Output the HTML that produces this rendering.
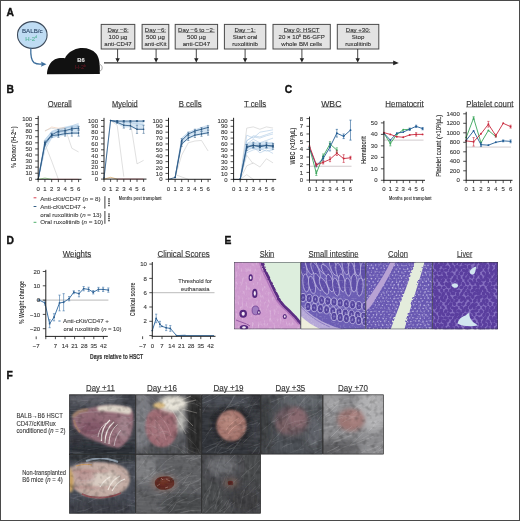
<!DOCTYPE html>
<html><head><meta charset="utf-8"><title>Figure</title>
<style>
html,body{margin:0;padding:0;background:#fff;}
body{width:520px;height:521px;overflow:hidden;}
svg{display:block;filter:blur(0.3px);font-family:"Liberation Sans",Arial,sans-serif;}
</style></head>
<body>
<svg width="520" height="521" viewBox="0 0 520 521">
<defs>
<filter id="b1" x="-20%" y="-20%" width="140%" height="140%"><feGaussianBlur stdDeviation="1"/></filter>
<filter id="b2" x="-30%" y="-30%" width="160%" height="160%"><feGaussianBlur stdDeviation="2"/></filter>
<filter id="b3" x="-30%" y="-30%" width="160%" height="160%"><feGaussianBlur stdDeviation="3"/></filter>
<filter id="b05"><feGaussianBlur stdDeviation="0.5"/></filter>
<filter id="fur" x="0" y="0" width="100%" height="100%"><feTurbulence type="fractalNoise" baseFrequency="0.06 0.5" numOctaves="2" seed="3"/><feColorMatrix type="matrix" values="0 0 0 0 1  0 0 0 0 1  0 0 0 0 1  1.2 0 0 0 -0.45"/></filter>
<filter id="fur2" x="0" y="0" width="100%" height="100%"><feTurbulence type="fractalNoise" baseFrequency="0.5 0.06" numOctaves="2" seed="7"/><feColorMatrix type="matrix" values="0 0 0 0 1  0 0 0 0 1  0 0 0 0 1  1.2 0 0 0 -0.45"/></filter>
<filter id="soft" x="-5%" y="-5%" width="110%" height="110%"><feGaussianBlur stdDeviation="0.6"/></filter>
<filter id="furb" x="0" y="0" width="100%" height="100%"><feTurbulence type="fractalNoise" baseFrequency="0.35 0.08" numOctaves="2" seed="13"/><feColorMatrix type="matrix" values="0 0 0 0 1  0 0 0 0 1  0 0 0 0 1  1.3 0 0 0 -0.5"/></filter>
<filter id="mottle" x="0" y="0" width="100%" height="100%"><feTurbulence type="fractalNoise" baseFrequency="0.18" numOctaves="2" seed="21"/><feColorMatrix type="matrix" values="0 0 0 0 0  0 0 0 0 0  0 0 0 0 0  -1.6 0 0 0 0.85"/></filter>
<filter id="dots" x="0" y="0" width="100%" height="100%"><feTurbulence type="fractalNoise" baseFrequency="0.55" numOctaves="1" seed="11"/><feColorMatrix type="matrix" values="0 0 0 0 1  0 0 0 0 1  0 0 0 0 1  3 0 0 0 -1.55"/></filter>
<filter id="skintex" x="0" y="0" width="100%" height="100%"><feTurbulence type="fractalNoise" baseFrequency="0.25 0.5" numOctaves="2" seed="9"/><feColorMatrix type="matrix" values="0 0 0 0 0.6  0 0 0 0 0.3  0 0 0 0 0.62  2.6 0 0 0 -1.25"/></filter>
<filter id="skinlite" x="0" y="0" width="100%" height="100%"><feTurbulence type="fractalNoise" baseFrequency="0.5 0.22" numOctaves="2" seed="17"/><feColorMatrix type="matrix" values="0 0 0 0 0.97  0 0 0 0 0.9  0 0 0 0 0.97  2.6 0 0 0 -1.35"/></filter>
<filter id="wavy" x="-10%" y="-10%" width="120%" height="120%"><feTurbulence type="turbulence" baseFrequency="0.3" numOctaves="1" seed="2" result="n"/><feDisplacementMap in="SourceGraphic" in2="n" scale="2.2"/></filter>
<filter id="cells" x="0" y="0" width="100%" height="100%"><feTurbulence type="turbulence" baseFrequency="0.35" numOctaves="1" seed="5"/><feColorMatrix type="matrix" values="0 0 0 0 1  0 0 0 0 1  0 0 0 0 1  -3 0 0 0 0.55"/></filter>
<clipPath id="ec0"><rect x="234.2" y="262.0" width="66.5" height="67.19999999999999"/></clipPath>
<clipPath id="ec1"><rect x="300.7" y="262.0" width="65.0" height="67.19999999999999"/></clipPath>
<clipPath id="ec2"><rect x="365.7" y="262.0" width="66.69999999999999" height="67.19999999999999"/></clipPath>
<clipPath id="ec3"><rect x="432.4" y="262.0" width="65.60000000000002" height="67.19999999999999"/></clipPath>
<clipPath id="fc00"><rect x="69.4" y="394.6" width="66.19999999999999" height="59.69999999999999"/></clipPath>
<clipPath id="fc10"><rect x="135.6" y="394.6" width="66.0" height="59.69999999999999"/></clipPath>
<clipPath id="fc20"><rect x="201.6" y="394.6" width="59.099999999999994" height="59.69999999999999"/></clipPath>
<clipPath id="fc30"><rect x="260.7" y="394.6" width="62.10000000000002" height="59.69999999999999"/></clipPath>
<clipPath id="fc40"><rect x="322.8" y="394.6" width="60.80000000000001" height="59.69999999999999"/></clipPath>
<clipPath id="fc01"><rect x="69.4" y="454.3" width="66.19999999999999" height="59.099999999999966"/></clipPath>
<clipPath id="fc11"><rect x="135.6" y="454.3" width="66.0" height="59.099999999999966"/></clipPath>
<clipPath id="fc21"><rect x="201.6" y="454.3" width="59.099999999999994" height="59.099999999999966"/></clipPath>
</defs>
<rect x="0" y="0" width="520" height="521" fill="#fff"/>
<text x="6.6" y="16.2" font-size="10.3" fill="#111" font-weight="bold" stroke="#111" stroke-width="0.35">A</text>
<ellipse cx="32.3" cy="35" rx="14.8" ry="13.4" fill="#bfdcf3" stroke="#3e4b5b" stroke-width="1.1"/>
<text x="32.3" y="33.2" font-size="6.2" fill="#2e4868" text-anchor="middle" stroke="#2e4868" stroke-width="0.12">BALB/c</text>
<text x="31.2" y="40.6" font-size="6.0" fill="#57b59a" text-anchor="middle" stroke="#57b59a" stroke-width="0.12">H-2<tspan font-size="3.6" dy="-2.2">d</tspan></text>
<path d="M30.8,48.6 C30.6,54 30.4,60 34,62.6 C36.5,64.2 40,64.2 42,64" fill="none" stroke="#3b6d9b" stroke-width="1.3"/>
<path d="M46.5,64.2 L40.8,61.4 L42,64.1 L40.8,66.8 Z" fill="#3b6d9b"/>
<path d="M47,74.3 C47,68 50,62 55,59.3 C58,57.8 62,57.6 65,58.2 C67,53.5 72,49.8 78,48.5 C85,47.2 92,49 96,53.5 C99.4,57.5 100.2,64 99.8,74 Z" fill="#111"/>
<path d="M99.4,64.5 C102.8,64.5 103.2,70.5 99.6,71.2" fill="none" stroke="#8a8a8a" stroke-width="0.8"/>
<text x="81" y="62.2" font-size="5.8" fill="#e8e8e8" text-anchor="middle" font-weight="bold" stroke="#e8e8e8" stroke-width="0.12">B6</text>
<text x="80.5" y="69.4" font-size="5.6" fill="#5e1622" text-anchor="middle" stroke="#5e1622" stroke-width="0.12">H-2<tspan font-size="3.5" dy="-2">b</tspan></text>
<line x1="104.00" y1="62.90" x2="394.00" y2="62.90" stroke="#333" stroke-width="1.2"/>
<path d="M398.8,62.9 L393.2,60.6 L393.2,65.2 Z" fill="#222"/>
<rect x="101.2" y="24.4" width="33.60000000000001" height="24.6" fill="#e3e3e3" stroke="#4a4a4a" stroke-width="1"/>
<text x="118.0" y="31.8" font-size="6.1" fill="#333" text-anchor="middle" stroke="#333" stroke-width="0.12">Day −8:</text>
<line x1="107.40" y1="32.50" x2="128.60" y2="32.50" stroke="#444" stroke-width="0.45"/>
<text x="118.0" y="39.0" font-size="6.1" fill="#333" text-anchor="middle" stroke="#333" stroke-width="0.12">100 µg</text>
<text x="118.0" y="46.1" font-size="6.1" fill="#333" text-anchor="middle" stroke="#333" stroke-width="0.12">anti-CD47</text>
<line x1="117.60" y1="49.00" x2="117.60" y2="59.00" stroke="#333" stroke-width="0.9"/>
<path d="M115.40,58.2 L119.80,58.2 L117.60,62.4 Z" fill="#222"/>
<rect x="142.1" y="24.4" width="26.700000000000017" height="24.6" fill="#e3e3e3" stroke="#4a4a4a" stroke-width="1"/>
<text x="155.45" y="31.8" font-size="6.1" fill="#333" text-anchor="middle" stroke="#333" stroke-width="0.12">Day −6:</text>
<line x1="144.85" y1="32.50" x2="166.05" y2="32.50" stroke="#444" stroke-width="0.45"/>
<text x="155.45" y="39.0" font-size="6.1" fill="#333" text-anchor="middle" stroke="#333" stroke-width="0.12">500 µg</text>
<text x="155.45" y="46.1" font-size="6.1" fill="#333" text-anchor="middle" stroke="#333" stroke-width="0.12">anti-cKit</text>
<line x1="156.10" y1="49.00" x2="156.10" y2="59.00" stroke="#333" stroke-width="0.9"/>
<path d="M153.90,58.2 L158.30,58.2 L156.10,62.4 Z" fill="#222"/>
<rect x="175.2" y="24.4" width="42.400000000000006" height="24.6" fill="#e3e3e3" stroke="#4a4a4a" stroke-width="1"/>
<text x="196.39999999999998" y="31.8" font-size="6.1" fill="#333" text-anchor="middle" stroke="#333" stroke-width="0.12">Day −6 to −2:</text>
<line x1="178.09" y1="32.50" x2="214.71" y2="32.50" stroke="#444" stroke-width="0.45"/>
<text x="196.39999999999998" y="39.0" font-size="6.1" fill="#333" text-anchor="middle" stroke="#333" stroke-width="0.12">500 µg</text>
<text x="196.39999999999998" y="46.1" font-size="6.1" fill="#333" text-anchor="middle" stroke="#333" stroke-width="0.12">anti-CD47</text>
<line x1="196.30" y1="49.00" x2="196.30" y2="59.00" stroke="#333" stroke-width="0.9"/>
<path d="M194.10,58.2 L198.50,58.2 L196.30,62.4 Z" fill="#222"/>
<rect x="224.4" y="24.4" width="41.400000000000006" height="24.6" fill="#e3e3e3" stroke="#4a4a4a" stroke-width="1"/>
<text x="245.10000000000002" y="31.8" font-size="6.1" fill="#333" text-anchor="middle" stroke="#333" stroke-width="0.12">Day −1:</text>
<line x1="234.50" y1="32.50" x2="255.70" y2="32.50" stroke="#444" stroke-width="0.45"/>
<text x="245.10000000000002" y="39.0" font-size="6.1" fill="#333" text-anchor="middle" stroke="#333" stroke-width="0.12">Start oral</text>
<text x="245.10000000000002" y="46.1" font-size="6.1" fill="#333" text-anchor="middle" stroke="#333" stroke-width="0.12">ruxolitinib</text>
<line x1="245.10" y1="49.00" x2="245.10" y2="59.00" stroke="#333" stroke-width="0.9"/>
<path d="M242.90,58.2 L247.30,58.2 L245.10,62.4 Z" fill="#222"/>
<rect x="273.0" y="24.4" width="57.30000000000001" height="24.6" fill="#e3e3e3" stroke="#4a4a4a" stroke-width="1"/>
<text x="301.65" y="31.8" font-size="6.1" fill="#333" text-anchor="middle" stroke="#333" stroke-width="0.12">Day 0: HSCT</text>
<line x1="283.69" y1="32.50" x2="319.61" y2="32.50" stroke="#444" stroke-width="0.45"/>
<text x="301.65" y="39.0" font-size="6.1" fill="#333" text-anchor="middle" stroke="#333" stroke-width="0.12">20 × 10<tspan font-size="3.6" dy="-2.2">6</tspan><tspan dy="2.2"> B6-GFP</tspan></text>
<text x="301.65" y="46.1" font-size="6.1" fill="#333" text-anchor="middle" stroke="#333" stroke-width="0.12">whole BM cells</text>
<line x1="301.90" y1="49.00" x2="301.90" y2="59.00" stroke="#333" stroke-width="0.9"/>
<path d="M299.70,58.2 L304.10,58.2 L301.90,62.4 Z" fill="#222"/>
<rect x="337.3" y="24.4" width="41.5" height="24.6" fill="#e3e3e3" stroke="#4a4a4a" stroke-width="1"/>
<text x="358.05" y="31.8" font-size="6.1" fill="#333" text-anchor="middle" stroke="#333" stroke-width="0.12">Day +30:</text>
<line x1="345.76" y1="32.50" x2="370.34" y2="32.50" stroke="#444" stroke-width="0.45"/>
<text x="358.05" y="39.0" font-size="6.1" fill="#333" text-anchor="middle" stroke="#333" stroke-width="0.12">Stop</text>
<text x="358.05" y="46.1" font-size="6.1" fill="#333" text-anchor="middle" stroke="#333" stroke-width="0.12">ruxolitinib</text>
<line x1="357.70" y1="49.00" x2="357.70" y2="59.00" stroke="#333" stroke-width="0.9"/>
<path d="M355.50,58.2 L359.90,58.2 L357.70,62.4 Z" fill="#222"/>
<text x="6.6" y="93.2" font-size="10.3" fill="#111" font-weight="bold" stroke="#111" stroke-width="0.35">B</text>
<path d="M44.93,139.17 L51.66,130.66 L58.39,128.23 L65.12,126.40 L71.85,125.19 L78.58,123.97 L78.58,134.31 L71.85,134.31 L65.12,135.52 L58.39,136.74 L51.66,137.96 L44.93,147.68 Z" fill="#c9def0" opacity="0.8"/>
<polyline points="38.20,179.30 44.93,141.60 51.66,133.70 58.39,130.66 65.12,128.23 71.85,125.80 78.58,123.36" fill="none" stroke="#a6c4e2" stroke-width="0.55" stroke-linejoin="round"/>
<polyline points="38.20,179.30 44.93,145.86 51.66,136.74 58.39,133.09 65.12,130.66 71.85,128.23 78.58,125.80" fill="none" stroke="#a6c4e2" stroke-width="0.55" stroke-linejoin="round"/>
<polyline points="38.20,179.30 44.93,150.12 51.66,137.96 58.39,135.52 65.12,131.88 71.85,129.44 78.58,127.01" fill="none" stroke="#a6c4e2" stroke-width="0.55" stroke-linejoin="round"/>
<polyline points="38.20,179.30 44.93,139.78 51.66,131.88 58.39,129.44 65.12,127.62 71.85,127.01 78.58,125.19" fill="none" stroke="#a6c4e2" stroke-width="0.55" stroke-linejoin="round"/>
<polyline points="44.93,131.27 51.66,127.01 58.39,128.23 65.12,127.62" fill="none" stroke="#f0c9b0" stroke-width="0.6" stroke-linejoin="round"/>
<polyline points="44.93,130.66 51.66,128.23 58.39,129.44 65.12,128.23 71.85,148.29 78.58,151.94" fill="none" stroke="#c6c6c6" stroke-width="0.55" stroke-linejoin="round"/>
<polyline points="44.93,144.04 51.66,161.06 58.39,179.30" fill="none" stroke="#c6c6c6" stroke-width="0.55" stroke-linejoin="round"/>
<polyline points="38.20,179.30 44.93,144.04 51.66,135.52 58.39,134.92 65.12,133.70 71.85,133.09 78.58,133.09" fill="none" stroke="#2c5a86" stroke-width="0.85" stroke-linejoin="round"/>
<circle cx="38.20" cy="179.30" r="0.8" fill="#24507a"/>
<line x1="44.93" y1="145.86" x2="44.93" y2="142.21" stroke="#2c5a86" stroke-width="0.5"/>
<line x1="43.83" y1="145.86" x2="46.03" y2="145.86" stroke="#2c5a86" stroke-width="0.5"/>
<line x1="43.83" y1="142.21" x2="46.03" y2="142.21" stroke="#2c5a86" stroke-width="0.5"/>
<circle cx="44.93" cy="144.04" r="0.8" fill="#24507a"/>
<line x1="51.66" y1="137.35" x2="51.66" y2="133.70" stroke="#2c5a86" stroke-width="0.5"/>
<line x1="50.56" y1="137.35" x2="52.76" y2="137.35" stroke="#2c5a86" stroke-width="0.5"/>
<line x1="50.56" y1="133.70" x2="52.76" y2="133.70" stroke="#2c5a86" stroke-width="0.5"/>
<circle cx="51.66" cy="135.52" r="0.8" fill="#24507a"/>
<line x1="58.39" y1="137.35" x2="58.39" y2="132.48" stroke="#2c5a86" stroke-width="0.5"/>
<line x1="57.29" y1="137.35" x2="59.49" y2="137.35" stroke="#2c5a86" stroke-width="0.5"/>
<line x1="57.29" y1="132.48" x2="59.49" y2="132.48" stroke="#2c5a86" stroke-width="0.5"/>
<circle cx="58.39" cy="134.92" r="0.8" fill="#24507a"/>
<line x1="65.12" y1="136.13" x2="65.12" y2="131.27" stroke="#2c5a86" stroke-width="0.5"/>
<line x1="64.02" y1="136.13" x2="66.22" y2="136.13" stroke="#2c5a86" stroke-width="0.5"/>
<line x1="64.02" y1="131.27" x2="66.22" y2="131.27" stroke="#2c5a86" stroke-width="0.5"/>
<circle cx="65.12" cy="133.70" r="0.8" fill="#24507a"/>
<line x1="71.85" y1="136.13" x2="71.85" y2="130.05" stroke="#2c5a86" stroke-width="0.5"/>
<line x1="70.75" y1="136.13" x2="72.95" y2="136.13" stroke="#2c5a86" stroke-width="0.5"/>
<line x1="70.75" y1="130.05" x2="72.95" y2="130.05" stroke="#2c5a86" stroke-width="0.5"/>
<circle cx="71.85" cy="133.09" r="0.8" fill="#24507a"/>
<line x1="78.58" y1="136.13" x2="78.58" y2="130.05" stroke="#2c5a86" stroke-width="0.5"/>
<line x1="77.48" y1="136.13" x2="79.68" y2="136.13" stroke="#2c5a86" stroke-width="0.5"/>
<line x1="77.48" y1="130.05" x2="79.68" y2="130.05" stroke="#2c5a86" stroke-width="0.5"/>
<circle cx="78.58" cy="133.09" r="0.8" fill="#24507a"/>
<polyline points="38.20,179.30 44.93,142.82 51.66,134.92 58.39,131.27 65.12,130.66 71.85,128.84 78.58,128.23" fill="none" stroke="#2c5a86" stroke-width="0.85" stroke-linejoin="round"/>
<circle cx="38.20" cy="179.30" r="0.8" fill="#24507a"/>
<line x1="44.93" y1="144.64" x2="44.93" y2="141.00" stroke="#2c5a86" stroke-width="0.5"/>
<line x1="43.83" y1="144.64" x2="46.03" y2="144.64" stroke="#2c5a86" stroke-width="0.5"/>
<line x1="43.83" y1="141.00" x2="46.03" y2="141.00" stroke="#2c5a86" stroke-width="0.5"/>
<circle cx="44.93" cy="142.82" r="0.8" fill="#24507a"/>
<line x1="51.66" y1="136.74" x2="51.66" y2="133.09" stroke="#2c5a86" stroke-width="0.5"/>
<line x1="50.56" y1="136.74" x2="52.76" y2="136.74" stroke="#2c5a86" stroke-width="0.5"/>
<line x1="50.56" y1="133.09" x2="52.76" y2="133.09" stroke="#2c5a86" stroke-width="0.5"/>
<circle cx="51.66" cy="134.92" r="0.8" fill="#24507a"/>
<line x1="58.39" y1="133.09" x2="58.39" y2="129.44" stroke="#2c5a86" stroke-width="0.5"/>
<line x1="57.29" y1="133.09" x2="59.49" y2="133.09" stroke="#2c5a86" stroke-width="0.5"/>
<line x1="57.29" y1="129.44" x2="59.49" y2="129.44" stroke="#2c5a86" stroke-width="0.5"/>
<circle cx="58.39" cy="131.27" r="0.8" fill="#24507a"/>
<line x1="65.12" y1="132.48" x2="65.12" y2="128.84" stroke="#2c5a86" stroke-width="0.5"/>
<line x1="64.02" y1="132.48" x2="66.22" y2="132.48" stroke="#2c5a86" stroke-width="0.5"/>
<line x1="64.02" y1="128.84" x2="66.22" y2="128.84" stroke="#2c5a86" stroke-width="0.5"/>
<circle cx="65.12" cy="130.66" r="0.8" fill="#24507a"/>
<line x1="71.85" y1="130.66" x2="71.85" y2="127.01" stroke="#2c5a86" stroke-width="0.5"/>
<line x1="70.75" y1="130.66" x2="72.95" y2="130.66" stroke="#2c5a86" stroke-width="0.5"/>
<line x1="70.75" y1="127.01" x2="72.95" y2="127.01" stroke="#2c5a86" stroke-width="0.5"/>
<circle cx="71.85" cy="128.84" r="0.8" fill="#24507a"/>
<line x1="78.58" y1="130.05" x2="78.58" y2="126.40" stroke="#2c5a86" stroke-width="0.5"/>
<line x1="77.48" y1="130.05" x2="79.68" y2="130.05" stroke="#2c5a86" stroke-width="0.5"/>
<line x1="77.48" y1="126.40" x2="79.68" y2="126.40" stroke="#2c5a86" stroke-width="0.5"/>
<circle cx="78.58" cy="128.23" r="0.8" fill="#24507a"/>
<polyline points="38.20,179.30 44.93,178.08 51.66,179.30" fill="none" stroke="#79b86a" stroke-width="0.7" stroke-linejoin="round"/>
<polyline points="51.66,179.30 78.58,179.30" fill="none" stroke="#e0707a" stroke-width="0.7" stroke-linejoin="round"/>
<line x1="38.20" y1="115.90" x2="38.20" y2="179.70" stroke="#222" stroke-width="1.0"/>
<line x1="35.20" y1="179.30" x2="38.20" y2="179.30" stroke="#222" stroke-width="0.8"/>
<line x1="35.20" y1="173.22" x2="38.20" y2="173.22" stroke="#222" stroke-width="0.8"/>
<line x1="35.20" y1="167.14" x2="38.20" y2="167.14" stroke="#222" stroke-width="0.8"/>
<line x1="35.20" y1="161.06" x2="38.20" y2="161.06" stroke="#222" stroke-width="0.8"/>
<line x1="35.20" y1="154.98" x2="38.20" y2="154.98" stroke="#222" stroke-width="0.8"/>
<line x1="35.20" y1="148.90" x2="38.20" y2="148.90" stroke="#222" stroke-width="0.8"/>
<line x1="35.20" y1="142.82" x2="38.20" y2="142.82" stroke="#222" stroke-width="0.8"/>
<line x1="35.20" y1="136.74" x2="38.20" y2="136.74" stroke="#222" stroke-width="0.8"/>
<line x1="35.20" y1="130.66" x2="38.20" y2="130.66" stroke="#222" stroke-width="0.8"/>
<line x1="35.20" y1="124.58" x2="38.20" y2="124.58" stroke="#222" stroke-width="0.8"/>
<line x1="35.20" y1="118.50" x2="38.20" y2="118.50" stroke="#222" stroke-width="0.8"/>
<text x="32.2" y="181.4" font-size="6.0" fill="#3a3a3a" text-anchor="end" stroke="#3a3a3a" stroke-width="0.12">0</text>
<text x="32.2" y="175.32" font-size="6.0" fill="#3a3a3a" text-anchor="end" stroke="#3a3a3a" stroke-width="0.12">10</text>
<text x="32.2" y="169.24" font-size="6.0" fill="#3a3a3a" text-anchor="end" stroke="#3a3a3a" stroke-width="0.12">20</text>
<text x="32.2" y="163.16" font-size="6.0" fill="#3a3a3a" text-anchor="end" stroke="#3a3a3a" stroke-width="0.12">30</text>
<text x="32.2" y="157.08" font-size="6.0" fill="#3a3a3a" text-anchor="end" stroke="#3a3a3a" stroke-width="0.12">40</text>
<text x="32.2" y="151.0" font-size="6.0" fill="#3a3a3a" text-anchor="end" stroke="#3a3a3a" stroke-width="0.12">50</text>
<text x="32.2" y="144.92" font-size="6.0" fill="#3a3a3a" text-anchor="end" stroke="#3a3a3a" stroke-width="0.12">60</text>
<text x="32.2" y="138.84" font-size="6.0" fill="#3a3a3a" text-anchor="end" stroke="#3a3a3a" stroke-width="0.12">70</text>
<text x="32.2" y="132.76" font-size="6.0" fill="#3a3a3a" text-anchor="end" stroke="#3a3a3a" stroke-width="0.12">80</text>
<text x="32.2" y="126.68" font-size="6.0" fill="#3a3a3a" text-anchor="end" stroke="#3a3a3a" stroke-width="0.12">90</text>
<text x="32.2" y="120.6" font-size="6.0" fill="#3a3a3a" text-anchor="end" stroke="#3a3a3a" stroke-width="0.12">100</text>
<line x1="37.70" y1="179.30" x2="81.50" y2="179.30" stroke="#222" stroke-width="1.0"/>
<line x1="38.20" y1="179.30" x2="38.20" y2="182.10" stroke="#222" stroke-width="0.8"/>
<line x1="44.93" y1="179.30" x2="44.93" y2="182.10" stroke="#222" stroke-width="0.8"/>
<line x1="51.66" y1="179.30" x2="51.66" y2="182.10" stroke="#222" stroke-width="0.8"/>
<line x1="58.39" y1="179.30" x2="58.39" y2="182.10" stroke="#222" stroke-width="0.8"/>
<line x1="65.12" y1="179.30" x2="65.12" y2="182.10" stroke="#222" stroke-width="0.8"/>
<line x1="71.85" y1="179.30" x2="71.85" y2="182.10" stroke="#222" stroke-width="0.8"/>
<line x1="78.58" y1="179.30" x2="78.58" y2="182.10" stroke="#222" stroke-width="0.8"/>
<text x="38.2" y="191.0" font-size="6.0" fill="#3a3a3a" text-anchor="middle" stroke="#3a3a3a" stroke-width="0.12">0</text>
<text x="44.93000000000001" y="191.0" font-size="6.0" fill="#3a3a3a" text-anchor="middle" stroke="#3a3a3a" stroke-width="0.12">1</text>
<text x="51.660000000000004" y="191.0" font-size="6.0" fill="#3a3a3a" text-anchor="middle" stroke="#3a3a3a" stroke-width="0.12">2</text>
<text x="58.39" y="191.0" font-size="6.0" fill="#3a3a3a" text-anchor="middle" stroke="#3a3a3a" stroke-width="0.12">3</text>
<text x="65.12" y="191.0" font-size="6.0" fill="#3a3a3a" text-anchor="middle" stroke="#3a3a3a" stroke-width="0.12">4</text>
<text x="71.85000000000001" y="191.0" font-size="6.0" fill="#3a3a3a" text-anchor="middle" stroke="#3a3a3a" stroke-width="0.12">5</text>
<text x="78.58000000000001" y="191.0" font-size="6.0" fill="#3a3a3a" text-anchor="middle" stroke="#3a3a3a" stroke-width="0.12">6</text>
<text x="59.75" y="106.6" font-size="8.4" fill="#333" text-anchor="middle" textLength="23.9" lengthAdjust="spacingAndGlyphs" stroke="#333" stroke-width="0.12">Overall</text>
<line x1="47.80" y1="107.00" x2="71.70" y2="107.00" stroke="#333" stroke-width="0.6"/>
<path d="M110.60,120.50 L117.20,120.50 L123.80,120.50 L130.40,120.50 L137.00,120.50 L143.60,120.50 L143.60,129.88 L137.00,129.88 L130.40,127.53 L123.80,127.53 L117.20,124.02 L110.60,121.09 Z" fill="#c9def0" opacity="0.8"/>
<polyline points="104.00,179.10 110.60,120.50 117.20,121.09 123.80,122.26 130.40,122.84 137.00,123.43 143.60,125.19" fill="none" stroke="#a6c4e2" stroke-width="0.55" stroke-linejoin="round"/>
<polyline points="110.60,120.50 117.20,125.19 123.80,176.76" fill="none" stroke="#c6c6c6" stroke-width="0.55" stroke-linejoin="round"/>
<polyline points="130.40,121.67 137.00,163.86 143.60,160.35" fill="none" stroke="#c6c6c6" stroke-width="0.55" stroke-linejoin="round"/>
<polyline points="104.00,177.93 110.60,120.50 117.20,121.09 123.80,121.09 130.40,121.09 137.00,121.09 143.60,121.09" fill="none" stroke="#2c5a86" stroke-width="0.85" stroke-linejoin="round"/>
<circle cx="104.00" cy="177.93" r="0.8" fill="#24507a"/>
<circle cx="110.60" cy="120.50" r="0.8" fill="#24507a"/>
<line x1="117.20" y1="121.67" x2="117.20" y2="120.50" stroke="#2c5a86" stroke-width="0.5"/>
<line x1="116.10" y1="121.67" x2="118.30" y2="121.67" stroke="#2c5a86" stroke-width="0.5"/>
<line x1="116.10" y1="120.50" x2="118.30" y2="120.50" stroke="#2c5a86" stroke-width="0.5"/>
<circle cx="117.20" cy="121.09" r="0.8" fill="#24507a"/>
<line x1="123.80" y1="121.67" x2="123.80" y2="120.50" stroke="#2c5a86" stroke-width="0.5"/>
<line x1="122.70" y1="121.67" x2="124.90" y2="121.67" stroke="#2c5a86" stroke-width="0.5"/>
<line x1="122.70" y1="120.50" x2="124.90" y2="120.50" stroke="#2c5a86" stroke-width="0.5"/>
<circle cx="123.80" cy="121.09" r="0.8" fill="#24507a"/>
<line x1="130.40" y1="121.67" x2="130.40" y2="120.50" stroke="#2c5a86" stroke-width="0.5"/>
<line x1="129.30" y1="121.67" x2="131.50" y2="121.67" stroke="#2c5a86" stroke-width="0.5"/>
<line x1="129.30" y1="120.50" x2="131.50" y2="120.50" stroke="#2c5a86" stroke-width="0.5"/>
<circle cx="130.40" cy="121.09" r="0.8" fill="#24507a"/>
<line x1="137.00" y1="121.67" x2="137.00" y2="120.50" stroke="#2c5a86" stroke-width="0.5"/>
<line x1="135.90" y1="121.67" x2="138.10" y2="121.67" stroke="#2c5a86" stroke-width="0.5"/>
<line x1="135.90" y1="120.50" x2="138.10" y2="120.50" stroke="#2c5a86" stroke-width="0.5"/>
<circle cx="137.00" cy="121.09" r="0.8" fill="#24507a"/>
<line x1="143.60" y1="121.67" x2="143.60" y2="120.50" stroke="#2c5a86" stroke-width="0.5"/>
<line x1="142.50" y1="121.67" x2="144.70" y2="121.67" stroke="#2c5a86" stroke-width="0.5"/>
<line x1="142.50" y1="120.50" x2="144.70" y2="120.50" stroke="#2c5a86" stroke-width="0.5"/>
<circle cx="143.60" cy="121.09" r="0.8" fill="#24507a"/>
<polyline points="110.60,120.50 117.20,122.26 123.80,125.19 130.40,125.77 137.00,129.29 143.60,129.29" fill="none" stroke="#2c5a86" stroke-width="0.85" stroke-linejoin="round"/>
<circle cx="110.60" cy="120.50" r="0.8" fill="#24507a"/>
<line x1="117.20" y1="123.43" x2="117.20" y2="121.09" stroke="#2c5a86" stroke-width="0.5"/>
<line x1="116.10" y1="123.43" x2="118.30" y2="123.43" stroke="#2c5a86" stroke-width="0.5"/>
<line x1="116.10" y1="121.09" x2="118.30" y2="121.09" stroke="#2c5a86" stroke-width="0.5"/>
<circle cx="117.20" cy="122.26" r="0.8" fill="#24507a"/>
<line x1="123.80" y1="128.12" x2="123.80" y2="122.26" stroke="#2c5a86" stroke-width="0.5"/>
<line x1="122.70" y1="128.12" x2="124.90" y2="128.12" stroke="#2c5a86" stroke-width="0.5"/>
<line x1="122.70" y1="122.26" x2="124.90" y2="122.26" stroke="#2c5a86" stroke-width="0.5"/>
<circle cx="123.80" cy="125.19" r="0.8" fill="#24507a"/>
<line x1="130.40" y1="129.29" x2="130.40" y2="122.26" stroke="#2c5a86" stroke-width="0.5"/>
<line x1="129.30" y1="129.29" x2="131.50" y2="129.29" stroke="#2c5a86" stroke-width="0.5"/>
<line x1="129.30" y1="122.26" x2="131.50" y2="122.26" stroke="#2c5a86" stroke-width="0.5"/>
<circle cx="130.40" cy="125.77" r="0.8" fill="#24507a"/>
<line x1="137.00" y1="133.39" x2="137.00" y2="125.19" stroke="#2c5a86" stroke-width="0.5"/>
<line x1="135.90" y1="133.39" x2="138.10" y2="133.39" stroke="#2c5a86" stroke-width="0.5"/>
<line x1="135.90" y1="125.19" x2="138.10" y2="125.19" stroke="#2c5a86" stroke-width="0.5"/>
<circle cx="137.00" cy="129.29" r="0.8" fill="#24507a"/>
<line x1="143.60" y1="133.39" x2="143.60" y2="125.19" stroke="#2c5a86" stroke-width="0.5"/>
<line x1="142.50" y1="133.39" x2="144.70" y2="133.39" stroke="#2c5a86" stroke-width="0.5"/>
<line x1="142.50" y1="125.19" x2="144.70" y2="125.19" stroke="#2c5a86" stroke-width="0.5"/>
<circle cx="143.60" cy="129.29" r="0.8" fill="#24507a"/>
<polyline points="104.00,179.10 110.60,177.34 117.20,179.10" fill="none" stroke="#d9a45a" stroke-width="0.7" stroke-linejoin="round"/>
<polyline points="117.20,179.10 143.60,179.10" fill="none" stroke="#e0707a" stroke-width="0.7" stroke-linejoin="round"/>
<line x1="104.00" y1="117.90" x2="104.00" y2="179.50" stroke="#222" stroke-width="1.0"/>
<line x1="101.00" y1="179.10" x2="104.00" y2="179.10" stroke="#222" stroke-width="0.8"/>
<line x1="101.00" y1="173.24" x2="104.00" y2="173.24" stroke="#222" stroke-width="0.8"/>
<line x1="101.00" y1="167.38" x2="104.00" y2="167.38" stroke="#222" stroke-width="0.8"/>
<line x1="101.00" y1="161.52" x2="104.00" y2="161.52" stroke="#222" stroke-width="0.8"/>
<line x1="101.00" y1="155.66" x2="104.00" y2="155.66" stroke="#222" stroke-width="0.8"/>
<line x1="101.00" y1="149.80" x2="104.00" y2="149.80" stroke="#222" stroke-width="0.8"/>
<line x1="101.00" y1="143.94" x2="104.00" y2="143.94" stroke="#222" stroke-width="0.8"/>
<line x1="101.00" y1="138.08" x2="104.00" y2="138.08" stroke="#222" stroke-width="0.8"/>
<line x1="101.00" y1="132.22" x2="104.00" y2="132.22" stroke="#222" stroke-width="0.8"/>
<line x1="101.00" y1="126.36" x2="104.00" y2="126.36" stroke="#222" stroke-width="0.8"/>
<line x1="101.00" y1="120.50" x2="104.00" y2="120.50" stroke="#222" stroke-width="0.8"/>
<text x="98.0" y="181.2" font-size="6.0" fill="#3a3a3a" text-anchor="end" stroke="#3a3a3a" stroke-width="0.12">0</text>
<text x="98.0" y="175.33999999999997" font-size="6.0" fill="#3a3a3a" text-anchor="end" stroke="#3a3a3a" stroke-width="0.12">10</text>
<text x="98.0" y="169.48" font-size="6.0" fill="#3a3a3a" text-anchor="end" stroke="#3a3a3a" stroke-width="0.12">20</text>
<text x="98.0" y="163.61999999999998" font-size="6.0" fill="#3a3a3a" text-anchor="end" stroke="#3a3a3a" stroke-width="0.12">30</text>
<text x="98.0" y="157.76" font-size="6.0" fill="#3a3a3a" text-anchor="end" stroke="#3a3a3a" stroke-width="0.12">40</text>
<text x="98.0" y="151.9" font-size="6.0" fill="#3a3a3a" text-anchor="end" stroke="#3a3a3a" stroke-width="0.12">50</text>
<text x="98.0" y="146.04" font-size="6.0" fill="#3a3a3a" text-anchor="end" stroke="#3a3a3a" stroke-width="0.12">60</text>
<text x="98.0" y="140.17999999999998" font-size="6.0" fill="#3a3a3a" text-anchor="end" stroke="#3a3a3a" stroke-width="0.12">70</text>
<text x="98.0" y="134.32" font-size="6.0" fill="#3a3a3a" text-anchor="end" stroke="#3a3a3a" stroke-width="0.12">80</text>
<text x="98.0" y="128.46" font-size="6.0" fill="#3a3a3a" text-anchor="end" stroke="#3a3a3a" stroke-width="0.12">90</text>
<text x="98.0" y="122.6" font-size="6.0" fill="#3a3a3a" text-anchor="end" stroke="#3a3a3a" stroke-width="0.12">100</text>
<line x1="103.50" y1="179.10" x2="146.50" y2="179.10" stroke="#222" stroke-width="1.0"/>
<line x1="104.00" y1="179.10" x2="104.00" y2="181.90" stroke="#222" stroke-width="0.8"/>
<line x1="110.60" y1="179.10" x2="110.60" y2="181.90" stroke="#222" stroke-width="0.8"/>
<line x1="117.20" y1="179.10" x2="117.20" y2="181.90" stroke="#222" stroke-width="0.8"/>
<line x1="123.80" y1="179.10" x2="123.80" y2="181.90" stroke="#222" stroke-width="0.8"/>
<line x1="130.40" y1="179.10" x2="130.40" y2="181.90" stroke="#222" stroke-width="0.8"/>
<line x1="137.00" y1="179.10" x2="137.00" y2="181.90" stroke="#222" stroke-width="0.8"/>
<line x1="143.60" y1="179.10" x2="143.60" y2="181.90" stroke="#222" stroke-width="0.8"/>
<text x="104.0" y="191.0" font-size="6.0" fill="#3a3a3a" text-anchor="middle" stroke="#3a3a3a" stroke-width="0.12">0</text>
<text x="110.6" y="191.0" font-size="6.0" fill="#3a3a3a" text-anchor="middle" stroke="#3a3a3a" stroke-width="0.12">1</text>
<text x="117.2" y="191.0" font-size="6.0" fill="#3a3a3a" text-anchor="middle" stroke="#3a3a3a" stroke-width="0.12">2</text>
<text x="123.8" y="191.0" font-size="6.0" fill="#3a3a3a" text-anchor="middle" stroke="#3a3a3a" stroke-width="0.12">3</text>
<text x="130.4" y="191.0" font-size="6.0" fill="#3a3a3a" text-anchor="middle" stroke="#3a3a3a" stroke-width="0.12">4</text>
<text x="137.0" y="191.0" font-size="6.0" fill="#3a3a3a" text-anchor="middle" stroke="#3a3a3a" stroke-width="0.12">5</text>
<text x="143.6" y="191.0" font-size="6.0" fill="#3a3a3a" text-anchor="middle" stroke="#3a3a3a" stroke-width="0.12">6</text>
<text x="124.9" y="106.6" font-size="8.4" fill="#333" text-anchor="middle" textLength="25.7" lengthAdjust="spacingAndGlyphs" stroke="#333" stroke-width="0.12">Myeloid</text>
<line x1="112.05" y1="107.00" x2="137.75" y2="107.00" stroke="#333" stroke-width="0.6"/>
<path d="M181.70,138.07 L188.30,132.18 L194.90,129.82 L201.50,128.06 L208.10,126.29 L208.10,133.95 L201.50,135.12 L194.90,136.30 L188.30,139.25 L181.70,145.14 Z" fill="#c9def0" opacity="0.8"/>
<polyline points="175.10,177.53 181.70,138.07 188.30,132.18 194.90,129.82 201.50,127.47 208.10,125.11" fill="none" stroke="#a6c4e2" stroke-width="0.55" stroke-linejoin="round"/>
<polyline points="175.10,177.53 181.70,141.60 188.30,135.12 194.90,131.00 201.50,128.65 208.10,126.29" fill="none" stroke="#a6c4e2" stroke-width="0.55" stroke-linejoin="round"/>
<polyline points="175.10,177.53 181.70,155.15 188.30,142.78 194.90,141.02 201.50,140.43 208.10,151.03" fill="none" stroke="#c6c6c6" stroke-width="0.55" stroke-linejoin="round"/>
<polyline points="175.10,174.59 188.30,179.30" fill="none" stroke="#c6c6c6" stroke-width="0.55" stroke-linejoin="round"/>
<polyline points="168.50,179.30 175.10,177.53 181.70,143.96 188.30,138.07 194.90,135.12 201.50,133.95 208.10,132.77" fill="none" stroke="#2c5a86" stroke-width="0.85" stroke-linejoin="round"/>
<circle cx="168.50" cy="179.30" r="0.8" fill="#24507a"/>
<circle cx="175.10" cy="177.53" r="0.8" fill="#24507a"/>
<line x1="181.70" y1="146.32" x2="181.70" y2="141.60" stroke="#2c5a86" stroke-width="0.5"/>
<line x1="180.60" y1="146.32" x2="182.80" y2="146.32" stroke="#2c5a86" stroke-width="0.5"/>
<line x1="180.60" y1="141.60" x2="182.80" y2="141.60" stroke="#2c5a86" stroke-width="0.5"/>
<circle cx="181.70" cy="143.96" r="0.8" fill="#24507a"/>
<line x1="188.30" y1="140.43" x2="188.30" y2="135.71" stroke="#2c5a86" stroke-width="0.5"/>
<line x1="187.20" y1="140.43" x2="189.40" y2="140.43" stroke="#2c5a86" stroke-width="0.5"/>
<line x1="187.20" y1="135.71" x2="189.40" y2="135.71" stroke="#2c5a86" stroke-width="0.5"/>
<circle cx="188.30" cy="138.07" r="0.8" fill="#24507a"/>
<line x1="194.90" y1="137.48" x2="194.90" y2="132.77" stroke="#2c5a86" stroke-width="0.5"/>
<line x1="193.80" y1="137.48" x2="196.00" y2="137.48" stroke="#2c5a86" stroke-width="0.5"/>
<line x1="193.80" y1="132.77" x2="196.00" y2="132.77" stroke="#2c5a86" stroke-width="0.5"/>
<circle cx="194.90" cy="135.12" r="0.8" fill="#24507a"/>
<line x1="201.50" y1="136.30" x2="201.50" y2="131.59" stroke="#2c5a86" stroke-width="0.5"/>
<line x1="200.40" y1="136.30" x2="202.60" y2="136.30" stroke="#2c5a86" stroke-width="0.5"/>
<line x1="200.40" y1="131.59" x2="202.60" y2="131.59" stroke="#2c5a86" stroke-width="0.5"/>
<circle cx="201.50" cy="133.95" r="0.8" fill="#24507a"/>
<line x1="208.10" y1="135.12" x2="208.10" y2="130.41" stroke="#2c5a86" stroke-width="0.5"/>
<line x1="207.00" y1="135.12" x2="209.20" y2="135.12" stroke="#2c5a86" stroke-width="0.5"/>
<line x1="207.00" y1="130.41" x2="209.20" y2="130.41" stroke="#2c5a86" stroke-width="0.5"/>
<circle cx="208.10" cy="132.77" r="0.8" fill="#24507a"/>
<polyline points="175.10,177.53 181.70,140.43 188.30,133.95 194.90,131.00 201.50,129.24 208.10,127.47" fill="none" stroke="#2c5a86" stroke-width="0.85" stroke-linejoin="round"/>
<circle cx="175.10" cy="177.53" r="0.8" fill="#24507a"/>
<line x1="181.70" y1="142.19" x2="181.70" y2="138.66" stroke="#2c5a86" stroke-width="0.5"/>
<line x1="180.60" y1="142.19" x2="182.80" y2="142.19" stroke="#2c5a86" stroke-width="0.5"/>
<line x1="180.60" y1="138.66" x2="182.80" y2="138.66" stroke="#2c5a86" stroke-width="0.5"/>
<circle cx="181.70" cy="140.43" r="0.8" fill="#24507a"/>
<line x1="188.30" y1="135.71" x2="188.30" y2="132.18" stroke="#2c5a86" stroke-width="0.5"/>
<line x1="187.20" y1="135.71" x2="189.40" y2="135.71" stroke="#2c5a86" stroke-width="0.5"/>
<line x1="187.20" y1="132.18" x2="189.40" y2="132.18" stroke="#2c5a86" stroke-width="0.5"/>
<circle cx="188.30" cy="133.95" r="0.8" fill="#24507a"/>
<line x1="194.90" y1="132.77" x2="194.90" y2="129.24" stroke="#2c5a86" stroke-width="0.5"/>
<line x1="193.80" y1="132.77" x2="196.00" y2="132.77" stroke="#2c5a86" stroke-width="0.5"/>
<line x1="193.80" y1="129.24" x2="196.00" y2="129.24" stroke="#2c5a86" stroke-width="0.5"/>
<circle cx="194.90" cy="131.00" r="0.8" fill="#24507a"/>
<line x1="201.50" y1="131.00" x2="201.50" y2="127.47" stroke="#2c5a86" stroke-width="0.5"/>
<line x1="200.40" y1="131.00" x2="202.60" y2="131.00" stroke="#2c5a86" stroke-width="0.5"/>
<line x1="200.40" y1="127.47" x2="202.60" y2="127.47" stroke="#2c5a86" stroke-width="0.5"/>
<circle cx="201.50" cy="129.24" r="0.8" fill="#24507a"/>
<line x1="208.10" y1="129.24" x2="208.10" y2="125.70" stroke="#2c5a86" stroke-width="0.5"/>
<line x1="207.00" y1="129.24" x2="209.20" y2="129.24" stroke="#2c5a86" stroke-width="0.5"/>
<line x1="207.00" y1="125.70" x2="209.20" y2="125.70" stroke="#2c5a86" stroke-width="0.5"/>
<circle cx="208.10" cy="127.47" r="0.8" fill="#24507a"/>
<line x1="168.50" y1="117.80" x2="168.50" y2="179.70" stroke="#222" stroke-width="1.0"/>
<line x1="165.50" y1="179.30" x2="168.50" y2="179.30" stroke="#222" stroke-width="0.8"/>
<line x1="165.50" y1="173.41" x2="168.50" y2="173.41" stroke="#222" stroke-width="0.8"/>
<line x1="165.50" y1="167.52" x2="168.50" y2="167.52" stroke="#222" stroke-width="0.8"/>
<line x1="165.50" y1="161.63" x2="168.50" y2="161.63" stroke="#222" stroke-width="0.8"/>
<line x1="165.50" y1="155.74" x2="168.50" y2="155.74" stroke="#222" stroke-width="0.8"/>
<line x1="165.50" y1="149.85" x2="168.50" y2="149.85" stroke="#222" stroke-width="0.8"/>
<line x1="165.50" y1="143.96" x2="168.50" y2="143.96" stroke="#222" stroke-width="0.8"/>
<line x1="165.50" y1="138.07" x2="168.50" y2="138.07" stroke="#222" stroke-width="0.8"/>
<line x1="165.50" y1="132.18" x2="168.50" y2="132.18" stroke="#222" stroke-width="0.8"/>
<line x1="165.50" y1="126.29" x2="168.50" y2="126.29" stroke="#222" stroke-width="0.8"/>
<line x1="165.50" y1="120.40" x2="168.50" y2="120.40" stroke="#222" stroke-width="0.8"/>
<text x="162.5" y="181.4" font-size="6.0" fill="#3a3a3a" text-anchor="end" stroke="#3a3a3a" stroke-width="0.12">0</text>
<text x="162.5" y="175.51000000000002" font-size="6.0" fill="#3a3a3a" text-anchor="end" stroke="#3a3a3a" stroke-width="0.12">10</text>
<text x="162.5" y="169.62" font-size="6.0" fill="#3a3a3a" text-anchor="end" stroke="#3a3a3a" stroke-width="0.12">20</text>
<text x="162.5" y="163.73" font-size="6.0" fill="#3a3a3a" text-anchor="end" stroke="#3a3a3a" stroke-width="0.12">30</text>
<text x="162.5" y="157.84" font-size="6.0" fill="#3a3a3a" text-anchor="end" stroke="#3a3a3a" stroke-width="0.12">40</text>
<text x="162.5" y="151.95000000000002" font-size="6.0" fill="#3a3a3a" text-anchor="end" stroke="#3a3a3a" stroke-width="0.12">50</text>
<text x="162.5" y="146.06" font-size="6.0" fill="#3a3a3a" text-anchor="end" stroke="#3a3a3a" stroke-width="0.12">60</text>
<text x="162.5" y="140.17000000000002" font-size="6.0" fill="#3a3a3a" text-anchor="end" stroke="#3a3a3a" stroke-width="0.12">70</text>
<text x="162.5" y="134.28" font-size="6.0" fill="#3a3a3a" text-anchor="end" stroke="#3a3a3a" stroke-width="0.12">80</text>
<text x="162.5" y="128.39" font-size="6.0" fill="#3a3a3a" text-anchor="end" stroke="#3a3a3a" stroke-width="0.12">90</text>
<text x="162.5" y="122.5" font-size="6.0" fill="#3a3a3a" text-anchor="end" stroke="#3a3a3a" stroke-width="0.12">100</text>
<line x1="168.00" y1="179.30" x2="211.00" y2="179.30" stroke="#222" stroke-width="1.0"/>
<line x1="168.50" y1="179.30" x2="168.50" y2="182.10" stroke="#222" stroke-width="0.8"/>
<line x1="175.10" y1="179.30" x2="175.10" y2="182.10" stroke="#222" stroke-width="0.8"/>
<line x1="181.70" y1="179.30" x2="181.70" y2="182.10" stroke="#222" stroke-width="0.8"/>
<line x1="188.30" y1="179.30" x2="188.30" y2="182.10" stroke="#222" stroke-width="0.8"/>
<line x1="194.90" y1="179.30" x2="194.90" y2="182.10" stroke="#222" stroke-width="0.8"/>
<line x1="201.50" y1="179.30" x2="201.50" y2="182.10" stroke="#222" stroke-width="0.8"/>
<line x1="208.10" y1="179.30" x2="208.10" y2="182.10" stroke="#222" stroke-width="0.8"/>
<text x="168.5" y="191.0" font-size="6.0" fill="#3a3a3a" text-anchor="middle" stroke="#3a3a3a" stroke-width="0.12">0</text>
<text x="175.1" y="191.0" font-size="6.0" fill="#3a3a3a" text-anchor="middle" stroke="#3a3a3a" stroke-width="0.12">1</text>
<text x="181.7" y="191.0" font-size="6.0" fill="#3a3a3a" text-anchor="middle" stroke="#3a3a3a" stroke-width="0.12">2</text>
<text x="188.3" y="191.0" font-size="6.0" fill="#3a3a3a" text-anchor="middle" stroke="#3a3a3a" stroke-width="0.12">3</text>
<text x="194.9" y="191.0" font-size="6.0" fill="#3a3a3a" text-anchor="middle" stroke="#3a3a3a" stroke-width="0.12">4</text>
<text x="201.5" y="191.0" font-size="6.0" fill="#3a3a3a" text-anchor="middle" stroke="#3a3a3a" stroke-width="0.12">5</text>
<text x="208.1" y="191.0" font-size="6.0" fill="#3a3a3a" text-anchor="middle" stroke="#3a3a3a" stroke-width="0.12">6</text>
<text x="190.2" y="106.6" font-size="8.4" fill="#333" text-anchor="middle" textLength="23.0" lengthAdjust="spacingAndGlyphs" stroke="#333" stroke-width="0.12">B cells</text>
<line x1="178.70" y1="107.00" x2="201.70" y2="107.00" stroke="#333" stroke-width="0.6"/>
<path d="M246.74,142.82 L253.31,141.64 L259.88,142.23 L266.45,141.64 L273.02,142.23 L273.02,149.90 L266.45,148.72 L259.88,149.90 L253.31,148.72 L246.74,149.90 Z" fill="#c9def0" opacity="0.8"/>
<polyline points="240.17,179.40 246.74,128.07 253.31,126.89 259.88,129.25 266.45,126.89 273.02,128.07" fill="none" stroke="#c6c6c6" stroke-width="0.55" stroke-linejoin="round"/>
<polyline points="240.17,179.40 246.74,135.15 253.31,138.10 259.88,132.20 266.45,131.02 273.02,129.84" fill="none" stroke="#a6c4e2" stroke-width="0.55" stroke-linejoin="round"/>
<polyline points="240.17,179.40 246.74,141.05 253.31,135.74 259.88,136.92 266.45,134.56 273.02,132.20" fill="none" stroke="#a6c4e2" stroke-width="0.55" stroke-linejoin="round"/>
<polyline points="240.17,179.40 246.74,165.83 253.31,162.88 259.88,167.01 266.45,158.75 273.02,162.88" fill="none" stroke="#c6c6c6" stroke-width="0.55" stroke-linejoin="round"/>
<polyline points="240.17,179.40 246.74,155.21 253.31,164.06" fill="none" stroke="#c6c6c6" stroke-width="0.55" stroke-linejoin="round"/>
<polyline points="240.17,179.40 246.74,174.68 253.31,179.40" fill="none" stroke="#c6c6c6" stroke-width="0.55" stroke-linejoin="round"/>
<polyline points="240.17,179.40 246.74,144.00 253.31,139.28 259.88,142.82 266.45,140.46 273.02,138.10" fill="none" stroke="#a6c4e2" stroke-width="0.55" stroke-linejoin="round"/>
<polyline points="240.17,179.40 246.74,151.08 253.31,146.95 259.88,152.85 266.45,149.90 273.02,153.44" fill="none" stroke="#a6c4e2" stroke-width="0.55" stroke-linejoin="round"/>
<polyline points="240.17,179.40 246.74,140.46 253.31,136.92 259.88,138.10 266.45,135.74 273.02,133.97" fill="none" stroke="#a6c4e2" stroke-width="0.55" stroke-linejoin="round"/>
<polyline points="240.17,179.40 246.74,148.72 253.31,142.82 259.88,145.18 266.45,144.00 273.02,142.82" fill="none" stroke="#a6c4e2" stroke-width="0.55" stroke-linejoin="round"/>
<polyline points="240.17,179.40 246.74,152.85 253.31,149.90 259.88,148.72 266.45,151.08 273.02,149.90" fill="none" stroke="#a6c4e2" stroke-width="0.55" stroke-linejoin="round"/>
<polyline points="233.60,179.40 240.17,179.40 246.74,147.54 253.31,145.18 259.88,146.95 266.45,145.18 273.02,146.36" fill="none" stroke="#2c5a86" stroke-width="0.85" stroke-linejoin="round"/>
<circle cx="233.60" cy="179.40" r="0.8" fill="#24507a"/>
<circle cx="240.17" cy="179.40" r="0.8" fill="#24507a"/>
<line x1="246.74" y1="150.49" x2="246.74" y2="144.59" stroke="#2c5a86" stroke-width="0.5"/>
<line x1="245.64" y1="150.49" x2="247.84" y2="150.49" stroke="#2c5a86" stroke-width="0.5"/>
<line x1="245.64" y1="144.59" x2="247.84" y2="144.59" stroke="#2c5a86" stroke-width="0.5"/>
<circle cx="246.74" cy="147.54" r="0.8" fill="#24507a"/>
<line x1="253.31" y1="148.13" x2="253.31" y2="142.23" stroke="#2c5a86" stroke-width="0.5"/>
<line x1="252.21" y1="148.13" x2="254.41" y2="148.13" stroke="#2c5a86" stroke-width="0.5"/>
<line x1="252.21" y1="142.23" x2="254.41" y2="142.23" stroke="#2c5a86" stroke-width="0.5"/>
<circle cx="253.31" cy="145.18" r="0.8" fill="#24507a"/>
<line x1="259.88" y1="150.49" x2="259.88" y2="143.41" stroke="#2c5a86" stroke-width="0.5"/>
<line x1="258.78" y1="150.49" x2="260.98" y2="150.49" stroke="#2c5a86" stroke-width="0.5"/>
<line x1="258.78" y1="143.41" x2="260.98" y2="143.41" stroke="#2c5a86" stroke-width="0.5"/>
<circle cx="259.88" cy="146.95" r="0.8" fill="#24507a"/>
<line x1="266.45" y1="148.13" x2="266.45" y2="142.23" stroke="#2c5a86" stroke-width="0.5"/>
<line x1="265.35" y1="148.13" x2="267.55" y2="148.13" stroke="#2c5a86" stroke-width="0.5"/>
<line x1="265.35" y1="142.23" x2="267.55" y2="142.23" stroke="#2c5a86" stroke-width="0.5"/>
<circle cx="266.45" cy="145.18" r="0.8" fill="#24507a"/>
<line x1="273.02" y1="149.31" x2="273.02" y2="143.41" stroke="#2c5a86" stroke-width="0.5"/>
<line x1="271.92" y1="149.31" x2="274.12" y2="149.31" stroke="#2c5a86" stroke-width="0.5"/>
<line x1="271.92" y1="143.41" x2="274.12" y2="143.41" stroke="#2c5a86" stroke-width="0.5"/>
<circle cx="273.02" cy="146.36" r="0.8" fill="#24507a"/>
<polyline points="240.17,179.40 246.74,146.36 253.31,145.77 259.88,145.77 266.45,145.77 273.02,145.77" fill="none" stroke="#2c5a86" stroke-width="0.85" stroke-linejoin="round"/>
<circle cx="240.17" cy="179.40" r="0.8" fill="#24507a"/>
<line x1="246.74" y1="148.13" x2="246.74" y2="144.59" stroke="#2c5a86" stroke-width="0.5"/>
<line x1="245.64" y1="148.13" x2="247.84" y2="148.13" stroke="#2c5a86" stroke-width="0.5"/>
<line x1="245.64" y1="144.59" x2="247.84" y2="144.59" stroke="#2c5a86" stroke-width="0.5"/>
<circle cx="246.74" cy="146.36" r="0.8" fill="#24507a"/>
<line x1="253.31" y1="147.54" x2="253.31" y2="144.00" stroke="#2c5a86" stroke-width="0.5"/>
<line x1="252.21" y1="147.54" x2="254.41" y2="147.54" stroke="#2c5a86" stroke-width="0.5"/>
<line x1="252.21" y1="144.00" x2="254.41" y2="144.00" stroke="#2c5a86" stroke-width="0.5"/>
<circle cx="253.31" cy="145.77" r="0.8" fill="#24507a"/>
<line x1="259.88" y1="147.54" x2="259.88" y2="144.00" stroke="#2c5a86" stroke-width="0.5"/>
<line x1="258.78" y1="147.54" x2="260.98" y2="147.54" stroke="#2c5a86" stroke-width="0.5"/>
<line x1="258.78" y1="144.00" x2="260.98" y2="144.00" stroke="#2c5a86" stroke-width="0.5"/>
<circle cx="259.88" cy="145.77" r="0.8" fill="#24507a"/>
<line x1="266.45" y1="147.54" x2="266.45" y2="144.00" stroke="#2c5a86" stroke-width="0.5"/>
<line x1="265.35" y1="147.54" x2="267.55" y2="147.54" stroke="#2c5a86" stroke-width="0.5"/>
<line x1="265.35" y1="144.00" x2="267.55" y2="144.00" stroke="#2c5a86" stroke-width="0.5"/>
<circle cx="266.45" cy="145.77" r="0.8" fill="#24507a"/>
<line x1="273.02" y1="147.54" x2="273.02" y2="144.00" stroke="#2c5a86" stroke-width="0.5"/>
<line x1="271.92" y1="147.54" x2="274.12" y2="147.54" stroke="#2c5a86" stroke-width="0.5"/>
<line x1="271.92" y1="144.00" x2="274.12" y2="144.00" stroke="#2c5a86" stroke-width="0.5"/>
<circle cx="273.02" cy="145.77" r="0.8" fill="#24507a"/>
<line x1="233.60" y1="117.80" x2="233.60" y2="179.80" stroke="#222" stroke-width="1.0"/>
<line x1="230.60" y1="179.40" x2="233.60" y2="179.40" stroke="#222" stroke-width="0.8"/>
<line x1="230.60" y1="173.50" x2="233.60" y2="173.50" stroke="#222" stroke-width="0.8"/>
<line x1="230.60" y1="167.60" x2="233.60" y2="167.60" stroke="#222" stroke-width="0.8"/>
<line x1="230.60" y1="161.70" x2="233.60" y2="161.70" stroke="#222" stroke-width="0.8"/>
<line x1="230.60" y1="155.80" x2="233.60" y2="155.80" stroke="#222" stroke-width="0.8"/>
<line x1="230.60" y1="149.90" x2="233.60" y2="149.90" stroke="#222" stroke-width="0.8"/>
<line x1="230.60" y1="144.00" x2="233.60" y2="144.00" stroke="#222" stroke-width="0.8"/>
<line x1="230.60" y1="138.10" x2="233.60" y2="138.10" stroke="#222" stroke-width="0.8"/>
<line x1="230.60" y1="132.20" x2="233.60" y2="132.20" stroke="#222" stroke-width="0.8"/>
<line x1="230.60" y1="126.30" x2="233.60" y2="126.30" stroke="#222" stroke-width="0.8"/>
<line x1="230.60" y1="120.40" x2="233.60" y2="120.40" stroke="#222" stroke-width="0.8"/>
<text x="227.6" y="181.5" font-size="6.0" fill="#3a3a3a" text-anchor="end" stroke="#3a3a3a" stroke-width="0.12">0</text>
<text x="227.6" y="175.6" font-size="6.0" fill="#3a3a3a" text-anchor="end" stroke="#3a3a3a" stroke-width="0.12">10</text>
<text x="227.6" y="169.7" font-size="6.0" fill="#3a3a3a" text-anchor="end" stroke="#3a3a3a" stroke-width="0.12">20</text>
<text x="227.6" y="163.8" font-size="6.0" fill="#3a3a3a" text-anchor="end" stroke="#3a3a3a" stroke-width="0.12">30</text>
<text x="227.6" y="157.9" font-size="6.0" fill="#3a3a3a" text-anchor="end" stroke="#3a3a3a" stroke-width="0.12">40</text>
<text x="227.6" y="152.0" font-size="6.0" fill="#3a3a3a" text-anchor="end" stroke="#3a3a3a" stroke-width="0.12">50</text>
<text x="227.6" y="146.1" font-size="6.0" fill="#3a3a3a" text-anchor="end" stroke="#3a3a3a" stroke-width="0.12">60</text>
<text x="227.6" y="140.20000000000002" font-size="6.0" fill="#3a3a3a" text-anchor="end" stroke="#3a3a3a" stroke-width="0.12">70</text>
<text x="227.6" y="134.29999999999998" font-size="6.0" fill="#3a3a3a" text-anchor="end" stroke="#3a3a3a" stroke-width="0.12">80</text>
<text x="227.6" y="128.4" font-size="6.0" fill="#3a3a3a" text-anchor="end" stroke="#3a3a3a" stroke-width="0.12">90</text>
<text x="227.6" y="122.5" font-size="6.0" fill="#3a3a3a" text-anchor="end" stroke="#3a3a3a" stroke-width="0.12">100</text>
<line x1="233.10" y1="179.40" x2="276.20" y2="179.40" stroke="#222" stroke-width="1.0"/>
<line x1="233.60" y1="179.40" x2="233.60" y2="182.20" stroke="#222" stroke-width="0.8"/>
<line x1="240.17" y1="179.40" x2="240.17" y2="182.20" stroke="#222" stroke-width="0.8"/>
<line x1="246.74" y1="179.40" x2="246.74" y2="182.20" stroke="#222" stroke-width="0.8"/>
<line x1="253.31" y1="179.40" x2="253.31" y2="182.20" stroke="#222" stroke-width="0.8"/>
<line x1="259.88" y1="179.40" x2="259.88" y2="182.20" stroke="#222" stroke-width="0.8"/>
<line x1="266.45" y1="179.40" x2="266.45" y2="182.20" stroke="#222" stroke-width="0.8"/>
<line x1="273.02" y1="179.40" x2="273.02" y2="182.20" stroke="#222" stroke-width="0.8"/>
<text x="233.6" y="191.0" font-size="6.0" fill="#3a3a3a" text-anchor="middle" stroke="#3a3a3a" stroke-width="0.12">0</text>
<text x="240.17" y="191.0" font-size="6.0" fill="#3a3a3a" text-anchor="middle" stroke="#3a3a3a" stroke-width="0.12">1</text>
<text x="246.74" y="191.0" font-size="6.0" fill="#3a3a3a" text-anchor="middle" stroke="#3a3a3a" stroke-width="0.12">2</text>
<text x="253.31" y="191.0" font-size="6.0" fill="#3a3a3a" text-anchor="middle" stroke="#3a3a3a" stroke-width="0.12">3</text>
<text x="259.88" y="191.0" font-size="6.0" fill="#3a3a3a" text-anchor="middle" stroke="#3a3a3a" stroke-width="0.12">4</text>
<text x="266.45" y="191.0" font-size="6.0" fill="#3a3a3a" text-anchor="middle" stroke="#3a3a3a" stroke-width="0.12">5</text>
<text x="273.02" y="191.0" font-size="6.0" fill="#3a3a3a" text-anchor="middle" stroke="#3a3a3a" stroke-width="0.12">6</text>
<text x="255.1" y="106.6" font-size="8.4" fill="#333" text-anchor="middle" textLength="22.2" lengthAdjust="spacingAndGlyphs" stroke="#333" stroke-width="0.12">T cells</text>
<line x1="244.00" y1="107.00" x2="266.20" y2="107.00" stroke="#333" stroke-width="0.6"/>
<text transform="translate(15.5,147.2) rotate(-90)" font-size="7.0" font-weight="bold" text-anchor="middle" fill="#3a3a3a" textLength="41.6" lengthAdjust="spacingAndGlyphs">% Donor (H-2<tspan font-size="3.6" dy="-2">d+</tspan><tspan dy="2">)</tspan></text>
<text x="40.2" y="200.5" font-size="6.2" fill="#444" stroke="#444" stroke-width="0.12">Anti-cKit/CD47 (<tspan font-style="italic">n</tspan> = 8)</text>
<text x="40.2" y="208.9" font-size="6.2" fill="#444" stroke="#444" stroke-width="0.12">Anti-cKit/CD47 +</text>
<text x="40.2" y="216.7" font-size="6.2" fill="#444" stroke="#444" stroke-width="0.12">oral ruxolitinib (<tspan font-style="italic">n</tspan> = 13)</text>
<text x="40.2" y="224.3" font-size="6.2" fill="#444" stroke="#444" stroke-width="0.12">Oral ruxolitinib (<tspan font-style="italic">n</tspan> = 10)</text>
<line x1="33.60" y1="197.80" x2="36.40" y2="197.80" stroke="#d2283a" stroke-width="0.9"/>
<line x1="33.60" y1="206.50" x2="36.40" y2="206.50" stroke="#1f4e79" stroke-width="0.9"/>
<line x1="33.60" y1="222.30" x2="36.40" y2="222.30" stroke="#3aa55a" stroke-width="0.9"/>
<line x1="104.90" y1="196.20" x2="104.90" y2="208.60" stroke="#2a2a2a" stroke-width="0.9"/>
<line x1="104.90" y1="211.00" x2="104.90" y2="223.80" stroke="#2a2a2a" stroke-width="0.9"/>
<circle cx="109.0" cy="198.9" r="0.85" fill="#3a3a3a"/>
<circle cx="109.0" cy="201.1" r="0.85" fill="#3a3a3a"/>
<circle cx="109.0" cy="203.3" r="0.85" fill="#3a3a3a"/>
<circle cx="109.0" cy="205.5" r="0.85" fill="#3a3a3a"/>
<circle cx="109.0" cy="214.0" r="0.85" fill="#3a3a3a"/>
<circle cx="109.0" cy="216.2" r="0.85" fill="#3a3a3a"/>
<circle cx="109.0" cy="218.4" r="0.85" fill="#3a3a3a"/>
<circle cx="109.0" cy="220.6" r="0.85" fill="#3a3a3a"/>
<text x="118.7" y="200.2" font-size="6.0" fill="#333" font-weight="bold" textLength="42.9" lengthAdjust="spacingAndGlyphs">Months post transplant</text>
<text x="284.8" y="93.2" font-size="10.3" fill="#111" font-weight="bold" stroke="#111" stroke-width="0.35">C</text>
<line x1="309.50" y1="166.26" x2="351.50" y2="166.26" stroke="#b4a8ac" stroke-width="0.6"/>
<polyline points="309.50,147.81 316.33,173.18 323.16,156.27 329.99,143.97 336.82,150.12" fill="none" stroke="#3aa55a" stroke-width="0.9" stroke-linejoin="round"/>
<circle cx="309.50" cy="147.81" r="0.95" fill="#3aa55a"/>
<line x1="316.33" y1="175.49" x2="316.33" y2="170.88" stroke="#3aa55a" stroke-width="0.6"/>
<line x1="315.23" y1="175.49" x2="317.43" y2="175.49" stroke="#3aa55a" stroke-width="0.6"/>
<line x1="315.23" y1="170.88" x2="317.43" y2="170.88" stroke="#3aa55a" stroke-width="0.6"/>
<circle cx="316.33" cy="173.18" r="0.95" fill="#3aa55a"/>
<line x1="323.16" y1="158.57" x2="323.16" y2="153.96" stroke="#3aa55a" stroke-width="0.6"/>
<line x1="322.06" y1="158.57" x2="324.26" y2="158.57" stroke="#3aa55a" stroke-width="0.6"/>
<line x1="322.06" y1="153.96" x2="324.26" y2="153.96" stroke="#3aa55a" stroke-width="0.6"/>
<circle cx="323.16" cy="156.27" r="0.95" fill="#3aa55a"/>
<line x1="329.99" y1="146.27" x2="329.99" y2="141.66" stroke="#3aa55a" stroke-width="0.6"/>
<line x1="328.89" y1="146.27" x2="331.09" y2="146.27" stroke="#3aa55a" stroke-width="0.6"/>
<line x1="328.89" y1="141.66" x2="331.09" y2="141.66" stroke="#3aa55a" stroke-width="0.6"/>
<circle cx="329.99" cy="143.97" r="0.95" fill="#3aa55a"/>
<line x1="336.82" y1="152.42" x2="336.82" y2="147.81" stroke="#3aa55a" stroke-width="0.6"/>
<line x1="335.72" y1="152.42" x2="337.92" y2="152.42" stroke="#3aa55a" stroke-width="0.6"/>
<line x1="335.72" y1="147.81" x2="337.92" y2="147.81" stroke="#3aa55a" stroke-width="0.6"/>
<circle cx="336.82" cy="150.12" r="0.95" fill="#3aa55a"/>
<polyline points="309.50,147.81 316.33,165.49 323.16,158.57 329.99,147.04 336.82,133.21 343.65,136.28 350.48,130.13" fill="none" stroke="#1f5a93" stroke-width="0.9" stroke-linejoin="round"/>
<circle cx="309.50" cy="147.81" r="0.95" fill="#1f5a93"/>
<line x1="316.33" y1="167.03" x2="316.33" y2="163.96" stroke="#1f5a93" stroke-width="0.6"/>
<line x1="315.23" y1="167.03" x2="317.43" y2="167.03" stroke="#1f5a93" stroke-width="0.6"/>
<line x1="315.23" y1="163.96" x2="317.43" y2="163.96" stroke="#1f5a93" stroke-width="0.6"/>
<circle cx="316.33" cy="165.49" r="0.95" fill="#1f5a93"/>
<line x1="323.16" y1="160.88" x2="323.16" y2="156.27" stroke="#1f5a93" stroke-width="0.6"/>
<line x1="322.06" y1="160.88" x2="324.26" y2="160.88" stroke="#1f5a93" stroke-width="0.6"/>
<line x1="322.06" y1="156.27" x2="324.26" y2="156.27" stroke="#1f5a93" stroke-width="0.6"/>
<circle cx="323.16" cy="158.57" r="0.95" fill="#1f5a93"/>
<line x1="329.99" y1="150.89" x2="329.99" y2="143.20" stroke="#1f5a93" stroke-width="0.6"/>
<line x1="328.89" y1="150.89" x2="331.09" y2="150.89" stroke="#1f5a93" stroke-width="0.6"/>
<line x1="328.89" y1="143.20" x2="331.09" y2="143.20" stroke="#1f5a93" stroke-width="0.6"/>
<circle cx="329.99" cy="147.04" r="0.95" fill="#1f5a93"/>
<line x1="336.82" y1="137.05" x2="336.82" y2="129.36" stroke="#1f5a93" stroke-width="0.6"/>
<line x1="335.72" y1="137.05" x2="337.92" y2="137.05" stroke="#1f5a93" stroke-width="0.6"/>
<line x1="335.72" y1="129.36" x2="337.92" y2="129.36" stroke="#1f5a93" stroke-width="0.6"/>
<circle cx="336.82" cy="133.21" r="0.95" fill="#1f5a93"/>
<line x1="343.65" y1="138.59" x2="343.65" y2="133.97" stroke="#1f5a93" stroke-width="0.6"/>
<line x1="342.55" y1="138.59" x2="344.75" y2="138.59" stroke="#1f5a93" stroke-width="0.6"/>
<line x1="342.55" y1="133.97" x2="344.75" y2="133.97" stroke="#1f5a93" stroke-width="0.6"/>
<circle cx="343.65" cy="136.28" r="0.95" fill="#1f5a93"/>
<line x1="350.48" y1="140.12" x2="350.48" y2="120.14" stroke="#1f5a93" stroke-width="0.6"/>
<line x1="349.38" y1="140.12" x2="351.58" y2="140.12" stroke="#1f5a93" stroke-width="0.6"/>
<line x1="349.38" y1="120.14" x2="351.58" y2="120.14" stroke="#1f5a93" stroke-width="0.6"/>
<circle cx="350.48" cy="130.13" r="0.95" fill="#1f5a93"/>
<polyline points="309.50,146.27 316.33,164.72 323.16,162.42 329.99,159.34 336.82,153.19 343.65,158.57 350.48,157.81" fill="none" stroke="#c8283c" stroke-width="0.9" stroke-linejoin="round"/>
<circle cx="309.50" cy="146.27" r="0.95" fill="#c8283c"/>
<line x1="316.33" y1="166.26" x2="316.33" y2="163.19" stroke="#c8283c" stroke-width="0.6"/>
<line x1="315.23" y1="166.26" x2="317.43" y2="166.26" stroke="#c8283c" stroke-width="0.6"/>
<line x1="315.23" y1="163.19" x2="317.43" y2="163.19" stroke="#c8283c" stroke-width="0.6"/>
<circle cx="316.33" cy="164.72" r="0.95" fill="#c8283c"/>
<line x1="323.16" y1="163.96" x2="323.16" y2="160.88" stroke="#c8283c" stroke-width="0.6"/>
<line x1="322.06" y1="163.96" x2="324.26" y2="163.96" stroke="#c8283c" stroke-width="0.6"/>
<line x1="322.06" y1="160.88" x2="324.26" y2="160.88" stroke="#c8283c" stroke-width="0.6"/>
<circle cx="323.16" cy="162.42" r="0.95" fill="#c8283c"/>
<line x1="329.99" y1="161.65" x2="329.99" y2="157.04" stroke="#c8283c" stroke-width="0.6"/>
<line x1="328.89" y1="161.65" x2="331.09" y2="161.65" stroke="#c8283c" stroke-width="0.6"/>
<line x1="328.89" y1="157.04" x2="331.09" y2="157.04" stroke="#c8283c" stroke-width="0.6"/>
<circle cx="329.99" cy="159.34" r="0.95" fill="#c8283c"/>
<line x1="336.82" y1="155.50" x2="336.82" y2="150.89" stroke="#c8283c" stroke-width="0.6"/>
<line x1="335.72" y1="155.50" x2="337.92" y2="155.50" stroke="#c8283c" stroke-width="0.6"/>
<line x1="335.72" y1="150.89" x2="337.92" y2="150.89" stroke="#c8283c" stroke-width="0.6"/>
<circle cx="336.82" cy="153.19" r="0.95" fill="#c8283c"/>
<line x1="343.65" y1="162.42" x2="343.65" y2="154.73" stroke="#c8283c" stroke-width="0.6"/>
<line x1="342.55" y1="162.42" x2="344.75" y2="162.42" stroke="#c8283c" stroke-width="0.6"/>
<line x1="342.55" y1="154.73" x2="344.75" y2="154.73" stroke="#c8283c" stroke-width="0.6"/>
<circle cx="343.65" cy="158.57" r="0.95" fill="#c8283c"/>
<line x1="350.48" y1="159.34" x2="350.48" y2="156.27" stroke="#c8283c" stroke-width="0.6"/>
<line x1="349.38" y1="159.34" x2="351.58" y2="159.34" stroke="#c8283c" stroke-width="0.6"/>
<line x1="349.38" y1="156.27" x2="351.58" y2="156.27" stroke="#c8283c" stroke-width="0.6"/>
<circle cx="350.48" cy="157.81" r="0.95" fill="#c8283c"/>
<line x1="309.50" y1="116.60" x2="309.50" y2="180.50" stroke="#222" stroke-width="1.0"/>
<line x1="306.50" y1="180.10" x2="309.50" y2="180.10" stroke="#222" stroke-width="0.8"/>
<line x1="306.50" y1="172.41" x2="309.50" y2="172.41" stroke="#222" stroke-width="0.8"/>
<line x1="306.50" y1="164.72" x2="309.50" y2="164.72" stroke="#222" stroke-width="0.8"/>
<line x1="306.50" y1="157.04" x2="309.50" y2="157.04" stroke="#222" stroke-width="0.8"/>
<line x1="306.50" y1="149.35" x2="309.50" y2="149.35" stroke="#222" stroke-width="0.8"/>
<line x1="306.50" y1="141.66" x2="309.50" y2="141.66" stroke="#222" stroke-width="0.8"/>
<line x1="306.50" y1="133.97" x2="309.50" y2="133.97" stroke="#222" stroke-width="0.8"/>
<line x1="306.50" y1="126.29" x2="309.50" y2="126.29" stroke="#222" stroke-width="0.8"/>
<line x1="306.50" y1="118.60" x2="309.50" y2="118.60" stroke="#222" stroke-width="0.8"/>
<text x="303.1" y="182.2" font-size="6.0" fill="#3a3a3a" text-anchor="end" stroke="#3a3a3a" stroke-width="0.12">0</text>
<text x="303.1" y="174.5125" font-size="6.0" fill="#3a3a3a" text-anchor="end" stroke="#3a3a3a" stroke-width="0.12">1</text>
<text x="303.1" y="166.825" font-size="6.0" fill="#3a3a3a" text-anchor="end" stroke="#3a3a3a" stroke-width="0.12">2</text>
<text x="303.1" y="159.1375" font-size="6.0" fill="#3a3a3a" text-anchor="end" stroke="#3a3a3a" stroke-width="0.12">3</text>
<text x="303.1" y="151.45" font-size="6.0" fill="#3a3a3a" text-anchor="end" stroke="#3a3a3a" stroke-width="0.12">4</text>
<text x="303.1" y="143.7625" font-size="6.0" fill="#3a3a3a" text-anchor="end" stroke="#3a3a3a" stroke-width="0.12">5</text>
<text x="303.1" y="136.075" font-size="6.0" fill="#3a3a3a" text-anchor="end" stroke="#3a3a3a" stroke-width="0.12">6</text>
<text x="303.1" y="128.3875" font-size="6.0" fill="#3a3a3a" text-anchor="end" stroke="#3a3a3a" stroke-width="0.12">7</text>
<text x="303.1" y="120.69999999999999" font-size="6.0" fill="#3a3a3a" text-anchor="end" stroke="#3a3a3a" stroke-width="0.12">8</text>
<line x1="309.00" y1="180.10" x2="353.00" y2="180.10" stroke="#222" stroke-width="1.0"/>
<line x1="309.50" y1="180.10" x2="309.50" y2="182.90" stroke="#222" stroke-width="0.8"/>
<line x1="316.33" y1="180.10" x2="316.33" y2="182.90" stroke="#222" stroke-width="0.8"/>
<line x1="323.16" y1="180.10" x2="323.16" y2="182.90" stroke="#222" stroke-width="0.8"/>
<line x1="329.99" y1="180.10" x2="329.99" y2="182.90" stroke="#222" stroke-width="0.8"/>
<line x1="336.82" y1="180.10" x2="336.82" y2="182.90" stroke="#222" stroke-width="0.8"/>
<line x1="343.65" y1="180.10" x2="343.65" y2="182.90" stroke="#222" stroke-width="0.8"/>
<line x1="350.48" y1="180.10" x2="350.48" y2="182.90" stroke="#222" stroke-width="0.8"/>
<text x="309.5" y="191.2" font-size="6.0" fill="#3a3a3a" text-anchor="middle" stroke="#3a3a3a" stroke-width="0.12">0</text>
<text x="316.33" y="191.2" font-size="6.0" fill="#3a3a3a" text-anchor="middle" stroke="#3a3a3a" stroke-width="0.12">1</text>
<text x="323.16" y="191.2" font-size="6.0" fill="#3a3a3a" text-anchor="middle" stroke="#3a3a3a" stroke-width="0.12">2</text>
<text x="329.99" y="191.2" font-size="6.0" fill="#3a3a3a" text-anchor="middle" stroke="#3a3a3a" stroke-width="0.12">3</text>
<text x="336.82" y="191.2" font-size="6.0" fill="#3a3a3a" text-anchor="middle" stroke="#3a3a3a" stroke-width="0.12">4</text>
<text x="343.65" y="191.2" font-size="6.0" fill="#3a3a3a" text-anchor="middle" stroke="#3a3a3a" stroke-width="0.12">5</text>
<text x="350.48" y="191.2" font-size="6.0" fill="#3a3a3a" text-anchor="middle" stroke="#3a3a3a" stroke-width="0.12">6</text>
<text x="331.3" y="106.6" font-size="8.4" fill="#333" text-anchor="middle" textLength="20.2" lengthAdjust="spacingAndGlyphs" stroke="#333" stroke-width="0.12">WBC</text>
<line x1="321.20" y1="107.00" x2="341.40" y2="107.00" stroke="#333" stroke-width="0.6"/>
<line x1="383.90" y1="140.12" x2="423.50" y2="140.12" stroke="#b4a8ac" stroke-width="0.6"/>
<polyline points="383.90,133.23 390.35,143.56 396.80,134.38 403.25,129.79 409.70,129.21" fill="none" stroke="#3aa55a" stroke-width="0.9" stroke-linejoin="round"/>
<circle cx="383.90" cy="133.23" r="0.95" fill="#3aa55a"/>
<line x1="390.35" y1="145.86" x2="390.35" y2="141.27" stroke="#3aa55a" stroke-width="0.6"/>
<line x1="389.25" y1="145.86" x2="391.45" y2="145.86" stroke="#3aa55a" stroke-width="0.6"/>
<line x1="389.25" y1="141.27" x2="391.45" y2="141.27" stroke="#3aa55a" stroke-width="0.6"/>
<circle cx="390.35" cy="143.56" r="0.95" fill="#3aa55a"/>
<circle cx="396.80" cy="134.38" r="0.95" fill="#3aa55a"/>
<circle cx="403.25" cy="129.79" r="0.95" fill="#3aa55a"/>
<circle cx="409.70" cy="129.21" r="0.95" fill="#3aa55a"/>
<polyline points="383.90,133.23 390.35,140.12 396.80,133.23 403.25,132.08 409.70,129.21 416.15,126.34 422.60,128.64" fill="none" stroke="#1f5a93" stroke-width="0.9" stroke-linejoin="round"/>
<circle cx="383.90" cy="133.23" r="0.95" fill="#1f5a93"/>
<circle cx="390.35" cy="140.12" r="0.95" fill="#1f5a93"/>
<circle cx="396.80" cy="133.23" r="0.95" fill="#1f5a93"/>
<circle cx="403.25" cy="132.08" r="0.95" fill="#1f5a93"/>
<line x1="409.70" y1="130.36" x2="409.70" y2="128.07" stroke="#1f5a93" stroke-width="0.6"/>
<line x1="408.60" y1="130.36" x2="410.80" y2="130.36" stroke="#1f5a93" stroke-width="0.6"/>
<line x1="408.60" y1="128.07" x2="410.80" y2="128.07" stroke="#1f5a93" stroke-width="0.6"/>
<circle cx="409.70" cy="129.21" r="0.95" fill="#1f5a93"/>
<line x1="416.15" y1="127.49" x2="416.15" y2="125.20" stroke="#1f5a93" stroke-width="0.6"/>
<line x1="415.05" y1="127.49" x2="417.25" y2="127.49" stroke="#1f5a93" stroke-width="0.6"/>
<line x1="415.05" y1="125.20" x2="417.25" y2="125.20" stroke="#1f5a93" stroke-width="0.6"/>
<circle cx="416.15" cy="126.34" r="0.95" fill="#1f5a93"/>
<line x1="422.60" y1="129.79" x2="422.60" y2="127.49" stroke="#1f5a93" stroke-width="0.6"/>
<line x1="421.50" y1="129.79" x2="423.70" y2="129.79" stroke="#1f5a93" stroke-width="0.6"/>
<line x1="421.50" y1="127.49" x2="423.70" y2="127.49" stroke="#1f5a93" stroke-width="0.6"/>
<circle cx="422.60" cy="128.64" r="0.95" fill="#1f5a93"/>
<polyline points="383.90,132.66 390.35,134.38 396.80,136.68 403.25,137.25 409.70,134.95 416.15,134.38 422.60,134.38" fill="none" stroke="#c8283c" stroke-width="0.9" stroke-linejoin="round"/>
<circle cx="383.90" cy="132.66" r="0.95" fill="#c8283c"/>
<circle cx="390.35" cy="134.38" r="0.95" fill="#c8283c"/>
<circle cx="396.80" cy="136.68" r="0.95" fill="#c8283c"/>
<circle cx="403.25" cy="137.25" r="0.95" fill="#c8283c"/>
<circle cx="409.70" cy="134.95" r="0.95" fill="#c8283c"/>
<line x1="416.15" y1="136.10" x2="416.15" y2="132.66" stroke="#c8283c" stroke-width="0.6"/>
<line x1="415.05" y1="136.10" x2="417.25" y2="136.10" stroke="#c8283c" stroke-width="0.6"/>
<line x1="415.05" y1="132.66" x2="417.25" y2="132.66" stroke="#c8283c" stroke-width="0.6"/>
<circle cx="416.15" cy="134.38" r="0.95" fill="#c8283c"/>
<circle cx="422.60" cy="134.38" r="0.95" fill="#c8283c"/>
<line x1="383.90" y1="120.90" x2="383.90" y2="180.70" stroke="#222" stroke-width="1.0"/>
<line x1="380.90" y1="180.30" x2="383.90" y2="180.30" stroke="#222" stroke-width="0.8"/>
<line x1="380.90" y1="168.82" x2="383.90" y2="168.82" stroke="#222" stroke-width="0.8"/>
<line x1="380.90" y1="157.34" x2="383.90" y2="157.34" stroke="#222" stroke-width="0.8"/>
<line x1="380.90" y1="145.86" x2="383.90" y2="145.86" stroke="#222" stroke-width="0.8"/>
<line x1="380.90" y1="134.38" x2="383.90" y2="134.38" stroke="#222" stroke-width="0.8"/>
<line x1="380.90" y1="122.90" x2="383.90" y2="122.90" stroke="#222" stroke-width="0.8"/>
<text x="377.5" y="182.4" font-size="6.0" fill="#3a3a3a" text-anchor="end" stroke="#3a3a3a" stroke-width="0.12">0</text>
<text x="377.5" y="170.92000000000002" font-size="6.0" fill="#3a3a3a" text-anchor="end" stroke="#3a3a3a" stroke-width="0.12">10</text>
<text x="377.5" y="159.44" font-size="6.0" fill="#3a3a3a" text-anchor="end" stroke="#3a3a3a" stroke-width="0.12">20</text>
<text x="377.5" y="147.96" font-size="6.0" fill="#3a3a3a" text-anchor="end" stroke="#3a3a3a" stroke-width="0.12">30</text>
<text x="377.5" y="136.48" font-size="6.0" fill="#3a3a3a" text-anchor="end" stroke="#3a3a3a" stroke-width="0.12">40</text>
<text x="377.5" y="125.0" font-size="6.0" fill="#3a3a3a" text-anchor="end" stroke="#3a3a3a" stroke-width="0.12">50</text>
<line x1="383.40" y1="180.30" x2="425.00" y2="180.30" stroke="#222" stroke-width="1.0"/>
<line x1="383.90" y1="180.30" x2="383.90" y2="183.10" stroke="#222" stroke-width="0.8"/>
<line x1="390.35" y1="180.30" x2="390.35" y2="183.10" stroke="#222" stroke-width="0.8"/>
<line x1="396.80" y1="180.30" x2="396.80" y2="183.10" stroke="#222" stroke-width="0.8"/>
<line x1="403.25" y1="180.30" x2="403.25" y2="183.10" stroke="#222" stroke-width="0.8"/>
<line x1="409.70" y1="180.30" x2="409.70" y2="183.10" stroke="#222" stroke-width="0.8"/>
<line x1="416.15" y1="180.30" x2="416.15" y2="183.10" stroke="#222" stroke-width="0.8"/>
<line x1="422.60" y1="180.30" x2="422.60" y2="183.10" stroke="#222" stroke-width="0.8"/>
<text x="383.9" y="191.2" font-size="6.0" fill="#3a3a3a" text-anchor="middle" stroke="#3a3a3a" stroke-width="0.12">0</text>
<text x="390.34999999999997" y="191.2" font-size="6.0" fill="#3a3a3a" text-anchor="middle" stroke="#3a3a3a" stroke-width="0.12">1</text>
<text x="396.79999999999995" y="191.2" font-size="6.0" fill="#3a3a3a" text-anchor="middle" stroke="#3a3a3a" stroke-width="0.12">2</text>
<text x="403.25" y="191.2" font-size="6.0" fill="#3a3a3a" text-anchor="middle" stroke="#3a3a3a" stroke-width="0.12">3</text>
<text x="409.7" y="191.2" font-size="6.0" fill="#3a3a3a" text-anchor="middle" stroke="#3a3a3a" stroke-width="0.12">4</text>
<text x="416.15" y="191.2" font-size="6.0" fill="#3a3a3a" text-anchor="middle" stroke="#3a3a3a" stroke-width="0.12">5</text>
<text x="422.59999999999997" y="191.2" font-size="6.0" fill="#3a3a3a" text-anchor="middle" stroke="#3a3a3a" stroke-width="0.12">6</text>
<text x="404.5" y="106.6" font-size="8.4" fill="#333" text-anchor="middle" textLength="38.3" lengthAdjust="spacingAndGlyphs" stroke="#333" stroke-width="0.12">Hematocrit</text>
<line x1="385.35" y1="107.00" x2="423.65" y2="107.00" stroke="#333" stroke-width="0.6"/>
<line x1="466.20" y1="147.05" x2="511.00" y2="147.05" stroke="#b4a8ac" stroke-width="0.6"/>
<polyline points="466.20,137.55 473.60,118.08 481.00,142.78 488.40,130.43 495.80,136.60" fill="none" stroke="#3aa55a" stroke-width="0.9" stroke-linejoin="round"/>
<circle cx="466.20" cy="137.55" r="0.95" fill="#3aa55a"/>
<line x1="473.60" y1="119.50" x2="473.60" y2="116.65" stroke="#3aa55a" stroke-width="0.6"/>
<line x1="472.50" y1="119.50" x2="474.70" y2="119.50" stroke="#3aa55a" stroke-width="0.6"/>
<line x1="472.50" y1="116.65" x2="474.70" y2="116.65" stroke="#3aa55a" stroke-width="0.6"/>
<circle cx="473.60" cy="118.08" r="0.95" fill="#3aa55a"/>
<circle cx="481.00" cy="142.78" r="0.95" fill="#3aa55a"/>
<circle cx="488.40" cy="130.43" r="0.95" fill="#3aa55a"/>
<circle cx="495.80" cy="136.60" r="0.95" fill="#3aa55a"/>
<polyline points="466.20,140.40 473.60,130.90 481.00,144.68 488.40,145.15 495.80,142.30 503.20,140.88 510.60,141.35" fill="none" stroke="#1f5a93" stroke-width="0.9" stroke-linejoin="round"/>
<circle cx="466.20" cy="140.40" r="0.95" fill="#1f5a93"/>
<circle cx="473.60" cy="130.90" r="0.95" fill="#1f5a93"/>
<line x1="481.00" y1="146.57" x2="481.00" y2="142.78" stroke="#1f5a93" stroke-width="0.6"/>
<line x1="479.90" y1="146.57" x2="482.10" y2="146.57" stroke="#1f5a93" stroke-width="0.6"/>
<line x1="479.90" y1="142.78" x2="482.10" y2="142.78" stroke="#1f5a93" stroke-width="0.6"/>
<circle cx="481.00" cy="144.68" r="0.95" fill="#1f5a93"/>
<circle cx="488.40" cy="145.15" r="0.95" fill="#1f5a93"/>
<circle cx="495.80" cy="142.30" r="0.95" fill="#1f5a93"/>
<line x1="503.20" y1="141.82" x2="503.20" y2="139.93" stroke="#1f5a93" stroke-width="0.6"/>
<line x1="502.10" y1="141.82" x2="504.30" y2="141.82" stroke="#1f5a93" stroke-width="0.6"/>
<line x1="502.10" y1="139.93" x2="504.30" y2="139.93" stroke="#1f5a93" stroke-width="0.6"/>
<circle cx="503.20" cy="140.88" r="0.95" fill="#1f5a93"/>
<line x1="510.60" y1="142.78" x2="510.60" y2="139.93" stroke="#1f5a93" stroke-width="0.6"/>
<line x1="509.50" y1="142.78" x2="511.70" y2="142.78" stroke="#1f5a93" stroke-width="0.6"/>
<line x1="509.50" y1="139.93" x2="511.70" y2="139.93" stroke="#1f5a93" stroke-width="0.6"/>
<circle cx="510.60" cy="141.35" r="0.95" fill="#1f5a93"/>
<polyline points="466.20,140.88 473.60,141.82 481.00,133.75 488.40,124.25 495.80,135.65 503.20,123.30 510.60,126.62" fill="none" stroke="#c8283c" stroke-width="0.9" stroke-linejoin="round"/>
<circle cx="466.20" cy="140.88" r="0.95" fill="#c8283c"/>
<line x1="473.60" y1="146.10" x2="473.60" y2="137.55" stroke="#c8283c" stroke-width="0.6"/>
<line x1="472.50" y1="146.10" x2="474.70" y2="146.10" stroke="#c8283c" stroke-width="0.6"/>
<line x1="472.50" y1="137.55" x2="474.70" y2="137.55" stroke="#c8283c" stroke-width="0.6"/>
<circle cx="473.60" cy="141.82" r="0.95" fill="#c8283c"/>
<circle cx="481.00" cy="133.75" r="0.95" fill="#c8283c"/>
<line x1="488.40" y1="127.10" x2="488.40" y2="121.40" stroke="#c8283c" stroke-width="0.6"/>
<line x1="487.30" y1="127.10" x2="489.50" y2="127.10" stroke="#c8283c" stroke-width="0.6"/>
<line x1="487.30" y1="121.40" x2="489.50" y2="121.40" stroke="#c8283c" stroke-width="0.6"/>
<circle cx="488.40" cy="124.25" r="0.95" fill="#c8283c"/>
<line x1="495.80" y1="137.07" x2="495.80" y2="134.22" stroke="#c8283c" stroke-width="0.6"/>
<line x1="494.70" y1="137.07" x2="496.90" y2="137.07" stroke="#c8283c" stroke-width="0.6"/>
<line x1="494.70" y1="134.22" x2="496.90" y2="134.22" stroke="#c8283c" stroke-width="0.6"/>
<circle cx="495.80" cy="135.65" r="0.95" fill="#c8283c"/>
<circle cx="503.20" cy="123.30" r="0.95" fill="#c8283c"/>
<line x1="510.60" y1="128.05" x2="510.60" y2="125.20" stroke="#c8283c" stroke-width="0.6"/>
<line x1="509.50" y1="128.05" x2="511.70" y2="128.05" stroke="#c8283c" stroke-width="0.6"/>
<line x1="509.50" y1="125.20" x2="511.70" y2="125.20" stroke="#c8283c" stroke-width="0.6"/>
<circle cx="510.60" cy="126.62" r="0.95" fill="#c8283c"/>
<line x1="466.20" y1="111.80" x2="466.20" y2="180.70" stroke="#222" stroke-width="1.0"/>
<line x1="463.20" y1="180.30" x2="466.20" y2="180.30" stroke="#222" stroke-width="0.8"/>
<line x1="463.20" y1="170.80" x2="466.20" y2="170.80" stroke="#222" stroke-width="0.8"/>
<line x1="463.20" y1="161.30" x2="466.20" y2="161.30" stroke="#222" stroke-width="0.8"/>
<line x1="463.20" y1="151.80" x2="466.20" y2="151.80" stroke="#222" stroke-width="0.8"/>
<line x1="463.20" y1="142.30" x2="466.20" y2="142.30" stroke="#222" stroke-width="0.8"/>
<line x1="463.20" y1="132.80" x2="466.20" y2="132.80" stroke="#222" stroke-width="0.8"/>
<line x1="463.20" y1="123.30" x2="466.20" y2="123.30" stroke="#222" stroke-width="0.8"/>
<line x1="463.20" y1="113.80" x2="466.20" y2="113.80" stroke="#222" stroke-width="0.8"/>
<text x="459.8" y="182.4" font-size="6.0" fill="#3a3a3a" text-anchor="end" stroke="#3a3a3a" stroke-width="0.12">0</text>
<text x="459.8" y="172.9" font-size="6.0" fill="#3a3a3a" text-anchor="end" stroke="#3a3a3a" stroke-width="0.12">200</text>
<text x="459.8" y="163.4" font-size="6.0" fill="#3a3a3a" text-anchor="end" stroke="#3a3a3a" stroke-width="0.12">400</text>
<text x="459.8" y="153.9" font-size="6.0" fill="#3a3a3a" text-anchor="end" stroke="#3a3a3a" stroke-width="0.12">600</text>
<text x="459.8" y="144.4" font-size="6.0" fill="#3a3a3a" text-anchor="end" stroke="#3a3a3a" stroke-width="0.12">800</text>
<text x="459.8" y="134.9" font-size="6.0" fill="#3a3a3a" text-anchor="end" stroke="#3a3a3a" stroke-width="0.12">1000</text>
<text x="459.8" y="125.4" font-size="6.0" fill="#3a3a3a" text-anchor="end" stroke="#3a3a3a" stroke-width="0.12">1200</text>
<text x="459.8" y="115.89999999999999" font-size="6.0" fill="#3a3a3a" text-anchor="end" stroke="#3a3a3a" stroke-width="0.12">1400</text>
<line x1="465.70" y1="180.30" x2="512.50" y2="180.30" stroke="#222" stroke-width="1.0"/>
<line x1="466.20" y1="180.30" x2="466.20" y2="183.10" stroke="#222" stroke-width="0.8"/>
<line x1="473.60" y1="180.30" x2="473.60" y2="183.10" stroke="#222" stroke-width="0.8"/>
<line x1="481.00" y1="180.30" x2="481.00" y2="183.10" stroke="#222" stroke-width="0.8"/>
<line x1="488.40" y1="180.30" x2="488.40" y2="183.10" stroke="#222" stroke-width="0.8"/>
<line x1="495.80" y1="180.30" x2="495.80" y2="183.10" stroke="#222" stroke-width="0.8"/>
<line x1="503.20" y1="180.30" x2="503.20" y2="183.10" stroke="#222" stroke-width="0.8"/>
<line x1="510.60" y1="180.30" x2="510.60" y2="183.10" stroke="#222" stroke-width="0.8"/>
<text x="466.2" y="191.2" font-size="6.0" fill="#3a3a3a" text-anchor="middle" stroke="#3a3a3a" stroke-width="0.12">0</text>
<text x="473.59999999999997" y="191.2" font-size="6.0" fill="#3a3a3a" text-anchor="middle" stroke="#3a3a3a" stroke-width="0.12">1</text>
<text x="481.0" y="191.2" font-size="6.0" fill="#3a3a3a" text-anchor="middle" stroke="#3a3a3a" stroke-width="0.12">2</text>
<text x="488.4" y="191.2" font-size="6.0" fill="#3a3a3a" text-anchor="middle" stroke="#3a3a3a" stroke-width="0.12">3</text>
<text x="495.8" y="191.2" font-size="6.0" fill="#3a3a3a" text-anchor="middle" stroke="#3a3a3a" stroke-width="0.12">4</text>
<text x="503.2" y="191.2" font-size="6.0" fill="#3a3a3a" text-anchor="middle" stroke="#3a3a3a" stroke-width="0.12">5</text>
<text x="510.6" y="191.2" font-size="6.0" fill="#3a3a3a" text-anchor="middle" stroke="#3a3a3a" stroke-width="0.12">6</text>
<text x="489.8" y="106.6" font-size="8.4" fill="#333" text-anchor="middle" textLength="47.2" lengthAdjust="spacingAndGlyphs" stroke="#333" stroke-width="0.12">Platelet count</text>
<line x1="466.20" y1="107.00" x2="513.40" y2="107.00" stroke="#333" stroke-width="0.6"/>
<text transform="translate(295.2,146.1) rotate(-90)" font-size="7.6" font-weight="bold" text-anchor="middle" fill="#3a3a3a" textLength="36.8" lengthAdjust="spacingAndGlyphs">WBC (×10<tspan font-size="3.8" dy="-2.2">3</tspan><tspan dy="2.2">/µL)</tspan></text>
<text transform="translate(365.7,150) rotate(-90)" font-size="6.3" font-weight="bold" text-anchor="middle" fill="#3a3a3a" textLength="27.6" lengthAdjust="spacingAndGlyphs">Hematocrit</text>
<text transform="translate(441.0,145.8) rotate(-90)" font-size="7.6" text-anchor="middle" fill="#333" stroke="#333" stroke-width="0.15" textLength="62" lengthAdjust="spacingAndGlyphs">Platelet count (×10<tspan font-size="4" dy="-2.4">3</tspan><tspan dy="2.4">/µL)</tspan></text>
<text x="389.0" y="200.4" font-size="6.0" fill="#333" font-weight="bold" textLength="42.5" lengthAdjust="spacingAndGlyphs">Months post transplant</text>
<text x="6.6" y="244.0" font-size="10.3" fill="#111" font-weight="bold" stroke="#111" stroke-width="0.35">D</text>
<line x1="36.00" y1="300.10" x2="108.40" y2="300.10" stroke="#aaa" stroke-width="0.8"/>
<polyline points="39.22,300.10 44.98,302.96 49.64,323.70 54.03,317.26 59.51,302.96 63.63,302.25 69.11,298.67 73.78,292.24 78.99,293.67 83.65,288.66 88.59,289.38 93.25,292.24 98.46,289.38 103.13,289.38 108.34,290.09" fill="none" stroke="#3e74a8" stroke-width="1.0" stroke-linejoin="round"/>
<line x1="39.22" y1="300.81" x2="39.22" y2="299.39" stroke="#3e74a8" stroke-width="0.6"/>
<line x1="38.12" y1="300.81" x2="40.32" y2="300.81" stroke="#3e74a8" stroke-width="0.6"/>
<line x1="38.12" y1="299.39" x2="40.32" y2="299.39" stroke="#3e74a8" stroke-width="0.6"/>
<circle cx="39.22" cy="300.10" r="0.9" fill="#2f5f8f"/>
<line x1="44.98" y1="305.11" x2="44.98" y2="300.81" stroke="#3e74a8" stroke-width="0.6"/>
<line x1="43.88" y1="305.11" x2="46.08" y2="305.11" stroke="#3e74a8" stroke-width="0.6"/>
<line x1="43.88" y1="300.81" x2="46.08" y2="300.81" stroke="#3e74a8" stroke-width="0.6"/>
<circle cx="44.98" cy="302.96" r="0.9" fill="#2f5f8f"/>
<line x1="49.64" y1="327.70" x2="49.64" y2="319.69" stroke="#3e74a8" stroke-width="0.6"/>
<line x1="48.54" y1="327.70" x2="50.74" y2="327.70" stroke="#3e74a8" stroke-width="0.6"/>
<line x1="48.54" y1="319.69" x2="50.74" y2="319.69" stroke="#3e74a8" stroke-width="0.6"/>
<circle cx="49.64" cy="323.70" r="0.9" fill="#2f5f8f"/>
<line x1="54.03" y1="320.84" x2="54.03" y2="313.69" stroke="#3e74a8" stroke-width="0.6"/>
<line x1="52.93" y1="320.84" x2="55.13" y2="320.84" stroke="#3e74a8" stroke-width="0.6"/>
<line x1="52.93" y1="313.69" x2="55.13" y2="313.69" stroke="#3e74a8" stroke-width="0.6"/>
<circle cx="54.03" cy="317.26" r="0.9" fill="#2f5f8f"/>
<line x1="59.51" y1="310.83" x2="59.51" y2="295.10" stroke="#3e74a8" stroke-width="0.6"/>
<line x1="58.41" y1="310.83" x2="60.61" y2="310.83" stroke="#3e74a8" stroke-width="0.6"/>
<line x1="58.41" y1="295.10" x2="60.61" y2="295.10" stroke="#3e74a8" stroke-width="0.6"/>
<circle cx="59.51" cy="302.96" r="0.9" fill="#2f5f8f"/>
<line x1="63.63" y1="310.83" x2="63.63" y2="293.67" stroke="#3e74a8" stroke-width="0.6"/>
<line x1="62.53" y1="310.83" x2="64.73" y2="310.83" stroke="#3e74a8" stroke-width="0.6"/>
<line x1="62.53" y1="293.67" x2="64.73" y2="293.67" stroke="#3e74a8" stroke-width="0.6"/>
<circle cx="63.63" cy="302.25" r="0.9" fill="#2f5f8f"/>
<line x1="69.11" y1="300.81" x2="69.11" y2="296.53" stroke="#3e74a8" stroke-width="0.6"/>
<line x1="68.01" y1="300.81" x2="70.21" y2="300.81" stroke="#3e74a8" stroke-width="0.6"/>
<line x1="68.01" y1="296.53" x2="70.21" y2="296.53" stroke="#3e74a8" stroke-width="0.6"/>
<circle cx="69.11" cy="298.67" r="0.9" fill="#2f5f8f"/>
<line x1="73.78" y1="293.67" x2="73.78" y2="290.81" stroke="#3e74a8" stroke-width="0.6"/>
<line x1="72.68" y1="293.67" x2="74.88" y2="293.67" stroke="#3e74a8" stroke-width="0.6"/>
<line x1="72.68" y1="290.81" x2="74.88" y2="290.81" stroke="#3e74a8" stroke-width="0.6"/>
<circle cx="73.78" cy="292.24" r="0.9" fill="#2f5f8f"/>
<line x1="78.99" y1="296.81" x2="78.99" y2="290.52" stroke="#3e74a8" stroke-width="0.6"/>
<line x1="77.89" y1="296.81" x2="80.09" y2="296.81" stroke="#3e74a8" stroke-width="0.6"/>
<line x1="77.89" y1="290.52" x2="80.09" y2="290.52" stroke="#3e74a8" stroke-width="0.6"/>
<circle cx="78.99" cy="293.67" r="0.9" fill="#2f5f8f"/>
<line x1="83.65" y1="290.81" x2="83.65" y2="286.52" stroke="#3e74a8" stroke-width="0.6"/>
<line x1="82.55" y1="290.81" x2="84.75" y2="290.81" stroke="#3e74a8" stroke-width="0.6"/>
<line x1="82.55" y1="286.52" x2="84.75" y2="286.52" stroke="#3e74a8" stroke-width="0.6"/>
<circle cx="83.65" cy="288.66" r="0.9" fill="#2f5f8f"/>
<line x1="88.59" y1="291.52" x2="88.59" y2="287.23" stroke="#3e74a8" stroke-width="0.6"/>
<line x1="87.49" y1="291.52" x2="89.69" y2="291.52" stroke="#3e74a8" stroke-width="0.6"/>
<line x1="87.49" y1="287.23" x2="89.69" y2="287.23" stroke="#3e74a8" stroke-width="0.6"/>
<circle cx="88.59" cy="289.38" r="0.9" fill="#2f5f8f"/>
<line x1="93.25" y1="293.95" x2="93.25" y2="290.52" stroke="#3e74a8" stroke-width="0.6"/>
<line x1="92.15" y1="293.95" x2="94.35" y2="293.95" stroke="#3e74a8" stroke-width="0.6"/>
<line x1="92.15" y1="290.52" x2="94.35" y2="290.52" stroke="#3e74a8" stroke-width="0.6"/>
<circle cx="93.25" cy="292.24" r="0.9" fill="#2f5f8f"/>
<line x1="98.46" y1="291.38" x2="98.46" y2="287.37" stroke="#3e74a8" stroke-width="0.6"/>
<line x1="97.36" y1="291.38" x2="99.56" y2="291.38" stroke="#3e74a8" stroke-width="0.6"/>
<line x1="97.36" y1="287.37" x2="99.56" y2="287.37" stroke="#3e74a8" stroke-width="0.6"/>
<circle cx="98.46" cy="289.38" r="0.9" fill="#2f5f8f"/>
<line x1="103.13" y1="291.52" x2="103.13" y2="287.23" stroke="#3e74a8" stroke-width="0.6"/>
<line x1="102.03" y1="291.52" x2="104.23" y2="291.52" stroke="#3e74a8" stroke-width="0.6"/>
<line x1="102.03" y1="287.23" x2="104.23" y2="287.23" stroke="#3e74a8" stroke-width="0.6"/>
<circle cx="103.13" cy="289.38" r="0.9" fill="#2f5f8f"/>
<line x1="108.34" y1="292.24" x2="108.34" y2="287.95" stroke="#3e74a8" stroke-width="0.6"/>
<line x1="107.24" y1="292.24" x2="109.44" y2="292.24" stroke="#3e74a8" stroke-width="0.6"/>
<line x1="107.24" y1="287.95" x2="109.44" y2="287.95" stroke="#3e74a8" stroke-width="0.6"/>
<circle cx="108.34" cy="290.09" r="0.9" fill="#2f5f8f"/>
<line x1="45.80" y1="269.80" x2="45.80" y2="336.80" stroke="#222" stroke-width="1.0"/>
<line x1="42.80" y1="328.70" x2="45.80" y2="328.70" stroke="#222" stroke-width="0.8"/>
<line x1="42.80" y1="314.40" x2="45.80" y2="314.40" stroke="#222" stroke-width="0.8"/>
<line x1="42.80" y1="300.10" x2="45.80" y2="300.10" stroke="#222" stroke-width="0.8"/>
<line x1="42.80" y1="285.80" x2="45.80" y2="285.80" stroke="#222" stroke-width="0.8"/>
<line x1="42.80" y1="271.50" x2="45.80" y2="271.50" stroke="#222" stroke-width="0.8"/>
<text x="40.199999999999996" y="330.80000000000007" font-size="6.0" fill="#3a3a3a" text-anchor="end" stroke="#3a3a3a" stroke-width="0.12">−20</text>
<text x="40.199999999999996" y="316.50000000000006" font-size="6.0" fill="#3a3a3a" text-anchor="end" stroke="#3a3a3a" stroke-width="0.12">−10</text>
<text x="40.199999999999996" y="302.20000000000005" font-size="6.0" fill="#3a3a3a" text-anchor="end" stroke="#3a3a3a" stroke-width="0.12">0</text>
<text x="40.199999999999996" y="287.90000000000003" font-size="6.0" fill="#3a3a3a" text-anchor="end" stroke="#3a3a3a" stroke-width="0.12">10</text>
<text x="40.199999999999996" y="273.6" font-size="6.0" fill="#3a3a3a" text-anchor="end" stroke="#3a3a3a" stroke-width="0.12">20</text>
<line x1="45.30" y1="336.40" x2="107.80" y2="336.40" stroke="#222" stroke-width="1.0"/>
<line x1="36.20" y1="336.40" x2="36.20" y2="339.20" stroke="#222" stroke-width="0.8"/>
<line x1="45.80" y1="336.40" x2="45.80" y2="339.20" stroke="#222" stroke-width="0.8"/>
<line x1="55.40" y1="336.40" x2="55.40" y2="339.20" stroke="#222" stroke-width="0.8"/>
<line x1="65.00" y1="336.40" x2="65.00" y2="339.20" stroke="#222" stroke-width="0.8"/>
<line x1="74.60" y1="336.40" x2="74.60" y2="339.20" stroke="#222" stroke-width="0.8"/>
<line x1="84.20" y1="336.40" x2="84.20" y2="339.20" stroke="#222" stroke-width="0.8"/>
<line x1="93.80" y1="336.40" x2="93.80" y2="339.20" stroke="#222" stroke-width="0.8"/>
<line x1="103.40" y1="336.40" x2="103.40" y2="339.20" stroke="#222" stroke-width="0.8"/>
<text x="36.199999999999996" y="347.8" font-size="6.0" fill="#3a3a3a" text-anchor="middle" stroke="#3a3a3a" stroke-width="0.12">−7</text>
<text x="55.4" y="347.8" font-size="6.0" fill="#3a3a3a" text-anchor="middle" stroke="#3a3a3a" stroke-width="0.12">7</text>
<text x="65.0" y="347.8" font-size="6.0" fill="#3a3a3a" text-anchor="middle" stroke="#3a3a3a" stroke-width="0.12">14</text>
<text x="74.6" y="347.8" font-size="6.0" fill="#3a3a3a" text-anchor="middle" stroke="#3a3a3a" stroke-width="0.12">21</text>
<text x="84.19999999999999" y="347.8" font-size="6.0" fill="#3a3a3a" text-anchor="middle" stroke="#3a3a3a" stroke-width="0.12">28</text>
<text x="93.8" y="347.8" font-size="6.0" fill="#3a3a3a" text-anchor="middle" stroke="#3a3a3a" stroke-width="0.12">35</text>
<text x="103.4" y="347.8" font-size="6.0" fill="#3a3a3a" text-anchor="middle" stroke="#3a3a3a" stroke-width="0.12">42</text>
<text x="76.95" y="256.8" font-size="8.3" fill="#333" text-anchor="middle" textLength="28.5" lengthAdjust="spacingAndGlyphs" stroke="#333" stroke-width="0.12">Weights</text>
<line x1="62.70" y1="257.30" x2="91.20" y2="257.30" stroke="#333" stroke-width="0.6"/>
<text transform="translate(24.2,302.5) rotate(-90)" font-size="7.6" font-weight="bold" text-anchor="middle" fill="#3a3a3a" textLength="43" lengthAdjust="spacingAndGlyphs">% Weight change</text>
<line x1="58.40" y1="321.00" x2="60.60" y2="321.00" stroke="#3e74a8" stroke-width="0.9"/>
<text x="63.0" y="323.2" font-size="6.2" fill="#444" textLength="46.0" lengthAdjust="spacingAndGlyphs" stroke="#444" stroke-width="0.12">Anti-cKit/CD47 +</text>
<text x="63.5" y="330.9" font-size="6.2" fill="#444" textLength="58.0" lengthAdjust="spacingAndGlyphs" stroke="#444" stroke-width="0.12">oral ruxolitinib (<tspan font-style="italic">n</tspan> = 10)</text>
<text x="90.0" y="359.1" font-size="7.8" fill="#333" font-weight="bold" textLength="53.1" lengthAdjust="spacingAndGlyphs" stroke="#333" stroke-width="0.15">Days relative to HSCT</text>
<line x1="152.30" y1="292.70" x2="214.50" y2="292.70" stroke="#aaa" stroke-width="0.8"/>
<polyline points="152.30,330.60 156.18,318.44 159.92,324.16 162.00,326.31 166.16,327.74 170.31,328.45 176.55,335.60 185.56,335.24" fill="none" stroke="#3e74a8" stroke-width="1.0" stroke-linejoin="round"/>
<circle cx="152.30" cy="330.60" r="0.9" fill="#2f5f8f"/>
<line x1="156.18" y1="322.73" x2="156.18" y2="314.15" stroke="#3e74a8" stroke-width="0.6"/>
<line x1="155.08" y1="322.73" x2="157.28" y2="322.73" stroke="#3e74a8" stroke-width="0.6"/>
<line x1="155.08" y1="314.15" x2="157.28" y2="314.15" stroke="#3e74a8" stroke-width="0.6"/>
<circle cx="156.18" cy="318.44" r="0.9" fill="#2f5f8f"/>
<line x1="159.92" y1="327.02" x2="159.92" y2="321.30" stroke="#3e74a8" stroke-width="0.6"/>
<line x1="158.82" y1="327.02" x2="161.02" y2="327.02" stroke="#3e74a8" stroke-width="0.6"/>
<line x1="158.82" y1="321.30" x2="161.02" y2="321.30" stroke="#3e74a8" stroke-width="0.6"/>
<circle cx="159.92" cy="324.16" r="0.9" fill="#2f5f8f"/>
<circle cx="162.00" cy="326.31" r="0.9" fill="#2f5f8f"/>
<line x1="166.16" y1="330.60" x2="166.16" y2="324.88" stroke="#3e74a8" stroke-width="0.6"/>
<line x1="165.06" y1="330.60" x2="167.26" y2="330.60" stroke="#3e74a8" stroke-width="0.6"/>
<line x1="165.06" y1="324.88" x2="167.26" y2="324.88" stroke="#3e74a8" stroke-width="0.6"/>
<circle cx="166.16" cy="327.74" r="0.9" fill="#2f5f8f"/>
<line x1="170.31" y1="331.31" x2="170.31" y2="325.59" stroke="#3e74a8" stroke-width="0.6"/>
<line x1="169.21" y1="331.31" x2="171.41" y2="331.31" stroke="#3e74a8" stroke-width="0.6"/>
<line x1="169.21" y1="325.59" x2="171.41" y2="325.59" stroke="#3e74a8" stroke-width="0.6"/>
<circle cx="170.31" cy="328.45" r="0.9" fill="#2f5f8f"/>
<circle cx="176.55" cy="335.60" r="0.9" fill="#2f5f8f"/>
<line x1="176.55" y1="335.60" x2="214.00" y2="335.60" stroke="#3e74a8" stroke-width="1.0"/>
<line x1="152.30" y1="262.00" x2="152.30" y2="336.70" stroke="#222" stroke-width="1.0"/>
<line x1="149.30" y1="335.60" x2="152.30" y2="335.60" stroke="#222" stroke-width="0.8"/>
<line x1="149.30" y1="321.30" x2="152.30" y2="321.30" stroke="#222" stroke-width="0.8"/>
<line x1="149.30" y1="307.00" x2="152.30" y2="307.00" stroke="#222" stroke-width="0.8"/>
<line x1="149.30" y1="292.70" x2="152.30" y2="292.70" stroke="#222" stroke-width="0.8"/>
<line x1="149.30" y1="278.40" x2="152.30" y2="278.40" stroke="#222" stroke-width="0.8"/>
<line x1="149.30" y1="264.10" x2="152.30" y2="264.10" stroke="#222" stroke-width="0.8"/>
<text x="146.9" y="323.40000000000003" font-size="6.0" fill="#3a3a3a" text-anchor="end" stroke="#3a3a3a" stroke-width="0.12">2</text>
<text x="146.9" y="309.1" font-size="6.0" fill="#3a3a3a" text-anchor="end" stroke="#3a3a3a" stroke-width="0.12">4</text>
<text x="146.9" y="294.80000000000007" font-size="6.0" fill="#3a3a3a" text-anchor="end" stroke="#3a3a3a" stroke-width="0.12">6</text>
<text x="146.9" y="280.50000000000006" font-size="6.0" fill="#3a3a3a" text-anchor="end" stroke="#3a3a3a" stroke-width="0.12">8</text>
<text x="146.9" y="266.20000000000005" font-size="6.0" fill="#3a3a3a" text-anchor="end" stroke="#3a3a3a" stroke-width="0.12">10</text>
<line x1="151.80" y1="336.30" x2="215.50" y2="336.30" stroke="#222" stroke-width="1.0"/>
<line x1="142.60" y1="336.30" x2="142.60" y2="339.10" stroke="#222" stroke-width="0.8"/>
<line x1="152.30" y1="336.30" x2="152.30" y2="339.10" stroke="#222" stroke-width="0.8"/>
<line x1="162.00" y1="336.30" x2="162.00" y2="339.10" stroke="#222" stroke-width="0.8"/>
<line x1="171.70" y1="336.30" x2="171.70" y2="339.10" stroke="#222" stroke-width="0.8"/>
<line x1="181.40" y1="336.30" x2="181.40" y2="339.10" stroke="#222" stroke-width="0.8"/>
<line x1="191.10" y1="336.30" x2="191.10" y2="339.10" stroke="#222" stroke-width="0.8"/>
<line x1="200.80" y1="336.30" x2="200.80" y2="339.10" stroke="#222" stroke-width="0.8"/>
<line x1="210.50" y1="336.30" x2="210.50" y2="339.10" stroke="#222" stroke-width="0.8"/>
<text x="142.60000000000002" y="347.8" font-size="6.0" fill="#3a3a3a" text-anchor="middle" stroke="#3a3a3a" stroke-width="0.12">−7</text>
<text x="152.3" y="347.8" font-size="6.0" fill="#3a3a3a" text-anchor="middle" stroke="#3a3a3a" stroke-width="0.12">0</text>
<text x="162.0" y="347.8" font-size="6.0" fill="#3a3a3a" text-anchor="middle" stroke="#3a3a3a" stroke-width="0.12">7</text>
<text x="171.70000000000002" y="347.8" font-size="6.0" fill="#3a3a3a" text-anchor="middle" stroke="#3a3a3a" stroke-width="0.12">14</text>
<text x="181.4" y="347.8" font-size="6.0" fill="#3a3a3a" text-anchor="middle" stroke="#3a3a3a" stroke-width="0.12">21</text>
<text x="191.10000000000002" y="347.8" font-size="6.0" fill="#3a3a3a" text-anchor="middle" stroke="#3a3a3a" stroke-width="0.12">28</text>
<text x="200.8" y="347.8" font-size="6.0" fill="#3a3a3a" text-anchor="middle" stroke="#3a3a3a" stroke-width="0.12">35</text>
<text x="210.5" y="347.8" font-size="6.0" fill="#3a3a3a" text-anchor="middle" stroke="#3a3a3a" stroke-width="0.12">42</text>
<text x="183.6" y="256.8" font-size="8.3" fill="#333" text-anchor="middle" textLength="52.3" lengthAdjust="spacingAndGlyphs" stroke="#333" stroke-width="0.12">Clinical Scores</text>
<line x1="157.45" y1="257.30" x2="209.75" y2="257.30" stroke="#333" stroke-width="0.6"/>
<text transform="translate(135.3,299.5) rotate(-90)" font-size="8.0" font-weight="bold" text-anchor="middle" fill="#3a3a3a" textLength="33.5" lengthAdjust="spacingAndGlyphs">Clinical score</text>
<text x="195.1" y="283.2" font-size="6.0" fill="#444" text-anchor="middle" textLength="33.6" lengthAdjust="spacingAndGlyphs" stroke="#444" stroke-width="0.12">Threshold for</text>
<text x="195.2" y="290.8" font-size="6.0" fill="#444" text-anchor="middle" textLength="28.4" lengthAdjust="spacingAndGlyphs" stroke="#444" stroke-width="0.12">euthanasia</text>
<text x="224.4" y="244.1" font-size="10.3" fill="#111" font-weight="bold" stroke="#111" stroke-width="0.35">E</text>
<text x="267.0" y="256.5" font-size="8.6" fill="#333" text-anchor="middle" textLength="14.5" lengthAdjust="spacingAndGlyphs" stroke="#333" stroke-width="0.12">Skin</text>
<line x1="259.75" y1="257.50" x2="274.25" y2="257.50" stroke="#333" stroke-width="0.6"/>
<text x="333.5" y="256.5" font-size="8.6" fill="#333" text-anchor="middle" textLength="50.1" lengthAdjust="spacingAndGlyphs" stroke="#333" stroke-width="0.12">Small intestine</text>
<line x1="308.45" y1="257.50" x2="358.55" y2="257.50" stroke="#333" stroke-width="0.6"/>
<text x="398.0" y="256.5" font-size="8.6" fill="#333" text-anchor="middle" textLength="19.8" lengthAdjust="spacingAndGlyphs" stroke="#333" stroke-width="0.12">Colon</text>
<line x1="388.10" y1="257.50" x2="407.90" y2="257.50" stroke="#333" stroke-width="0.6"/>
<text x="464.6" y="256.5" font-size="8.6" fill="#333" text-anchor="middle" textLength="15.4" lengthAdjust="spacingAndGlyphs" stroke="#333" stroke-width="0.12">Liver</text>
<line x1="456.90" y1="257.50" x2="472.30" y2="257.50" stroke="#333" stroke-width="0.6"/>
<g clip-path="url(#ec0)">
<rect x="234.2" y="262.0" width="66.5" height="67.19999999999999" fill="#cf9ccf"/>
<rect x="234.2" y="262.0" width="66.5" height="67.19999999999999" filter="url(#skintex)" opacity="0.9"/>
<rect x="234.2" y="262.0" width="66.5" height="67.19999999999999" filter="url(#skinlite)" opacity="0.35"/>
<path d="M261.8,262 C262.6,266 264.3,270.9 266.5,274.5 C268.4,277.7 270.5,283 272.5,287.2 C274.5,291.5 276.6,295.4 279,300 C281,303 284,306.5 288.9,310.4 C291,312.5 293,314.5 294.3,315.9 C296.5,318.5 298.5,321 300.8,323.5 L300.8,262 Z" fill="#ddeedd"/>
<g filter="url(#wavy)"><path d="M261.8,262 C262.6,266 264.3,270.9 266.5,274.5 C268.4,277.7 270.5,283 272.5,287.2 C274.5,291.5 276.6,295.4 279,300 C281,303 284,306.5 288.9,310.4 C291,312.5 293,314.5 294.3,315.9 C296.5,318.5 298.5,321 300.8,323.5" fill="none" stroke="#5a2d82" stroke-width="2.8"/></g>
<path d="M261.8,262 C262.6,266 264.3,270.9 266.5,274.5 C268.4,277.7 270.5,283 272.5,287.2 C274.5,291.5 276.6,295.4 279,300 C281,303 284,306.5 288.9,310.4 C291,312.5 293,314.5 294.3,315.9 C296.5,318.5 298.5,321 300.8,323.5" fill="none" stroke="#9450a8" stroke-width="1.4" transform="translate(-2,0.8)" opacity="0.55"/>
<ellipse cx="250.7" cy="277.7" rx="2.1" ry="3.4" fill="#55287e"/>
<ellipse cx="250.7" cy="277.7" rx="0.88" ry="1.70" fill="#f2e6f2"/>
<ellipse cx="254.8" cy="293.4" rx="2.6" ry="4.6" fill="#55287e"/>
<ellipse cx="254.8" cy="293.4" rx="1.09" ry="2.30" fill="#f2e6f2"/>
<ellipse cx="243.2" cy="313.8" rx="3.8" ry="4.0" fill="#55287e"/>
<ellipse cx="243.2" cy="313.8" rx="1.60" ry="2.00" fill="#f2e6f2"/>
<ellipse cx="255.5" cy="310.4" rx="3.4" ry="4.4" fill="#a07cc0" stroke="#6a3a90" stroke-width="0.7"/>
<ellipse cx="258.9" cy="312.4" rx="1.7" ry="2.4" fill="#55287e"/>
<ellipse cx="258.9" cy="312.4" rx="0.71" ry="1.20" fill="#f2e6f2"/>
<ellipse cx="284.8" cy="316.5" rx="2.0" ry="2.6" fill="#55287e"/>
<ellipse cx="284.8" cy="316.5" rx="0.84" ry="1.30" fill="#f2e6f2"/>
<ellipse cx="244" cy="327.5" rx="4.2" ry="2.6" fill="#55287e"/>
<ellipse cx="244" cy="327.5" rx="1.76" ry="1.30" fill="#f2e6f2"/>
<path d="M236,320 C240,322 246,323 250,326" fill="none" stroke="#7a3a90" stroke-width="1" opacity="0.7"/>
</g>
<g clip-path="url(#ec1)">
<rect x="300.7" y="262.0" width="65.0" height="67.19999999999999" fill="#6c5eb4"/>
<ellipse cx="303.5" cy="268" rx="3.1" ry="9.0" transform="rotate(-10 303.5 268)" fill="#5e4ea8" stroke="#dcd6f2" stroke-width="0.55"/>
<ellipse cx="309.5" cy="266" rx="3.1" ry="9.0" transform="rotate(-18 309.5 266)" fill="#5e4ea8" stroke="#dcd6f2" stroke-width="0.55"/>
<ellipse cx="315.5" cy="270" rx="3.1" ry="9.0" transform="rotate(-25 315.5 270)" fill="#5e4ea8" stroke="#dcd6f2" stroke-width="0.55"/>
<ellipse cx="321" cy="266" rx="3.1" ry="9.0" transform="rotate(-30 321 266)" fill="#5e4ea8" stroke="#dcd6f2" stroke-width="0.55"/>
<ellipse cx="327" cy="272" rx="3.1" ry="9.0" transform="rotate(-35 327 272)" fill="#5e4ea8" stroke="#dcd6f2" stroke-width="0.55"/>
<ellipse cx="333.5" cy="267" rx="3.1" ry="9.0" transform="rotate(-20 333.5 267)" fill="#5e4ea8" stroke="#dcd6f2" stroke-width="0.55"/>
<ellipse cx="339.5" cy="272" rx="3.1" ry="9.0" transform="rotate(-15 339.5 272)" fill="#5e4ea8" stroke="#dcd6f2" stroke-width="0.55"/>
<ellipse cx="345.5" cy="266" rx="3.1" ry="9.0" transform="rotate(-10 345.5 266)" fill="#5e4ea8" stroke="#dcd6f2" stroke-width="0.55"/>
<ellipse cx="351.5" cy="271" rx="3.1" ry="9.0" transform="rotate(-8 351.5 271)" fill="#5e4ea8" stroke="#dcd6f2" stroke-width="0.55"/>
<ellipse cx="357.5" cy="267" rx="3.1" ry="9.0" transform="rotate(-5 357.5 267)" fill="#5e4ea8" stroke="#dcd6f2" stroke-width="0.55"/>
<ellipse cx="363.5" cy="271" rx="3.1" ry="9.0" transform="rotate(0 363.5 271)" fill="#5e4ea8" stroke="#dcd6f2" stroke-width="0.55"/>
<ellipse cx="306" cy="283" rx="3.1" ry="9.0" transform="rotate(-5 306 283)" fill="#5e4ea8" stroke="#dcd6f2" stroke-width="0.55"/>
<ellipse cx="312" cy="285" rx="3.1" ry="9.0" transform="rotate(-12 312 285)" fill="#5e4ea8" stroke="#dcd6f2" stroke-width="0.55"/>
<ellipse cx="318" cy="282" rx="3.1" ry="9.0" transform="rotate(-20 318 282)" fill="#5e4ea8" stroke="#dcd6f2" stroke-width="0.55"/>
<ellipse cx="324" cy="286" rx="3.1" ry="9.0" transform="rotate(-25 324 286)" fill="#5e4ea8" stroke="#dcd6f2" stroke-width="0.55"/>
<ellipse cx="330" cy="283" rx="3.1" ry="9.0" transform="rotate(-15 330 283)" fill="#5e4ea8" stroke="#dcd6f2" stroke-width="0.55"/>
<ellipse cx="336" cy="287" rx="3.1" ry="9.0" transform="rotate(-10 336 287)" fill="#5e4ea8" stroke="#dcd6f2" stroke-width="0.55"/>
<ellipse cx="342" cy="283" rx="3.1" ry="9.0" transform="rotate(-8 342 283)" fill="#5e4ea8" stroke="#dcd6f2" stroke-width="0.55"/>
<ellipse cx="348" cy="287" rx="3.1" ry="9.0" transform="rotate(-5 348 287)" fill="#5e4ea8" stroke="#dcd6f2" stroke-width="0.55"/>
<ellipse cx="354" cy="283" rx="3.1" ry="9.0" transform="rotate(0 354 283)" fill="#5e4ea8" stroke="#dcd6f2" stroke-width="0.55"/>
<ellipse cx="360" cy="287" rx="3.1" ry="9.0" transform="rotate(5 360 287)" fill="#5e4ea8" stroke="#dcd6f2" stroke-width="0.55"/>
<ellipse cx="303.0" cy="297.5" rx="2.9" ry="4.1" fill="#54449e" stroke="#c4bce6" stroke-width="0.8"/>
<ellipse cx="303.0" cy="297.5" rx="0.7" ry="1.2" fill="#8a7cc6"/>
<ellipse cx="309.2" cy="298.4" rx="2.9" ry="4.1" fill="#54449e" stroke="#c4bce6" stroke-width="0.8"/>
<ellipse cx="309.2" cy="298.4" rx="0.7" ry="1.2" fill="#8a7cc6"/>
<ellipse cx="315.4" cy="299.3" rx="2.9" ry="4.1" fill="#54449e" stroke="#c4bce6" stroke-width="0.8"/>
<ellipse cx="315.4" cy="299.3" rx="0.7" ry="1.2" fill="#8a7cc6"/>
<ellipse cx="321.6" cy="300.2" rx="2.9" ry="4.1" fill="#54449e" stroke="#c4bce6" stroke-width="0.8"/>
<ellipse cx="321.6" cy="300.2" rx="0.7" ry="1.2" fill="#8a7cc6"/>
<ellipse cx="327.8" cy="301.1" rx="2.9" ry="4.1" fill="#54449e" stroke="#c4bce6" stroke-width="0.8"/>
<ellipse cx="327.8" cy="301.1" rx="0.7" ry="1.2" fill="#8a7cc6"/>
<ellipse cx="334.0" cy="302.0" rx="2.9" ry="4.1" fill="#54449e" stroke="#c4bce6" stroke-width="0.8"/>
<ellipse cx="334.0" cy="302.0" rx="0.7" ry="1.2" fill="#8a7cc6"/>
<ellipse cx="340.2" cy="302.9" rx="2.9" ry="4.1" fill="#54449e" stroke="#c4bce6" stroke-width="0.8"/>
<ellipse cx="340.2" cy="302.9" rx="0.7" ry="1.2" fill="#8a7cc6"/>
<ellipse cx="346.4" cy="303.8" rx="2.9" ry="4.1" fill="#54449e" stroke="#c4bce6" stroke-width="0.8"/>
<ellipse cx="346.4" cy="303.8" rx="0.7" ry="1.2" fill="#8a7cc6"/>
<ellipse cx="352.6" cy="304.7" rx="2.9" ry="4.1" fill="#54449e" stroke="#c4bce6" stroke-width="0.8"/>
<ellipse cx="352.6" cy="304.7" rx="0.7" ry="1.2" fill="#8a7cc6"/>
<ellipse cx="358.8" cy="305.6" rx="2.9" ry="4.1" fill="#54449e" stroke="#c4bce6" stroke-width="0.8"/>
<ellipse cx="358.8" cy="305.6" rx="0.7" ry="1.2" fill="#8a7cc6"/>
<ellipse cx="365.0" cy="306.5" rx="2.9" ry="4.1" fill="#54449e" stroke="#c4bce6" stroke-width="0.8"/>
<ellipse cx="365.0" cy="306.5" rx="0.7" ry="1.2" fill="#8a7cc6"/>
<ellipse cx="308.0" cy="306.5" rx="2.9" ry="4.1" fill="#54449e" stroke="#c4bce6" stroke-width="0.8"/>
<ellipse cx="308.0" cy="306.5" rx="0.7" ry="1.2" fill="#8a7cc6"/>
<ellipse cx="314.2" cy="307.6" rx="2.9" ry="4.1" fill="#54449e" stroke="#c4bce6" stroke-width="0.8"/>
<ellipse cx="314.2" cy="307.6" rx="0.7" ry="1.2" fill="#8a7cc6"/>
<ellipse cx="320.4" cy="308.7" rx="2.9" ry="4.1" fill="#54449e" stroke="#c4bce6" stroke-width="0.8"/>
<ellipse cx="320.4" cy="308.7" rx="0.7" ry="1.2" fill="#8a7cc6"/>
<ellipse cx="326.6" cy="309.8" rx="2.9" ry="4.1" fill="#54449e" stroke="#c4bce6" stroke-width="0.8"/>
<ellipse cx="326.6" cy="309.8" rx="0.7" ry="1.2" fill="#8a7cc6"/>
<ellipse cx="332.8" cy="310.9" rx="2.9" ry="4.1" fill="#54449e" stroke="#c4bce6" stroke-width="0.8"/>
<ellipse cx="332.8" cy="310.9" rx="0.7" ry="1.2" fill="#8a7cc6"/>
<ellipse cx="339.0" cy="312.0" rx="2.9" ry="4.1" fill="#54449e" stroke="#c4bce6" stroke-width="0.8"/>
<ellipse cx="339.0" cy="312.0" rx="0.7" ry="1.2" fill="#8a7cc6"/>
<ellipse cx="345.2" cy="313.1" rx="2.9" ry="4.1" fill="#54449e" stroke="#c4bce6" stroke-width="0.8"/>
<ellipse cx="345.2" cy="313.1" rx="0.7" ry="1.2" fill="#8a7cc6"/>
<ellipse cx="351.4" cy="314.2" rx="2.9" ry="4.1" fill="#54449e" stroke="#c4bce6" stroke-width="0.8"/>
<ellipse cx="351.4" cy="314.2" rx="0.7" ry="1.2" fill="#8a7cc6"/>
<ellipse cx="357.6" cy="315.3" rx="2.9" ry="4.1" fill="#54449e" stroke="#c4bce6" stroke-width="0.8"/>
<ellipse cx="357.6" cy="315.3" rx="0.7" ry="1.2" fill="#8a7cc6"/>
<ellipse cx="363.8" cy="316.4" rx="2.9" ry="4.1" fill="#54449e" stroke="#c4bce6" stroke-width="0.8"/>
<ellipse cx="363.8" cy="316.4" rx="0.7" ry="1.2" fill="#8a7cc6"/>
<ellipse cx="334.0" cy="316.5" rx="2.9" ry="4.1" fill="#54449e" stroke="#c4bce6" stroke-width="0.8"/>
<ellipse cx="334.0" cy="316.5" rx="0.7" ry="1.2" fill="#8a7cc6"/>
<ellipse cx="340.2" cy="317.5" rx="2.9" ry="4.1" fill="#54449e" stroke="#c4bce6" stroke-width="0.8"/>
<ellipse cx="340.2" cy="317.5" rx="0.7" ry="1.2" fill="#8a7cc6"/>
<ellipse cx="346.4" cy="318.5" rx="2.9" ry="4.1" fill="#54449e" stroke="#c4bce6" stroke-width="0.8"/>
<ellipse cx="346.4" cy="318.5" rx="0.7" ry="1.2" fill="#8a7cc6"/>
<ellipse cx="352.6" cy="319.5" rx="2.9" ry="4.1" fill="#54449e" stroke="#c4bce6" stroke-width="0.8"/>
<ellipse cx="352.6" cy="319.5" rx="0.7" ry="1.2" fill="#8a7cc6"/>
<ellipse cx="358.8" cy="320.5" rx="2.9" ry="4.1" fill="#54449e" stroke="#c4bce6" stroke-width="0.8"/>
<ellipse cx="358.8" cy="320.5" rx="0.7" ry="1.2" fill="#8a7cc6"/>
<ellipse cx="365.0" cy="321.5" rx="2.9" ry="4.1" fill="#54449e" stroke="#c4bce6" stroke-width="0.8"/>
<ellipse cx="365.0" cy="321.5" rx="0.7" ry="1.2" fill="#8a7cc6"/>
<path d="M300.7,305 C308,313 318,320 330,325 C336,327.5 342,329 346,330 L300.7,330 Z" fill="#b6a8d8"/>
<path d="M300.7,307 C308,315 318,322 330,327" fill="none" stroke="#8f7fc4" stroke-width="1"/>
<path d="M300.7,316 C306,321 313,326 322,330 L300.7,330 Z" fill="#eeeedc"/>
<rect x="300.7" y="262.0" width="65.0" height="67.19999999999999" filter="url(#dots)" opacity="0.2"/>
</g>
<g clip-path="url(#ec2)">
<rect x="365.7" y="262.0" width="66.69999999999999" height="67.19999999999999" fill="#6858b2"/>
<g fill="#d6d0f0" opacity="0.7"><circle cx="365.7" cy="261.9" r="0.59"/><circle cx="369.9" cy="261.5" r="0.70"/><circle cx="373.7" cy="261.6" r="0.72"/><circle cx="377.2" cy="261.5" r="0.66"/><circle cx="381.1" cy="262.0" r="0.77"/><circle cx="384.4" cy="261.7" r="0.58"/><circle cx="388.5" cy="262.4" r="0.73"/><circle cx="392.6" cy="261.9" r="0.77"/><circle cx="395.7" cy="261.8" r="0.75"/><circle cx="400.1" cy="261.9" r="0.58"/><circle cx="403.5" cy="261.7" r="0.63"/><circle cx="407.8" cy="261.7" r="0.82"/><circle cx="411.7" cy="261.6" r="0.66"/><circle cx="415.1" cy="261.5" r="0.68"/><circle cx="419.3" cy="261.6" r="0.73"/><circle cx="422.3" cy="262.1" r="0.82"/><circle cx="426.2" cy="261.5" r="0.58"/><circle cx="430.3" cy="261.5" r="0.58"/><circle cx="434.1" cy="262.4" r="0.68"/><circle cx="367.5" cy="265.4" r="0.58"/><circle cx="371.5" cy="265.0" r="0.73"/><circle cx="375.7" cy="264.9" r="0.72"/><circle cx="379.1" cy="264.9" r="0.63"/><circle cx="383.3" cy="265.8" r="0.59"/><circle cx="386.8" cy="265.8" r="0.62"/><circle cx="390.5" cy="264.8" r="0.66"/><circle cx="394.4" cy="265.4" r="0.78"/><circle cx="397.6" cy="265.1" r="0.81"/><circle cx="401.9" cy="265.3" r="0.67"/><circle cx="406.1" cy="265.4" r="0.56"/><circle cx="409.7" cy="265.1" r="0.68"/><circle cx="412.9" cy="265.2" r="0.65"/><circle cx="416.6" cy="265.4" r="0.58"/><circle cx="421.1" cy="264.8" r="0.78"/><circle cx="424.9" cy="265.3" r="0.76"/><circle cx="428.1" cy="265.5" r="0.68"/><circle cx="431.9" cy="265.8" r="0.67"/><circle cx="365.6" cy="269.0" r="0.66"/><circle cx="369.7" cy="268.3" r="0.80"/><circle cx="373.1" cy="268.2" r="0.84"/><circle cx="376.8" cy="269.0" r="0.85"/><circle cx="381.0" cy="268.1" r="0.57"/><circle cx="384.4" cy="268.5" r="0.73"/><circle cx="389.0" cy="268.5" r="0.59"/><circle cx="392.4" cy="268.2" r="0.58"/><circle cx="396.2" cy="268.8" r="0.57"/><circle cx="399.9" cy="268.8" r="0.78"/><circle cx="403.6" cy="269.0" r="0.60"/><circle cx="407.7" cy="268.9" r="0.81"/><circle cx="411.3" cy="268.2" r="0.56"/><circle cx="415.1" cy="268.3" r="0.74"/><circle cx="418.5" cy="268.9" r="0.62"/><circle cx="422.2" cy="268.3" r="0.69"/><circle cx="426.6" cy="268.5" r="0.60"/><circle cx="430.3" cy="269.0" r="0.71"/><circle cx="434.5" cy="268.1" r="0.85"/><circle cx="368.0" cy="271.9" r="0.71"/><circle cx="371.4" cy="272.3" r="0.57"/><circle cx="375.3" cy="271.9" r="0.64"/><circle cx="379.2" cy="272.1" r="0.58"/><circle cx="383.0" cy="271.9" r="0.70"/><circle cx="386.7" cy="271.5" r="0.73"/><circle cx="390.3" cy="272.3" r="0.62"/><circle cx="394.5" cy="272.1" r="0.74"/><circle cx="398.4" cy="271.4" r="0.73"/><circle cx="401.9" cy="272.1" r="0.67"/><circle cx="405.2" cy="271.6" r="0.73"/><circle cx="409.1" cy="271.5" r="0.66"/><circle cx="413.2" cy="271.9" r="0.56"/><circle cx="417.3" cy="271.7" r="0.78"/><circle cx="420.3" cy="272.4" r="0.73"/><circle cx="425.1" cy="272.4" r="0.80"/><circle cx="428.0" cy="271.7" r="0.62"/><circle cx="432.5" cy="271.6" r="0.62"/><circle cx="365.3" cy="274.8" r="0.83"/><circle cx="370.0" cy="275.1" r="0.77"/><circle cx="373.3" cy="275.2" r="0.66"/><circle cx="377.2" cy="274.9" r="0.63"/><circle cx="380.9" cy="274.9" r="0.68"/><circle cx="385.1" cy="274.7" r="0.58"/><circle cx="388.8" cy="274.8" r="0.63"/><circle cx="392.7" cy="275.3" r="0.62"/><circle cx="395.7" cy="275.0" r="0.64"/><circle cx="400.2" cy="275.7" r="0.79"/><circle cx="404.1" cy="275.6" r="0.81"/><circle cx="407.9" cy="275.7" r="0.58"/><circle cx="411.1" cy="274.9" r="0.73"/><circle cx="415.1" cy="275.0" r="0.80"/><circle cx="418.8" cy="274.9" r="0.63"/><circle cx="422.7" cy="275.3" r="0.72"/><circle cx="426.4" cy="274.9" r="0.67"/><circle cx="430.1" cy="274.9" r="0.71"/><circle cx="433.8" cy="275.4" r="0.75"/><circle cx="367.2" cy="278.6" r="0.65"/><circle cx="371.3" cy="278.6" r="0.78"/><circle cx="375.6" cy="278.7" r="0.61"/><circle cx="379.0" cy="278.3" r="0.56"/><circle cx="382.9" cy="278.5" r="0.81"/><circle cx="386.4" cy="278.8" r="0.70"/><circle cx="390.0" cy="278.7" r="0.64"/><circle cx="394.2" cy="278.1" r="0.55"/><circle cx="398.4" cy="278.0" r="0.59"/><circle cx="401.5" cy="278.1" r="0.80"/><circle cx="406.1" cy="278.6" r="0.67"/><circle cx="409.8" cy="278.5" r="0.59"/><circle cx="413.4" cy="278.4" r="0.63"/><circle cx="416.8" cy="278.4" r="0.60"/><circle cx="420.9" cy="278.9" r="0.72"/><circle cx="424.1" cy="278.7" r="0.56"/><circle cx="428.4" cy="278.9" r="0.75"/><circle cx="432.6" cy="278.8" r="0.63"/><circle cx="365.3" cy="281.8" r="0.75"/><circle cx="369.2" cy="281.6" r="0.77"/><circle cx="373.1" cy="281.9" r="0.71"/><circle cx="377.5" cy="281.3" r="0.61"/><circle cx="381.2" cy="282.0" r="0.58"/><circle cx="384.3" cy="281.5" r="0.71"/><circle cx="388.9" cy="281.5" r="0.61"/><circle cx="392.5" cy="281.7" r="0.80"/><circle cx="396.6" cy="282.2" r="0.76"/><circle cx="399.9" cy="281.4" r="0.79"/><circle cx="403.6" cy="281.8" r="0.74"/><circle cx="408.0" cy="281.9" r="0.83"/><circle cx="411.8" cy="281.4" r="0.66"/><circle cx="415.5" cy="282.1" r="0.84"/><circle cx="418.6" cy="281.8" r="0.83"/><circle cx="422.7" cy="282.0" r="0.84"/><circle cx="426.2" cy="281.4" r="0.81"/><circle cx="430.4" cy="281.5" r="0.80"/><circle cx="433.9" cy="281.4" r="0.64"/><circle cx="367.1" cy="285.0" r="0.78"/><circle cx="371.4" cy="285.6" r="0.56"/><circle cx="374.9" cy="284.7" r="0.72"/><circle cx="378.7" cy="285.3" r="0.71"/><circle cx="382.9" cy="285.4" r="0.79"/><circle cx="387.0" cy="284.8" r="0.66"/><circle cx="390.9" cy="285.0" r="0.64"/><circle cx="394.2" cy="284.8" r="0.80"/><circle cx="398.1" cy="284.7" r="0.84"/><circle cx="401.8" cy="284.9" r="0.73"/><circle cx="406.0" cy="284.9" r="0.55"/><circle cx="409.1" cy="284.7" r="0.71"/><circle cx="413.0" cy="285.5" r="0.61"/><circle cx="416.5" cy="285.1" r="0.59"/><circle cx="420.6" cy="284.8" r="0.60"/><circle cx="424.7" cy="285.5" r="0.66"/><circle cx="428.5" cy="284.9" r="0.82"/><circle cx="432.3" cy="284.6" r="0.77"/><circle cx="365.4" cy="287.9" r="0.56"/><circle cx="369.8" cy="288.6" r="0.66"/><circle cx="373.4" cy="288.6" r="0.57"/><circle cx="377.3" cy="288.6" r="0.83"/><circle cx="380.5" cy="288.5" r="0.70"/><circle cx="385.0" cy="288.3" r="0.75"/><circle cx="388.9" cy="288.2" r="0.70"/><circle cx="392.7" cy="287.9" r="0.84"/><circle cx="395.9" cy="288.4" r="0.64"/><circle cx="400.2" cy="288.4" r="0.77"/><circle cx="403.3" cy="288.8" r="0.80"/><circle cx="407.7" cy="288.1" r="0.63"/><circle cx="411.3" cy="288.0" r="0.84"/><circle cx="415.0" cy="288.9" r="0.60"/><circle cx="419.0" cy="288.7" r="0.74"/><circle cx="422.6" cy="287.9" r="0.68"/><circle cx="426.4" cy="288.8" r="0.84"/><circle cx="430.8" cy="288.9" r="0.60"/><circle cx="433.6" cy="288.2" r="0.55"/><circle cx="367.2" cy="291.8" r="0.61"/><circle cx="371.5" cy="291.6" r="0.63"/><circle cx="375.7" cy="291.4" r="0.81"/><circle cx="379.0" cy="291.9" r="0.59"/><circle cx="383.0" cy="292.1" r="0.61"/><circle cx="386.6" cy="291.9" r="0.69"/><circle cx="390.7" cy="291.8" r="0.64"/><circle cx="394.4" cy="292.0" r="0.69"/><circle cx="398.1" cy="291.8" r="0.69"/><circle cx="401.4" cy="291.6" r="0.78"/><circle cx="405.8" cy="291.3" r="0.69"/><circle cx="409.5" cy="291.7" r="0.59"/><circle cx="413.3" cy="291.9" r="0.71"/><circle cx="417.4" cy="291.8" r="0.55"/><circle cx="420.6" cy="291.9" r="0.57"/><circle cx="425.1" cy="291.9" r="0.78"/><circle cx="428.1" cy="291.2" r="0.81"/><circle cx="432.2" cy="291.6" r="0.71"/><circle cx="366.0" cy="294.9" r="0.78"/><circle cx="369.2" cy="295.5" r="0.76"/><circle cx="373.1" cy="295.0" r="0.81"/><circle cx="376.9" cy="295.2" r="0.82"/><circle cx="381.4" cy="294.8" r="0.79"/><circle cx="384.8" cy="295.3" r="0.57"/><circle cx="388.4" cy="295.0" r="0.79"/><circle cx="392.3" cy="294.5" r="0.61"/><circle cx="396.4" cy="295.4" r="0.72"/><circle cx="399.5" cy="295.3" r="0.81"/><circle cx="403.5" cy="295.0" r="0.64"/><circle cx="407.1" cy="295.2" r="0.60"/><circle cx="410.9" cy="295.4" r="0.58"/><circle cx="415.4" cy="295.3" r="0.63"/><circle cx="418.8" cy="294.7" r="0.76"/><circle cx="423.2" cy="295.2" r="0.70"/><circle cx="426.5" cy="294.9" r="0.76"/><circle cx="430.1" cy="294.7" r="0.76"/><circle cx="433.9" cy="295.5" r="0.77"/><circle cx="367.3" cy="297.8" r="0.73"/><circle cx="371.0" cy="298.3" r="0.73"/><circle cx="375.5" cy="298.2" r="0.71"/><circle cx="379.3" cy="297.9" r="0.65"/><circle cx="383.1" cy="298.2" r="0.83"/><circle cx="386.2" cy="297.9" r="0.66"/><circle cx="390.4" cy="298.2" r="0.62"/><circle cx="394.1" cy="298.7" r="0.83"/><circle cx="398.1" cy="298.1" r="0.72"/><circle cx="401.5" cy="297.9" r="0.79"/><circle cx="405.4" cy="298.0" r="0.80"/><circle cx="409.0" cy="298.0" r="0.60"/><circle cx="413.6" cy="298.5" r="0.60"/><circle cx="416.6" cy="298.7" r="0.59"/><circle cx="421.0" cy="298.5" r="0.73"/><circle cx="424.6" cy="298.2" r="0.63"/><circle cx="428.5" cy="298.0" r="0.69"/><circle cx="432.0" cy="298.2" r="0.82"/><circle cx="365.8" cy="301.7" r="0.74"/><circle cx="369.0" cy="301.9" r="0.81"/><circle cx="373.5" cy="301.6" r="0.80"/><circle cx="377.5" cy="301.4" r="0.60"/><circle cx="380.7" cy="301.1" r="0.62"/><circle cx="384.3" cy="301.1" r="0.67"/><circle cx="388.0" cy="301.6" r="0.81"/><circle cx="392.5" cy="301.2" r="0.77"/><circle cx="395.8" cy="301.9" r="0.74"/><circle cx="399.9" cy="301.5" r="0.84"/><circle cx="403.4" cy="302.0" r="0.61"/><circle cx="407.1" cy="301.3" r="0.56"/><circle cx="411.6" cy="301.3" r="0.72"/><circle cx="414.9" cy="301.5" r="0.79"/><circle cx="418.9" cy="301.4" r="0.77"/><circle cx="422.3" cy="301.1" r="0.76"/><circle cx="426.9" cy="301.9" r="0.76"/><circle cx="430.7" cy="302.0" r="0.72"/><circle cx="433.8" cy="301.7" r="0.68"/><circle cx="367.8" cy="304.7" r="0.57"/><circle cx="371.1" cy="304.5" r="0.77"/><circle cx="375.4" cy="304.9" r="0.65"/><circle cx="379.2" cy="304.8" r="0.70"/><circle cx="382.5" cy="305.4" r="0.68"/><circle cx="386.6" cy="304.6" r="0.68"/><circle cx="390.4" cy="304.8" r="0.77"/><circle cx="394.0" cy="305.0" r="0.75"/><circle cx="397.6" cy="305.2" r="0.57"/><circle cx="401.6" cy="305.2" r="0.59"/><circle cx="405.4" cy="304.8" r="0.83"/><circle cx="409.9" cy="304.6" r="0.74"/><circle cx="413.5" cy="304.9" r="0.64"/><circle cx="416.7" cy="304.5" r="0.56"/><circle cx="420.3" cy="305.1" r="0.73"/><circle cx="424.2" cy="305.3" r="0.85"/><circle cx="428.3" cy="304.8" r="0.81"/><circle cx="432.4" cy="305.1" r="0.60"/><circle cx="365.9" cy="308.1" r="0.57"/><circle cx="369.0" cy="308.0" r="0.62"/><circle cx="373.1" cy="308.6" r="0.67"/><circle cx="376.8" cy="307.8" r="0.57"/><circle cx="380.8" cy="308.1" r="0.57"/><circle cx="384.7" cy="308.0" r="0.56"/><circle cx="388.5" cy="307.9" r="0.60"/><circle cx="392.6" cy="308.1" r="0.66"/><circle cx="396.2" cy="308.4" r="0.74"/><circle cx="400.3" cy="308.4" r="0.65"/><circle cx="404.2" cy="307.7" r="0.61"/><circle cx="407.1" cy="308.1" r="0.66"/><circle cx="411.2" cy="308.3" r="0.65"/><circle cx="415.1" cy="308.4" r="0.83"/><circle cx="419.4" cy="308.1" r="0.67"/><circle cx="423.2" cy="308.5" r="0.81"/><circle cx="426.1" cy="308.0" r="0.68"/><circle cx="430.1" cy="308.2" r="0.83"/><circle cx="434.0" cy="308.2" r="0.65"/><circle cx="367.7" cy="311.5" r="0.60"/><circle cx="371.0" cy="311.8" r="0.80"/><circle cx="375.0" cy="311.2" r="0.58"/><circle cx="379.1" cy="311.6" r="0.83"/><circle cx="383.0" cy="311.6" r="0.73"/><circle cx="387.0" cy="311.9" r="0.60"/><circle cx="390.0" cy="311.1" r="0.55"/><circle cx="394.6" cy="312.0" r="0.70"/><circle cx="398.3" cy="311.7" r="0.75"/><circle cx="401.7" cy="312.0" r="0.64"/><circle cx="405.2" cy="311.1" r="0.79"/><circle cx="409.7" cy="311.9" r="0.79"/><circle cx="412.9" cy="311.4" r="0.63"/><circle cx="417.4" cy="311.0" r="0.64"/><circle cx="421.0" cy="311.6" r="0.55"/><circle cx="424.2" cy="311.2" r="0.62"/><circle cx="428.4" cy="311.0" r="0.80"/><circle cx="432.2" cy="311.7" r="0.66"/><circle cx="366.0" cy="314.4" r="0.81"/><circle cx="369.2" cy="314.8" r="0.72"/><circle cx="373.5" cy="314.8" r="0.77"/><circle cx="376.7" cy="314.8" r="0.70"/><circle cx="381.0" cy="314.4" r="0.76"/><circle cx="384.3" cy="314.3" r="0.57"/><circle cx="389.0" cy="314.5" r="0.76"/><circle cx="391.9" cy="314.9" r="0.62"/><circle cx="396.2" cy="315.0" r="0.75"/><circle cx="399.9" cy="315.0" r="0.55"/><circle cx="403.3" cy="314.5" r="0.69"/><circle cx="407.8" cy="314.3" r="0.61"/><circle cx="411.3" cy="314.6" r="0.57"/><circle cx="414.9" cy="314.3" r="0.55"/><circle cx="419.2" cy="314.6" r="0.76"/><circle cx="422.4" cy="315.0" r="0.81"/><circle cx="426.0" cy="314.9" r="0.82"/><circle cx="430.6" cy="314.4" r="0.77"/><circle cx="434.4" cy="314.5" r="0.75"/><circle cx="367.7" cy="317.8" r="0.80"/><circle cx="371.8" cy="317.7" r="0.69"/><circle cx="375.3" cy="317.6" r="0.71"/><circle cx="379.4" cy="317.9" r="0.70"/><circle cx="383.2" cy="318.5" r="0.84"/><circle cx="386.2" cy="318.6" r="0.65"/><circle cx="390.3" cy="317.8" r="0.79"/><circle cx="394.3" cy="318.1" r="0.70"/><circle cx="398.0" cy="318.2" r="0.60"/><circle cx="402.0" cy="317.9" r="0.56"/><circle cx="406.1" cy="317.7" r="0.79"/><circle cx="409.7" cy="318.0" r="0.73"/><circle cx="412.9" cy="317.8" r="0.82"/><circle cx="417.2" cy="318.4" r="0.69"/><circle cx="420.3" cy="318.4" r="0.84"/><circle cx="424.4" cy="318.2" r="0.59"/><circle cx="428.9" cy="318.3" r="0.57"/><circle cx="432.4" cy="318.3" r="0.68"/><circle cx="365.8" cy="321.8" r="0.75"/><circle cx="369.5" cy="321.9" r="0.74"/><circle cx="373.6" cy="321.5" r="0.78"/><circle cx="377.4" cy="321.4" r="0.69"/><circle cx="380.6" cy="321.6" r="0.77"/><circle cx="384.6" cy="321.0" r="0.76"/><circle cx="388.6" cy="321.5" r="0.60"/><circle cx="392.7" cy="321.6" r="0.79"/><circle cx="395.7" cy="321.2" r="0.71"/><circle cx="399.4" cy="321.9" r="0.60"/><circle cx="403.4" cy="321.7" r="0.62"/><circle cx="407.6" cy="321.6" r="0.61"/><circle cx="410.8" cy="321.6" r="0.81"/><circle cx="415.4" cy="321.0" r="0.65"/><circle cx="418.9" cy="320.9" r="0.82"/><circle cx="423.0" cy="321.9" r="0.82"/><circle cx="426.8" cy="321.2" r="0.75"/><circle cx="430.7" cy="320.9" r="0.57"/><circle cx="434.6" cy="321.0" r="0.82"/><circle cx="367.5" cy="324.4" r="0.66"/><circle cx="371.8" cy="324.8" r="0.59"/><circle cx="375.5" cy="324.5" r="0.80"/><circle cx="379.0" cy="325.1" r="0.71"/><circle cx="382.7" cy="325.2" r="0.84"/><circle cx="386.6" cy="324.7" r="0.73"/><circle cx="390.6" cy="324.5" r="0.83"/><circle cx="394.1" cy="325.2" r="0.72"/><circle cx="398.4" cy="325.1" r="0.63"/><circle cx="401.3" cy="324.8" r="0.72"/><circle cx="405.4" cy="324.6" r="0.63"/><circle cx="409.0" cy="324.7" r="0.71"/><circle cx="413.1" cy="325.0" r="0.68"/><circle cx="417.3" cy="325.0" r="0.70"/><circle cx="420.8" cy="324.4" r="0.76"/><circle cx="425.0" cy="325.2" r="0.79"/><circle cx="428.9" cy="324.8" r="0.69"/><circle cx="432.7" cy="324.9" r="0.57"/><circle cx="366.1" cy="328.1" r="0.81"/><circle cx="369.4" cy="328.1" r="0.73"/><circle cx="373.4" cy="328.4" r="0.67"/><circle cx="377.3" cy="328.4" r="0.58"/><circle cx="381.3" cy="328.2" r="0.68"/><circle cx="384.2" cy="328.0" r="0.60"/><circle cx="388.2" cy="328.0" r="0.74"/><circle cx="392.7" cy="328.1" r="0.78"/><circle cx="396.1" cy="327.5" r="0.65"/><circle cx="399.5" cy="328.1" r="0.64"/><circle cx="403.8" cy="327.8" r="0.56"/><circle cx="407.2" cy="328.4" r="0.68"/><circle cx="411.5" cy="328.0" r="0.69"/><circle cx="415.3" cy="328.4" r="0.74"/><circle cx="419.2" cy="327.8" r="0.63"/><circle cx="422.2" cy="328.0" r="0.57"/><circle cx="426.3" cy="328.0" r="0.66"/><circle cx="430.0" cy="327.9" r="0.83"/><circle cx="434.2" cy="328.2" r="0.85"/></g>
<rect x="365.7" y="262.0" width="66.69999999999999" height="67.19999999999999" filter="url(#dots)" opacity="0.3"/>
<path d="M390.5,262 L395.5,262 C390,275 380,292 371,306 L366,311 L365.7,302 C374,290 384,276 390.5,262 Z" fill="#b8a2d4"/>
<g filter="url(#wavy)"><path d="M414.5,261 L423.5,261 C419,278 412,298 403,330 L389,330 C398,306 407,282 414.5,261 Z" fill="#e4ecdc"/></g>
<path d="M414.5,262 C407,282 396,306 386,329.5" fill="none" stroke="#8a7ac0" stroke-width="0.8" stroke-dasharray="1.5 1.2"/>
</g>
<g clip-path="url(#ec3)">
<rect x="432.4" y="262.0" width="65.60000000000002" height="67.19999999999999" fill="#8670c0"/>
<g fill="#5a3e9e"><ellipse cx="430.6" cy="259.4" rx="2.13" ry="1.79" transform="rotate(50 430.6 259.4)"/><ellipse cx="435.1" cy="260.5" rx="2.25" ry="1.51" transform="rotate(16 435.1 260.5)"/><ellipse cx="438.7" cy="260.0" rx="2.12" ry="1.76" transform="rotate(5 438.7 260.0)"/><ellipse cx="443.7" cy="259.7" rx="2.49" ry="1.50" transform="rotate(106 443.7 259.7)"/><ellipse cx="448.5" cy="260.2" rx="2.09" ry="1.88" transform="rotate(61 448.5 260.2)"/><ellipse cx="452.1" cy="259.5" rx="2.51" ry="1.74" transform="rotate(17 452.1 259.5)"/><ellipse cx="457.3" cy="260.3" rx="2.58" ry="1.65" transform="rotate(97 457.3 260.3)"/><ellipse cx="461.3" cy="260.4" rx="2.52" ry="1.73" transform="rotate(111 461.3 260.4)"/><ellipse cx="465.9" cy="259.5" rx="2.17" ry="1.53" transform="rotate(41 465.9 259.5)"/><ellipse cx="469.6" cy="259.5" rx="2.38" ry="1.65" transform="rotate(50 469.6 259.5)"/><ellipse cx="474.2" cy="259.7" rx="2.56" ry="1.76" transform="rotate(48 474.2 259.7)"/><ellipse cx="479.0" cy="259.6" rx="2.10" ry="1.65" transform="rotate(131 479.0 259.6)"/><ellipse cx="484.0" cy="260.2" rx="2.41" ry="1.84" transform="rotate(100 484.0 260.2)"/><ellipse cx="488.0" cy="259.7" rx="2.19" ry="1.61" transform="rotate(6 488.0 259.7)"/><ellipse cx="491.5" cy="260.5" rx="2.19" ry="1.76" transform="rotate(158 491.5 260.5)"/><ellipse cx="496.2" cy="260.5" rx="2.16" ry="1.60" transform="rotate(83 496.2 260.5)"/><ellipse cx="500.9" cy="259.7" rx="2.54" ry="1.66" transform="rotate(105 500.9 259.7)"/><ellipse cx="432.2" cy="264.0" rx="2.05" ry="1.52" transform="rotate(92 432.2 264.0)"/><ellipse cx="436.4" cy="263.6" rx="2.25" ry="1.53" transform="rotate(143 436.4 263.6)"/><ellipse cx="441.2" cy="264.0" rx="2.58" ry="1.84" transform="rotate(95 441.2 264.0)"/><ellipse cx="445.0" cy="263.7" rx="2.32" ry="1.61" transform="rotate(123 445.0 263.7)"/><ellipse cx="450.4" cy="262.9" rx="2.27" ry="1.88" transform="rotate(78 450.4 262.9)"/><ellipse cx="455.2" cy="263.1" rx="2.11" ry="1.87" transform="rotate(90 455.2 263.1)"/><ellipse cx="459.6" cy="263.2" rx="2.37" ry="1.56" transform="rotate(115 459.6 263.2)"/><ellipse cx="463.8" cy="263.4" rx="2.32" ry="1.50" transform="rotate(140 463.8 263.4)"/><ellipse cx="467.5" cy="262.8" rx="2.53" ry="1.83" transform="rotate(167 467.5 262.8)"/><ellipse cx="471.9" cy="262.9" rx="2.57" ry="1.53" transform="rotate(158 471.9 262.9)"/><ellipse cx="476.6" cy="262.9" rx="2.46" ry="1.55" transform="rotate(137 476.6 262.9)"/><ellipse cx="481.0" cy="263.5" rx="2.52" ry="1.67" transform="rotate(48 481.0 263.5)"/><ellipse cx="484.9" cy="263.4" rx="2.12" ry="1.62" transform="rotate(131 484.9 263.4)"/><ellipse cx="490.6" cy="263.6" rx="2.31" ry="1.55" transform="rotate(79 490.6 263.6)"/><ellipse cx="493.8" cy="263.2" rx="2.14" ry="1.59" transform="rotate(106 493.8 263.2)"/><ellipse cx="497.9" cy="263.6" rx="2.54" ry="1.84" transform="rotate(41 497.9 263.6)"/><ellipse cx="429.7" cy="266.5" rx="2.13" ry="1.55" transform="rotate(120 429.7 266.5)"/><ellipse cx="435.5" cy="266.9" rx="2.47" ry="1.82" transform="rotate(85 435.5 266.9)"/><ellipse cx="438.7" cy="266.3" rx="2.25" ry="1.69" transform="rotate(78 438.7 266.3)"/><ellipse cx="444.0" cy="267.0" rx="2.06" ry="1.66" transform="rotate(177 444.0 267.0)"/><ellipse cx="447.7" cy="267.2" rx="2.11" ry="1.68" transform="rotate(45 447.7 267.2)"/><ellipse cx="452.3" cy="266.5" rx="2.55" ry="1.68" transform="rotate(45 452.3 266.5)"/><ellipse cx="457.4" cy="266.9" rx="2.60" ry="1.83" transform="rotate(9 457.4 266.9)"/><ellipse cx="462.0" cy="267.3" rx="2.10" ry="1.69" transform="rotate(153 462.0 267.3)"/><ellipse cx="465.1" cy="266.7" rx="2.23" ry="1.89" transform="rotate(11 465.1 266.7)"/><ellipse cx="469.6" cy="267.1" rx="2.25" ry="1.88" transform="rotate(82 469.6 267.1)"/><ellipse cx="475.2" cy="266.9" rx="2.09" ry="1.62" transform="rotate(129 475.2 266.9)"/><ellipse cx="479.5" cy="266.9" rx="2.45" ry="1.52" transform="rotate(98 479.5 266.9)"/><ellipse cx="483.3" cy="266.8" rx="2.09" ry="1.88" transform="rotate(153 483.3 266.8)"/><ellipse cx="486.9" cy="266.4" rx="2.41" ry="1.59" transform="rotate(107 486.9 266.4)"/><ellipse cx="491.4" cy="267.3" rx="2.36" ry="1.75" transform="rotate(44 491.4 267.3)"/><ellipse cx="496.3" cy="266.9" rx="2.56" ry="1.58" transform="rotate(94 496.3 266.9)"/><ellipse cx="501.1" cy="266.5" rx="2.40" ry="1.62" transform="rotate(71 501.1 266.5)"/><ellipse cx="432.3" cy="270.5" rx="2.27" ry="1.90" transform="rotate(13 432.3 270.5)"/><ellipse cx="437.8" cy="269.7" rx="2.16" ry="1.87" transform="rotate(38 437.8 269.7)"/><ellipse cx="442.0" cy="270.7" rx="2.09" ry="1.83" transform="rotate(67 442.0 270.7)"/><ellipse cx="446.1" cy="270.3" rx="2.39" ry="1.50" transform="rotate(178 446.1 270.3)"/><ellipse cx="450.7" cy="270.0" rx="2.56" ry="1.55" transform="rotate(119 450.7 270.0)"/><ellipse cx="454.0" cy="269.7" rx="2.16" ry="1.74" transform="rotate(100 454.0 269.7)"/><ellipse cx="459.3" cy="269.8" rx="2.16" ry="1.70" transform="rotate(114 459.3 269.8)"/><ellipse cx="464.0" cy="270.6" rx="2.25" ry="1.61" transform="rotate(17 464.0 270.6)"/><ellipse cx="467.0" cy="270.5" rx="2.16" ry="1.80" transform="rotate(115 467.0 270.5)"/><ellipse cx="472.3" cy="270.1" rx="2.05" ry="1.85" transform="rotate(2 472.3 270.1)"/><ellipse cx="477.2" cy="270.3" rx="2.35" ry="1.56" transform="rotate(150 477.2 270.3)"/><ellipse cx="480.4" cy="270.0" rx="2.48" ry="1.84" transform="rotate(162 480.4 270.0)"/><ellipse cx="486.0" cy="269.9" rx="2.06" ry="1.81" transform="rotate(45 486.0 269.9)"/><ellipse cx="490.4" cy="270.1" rx="2.09" ry="1.87" transform="rotate(112 490.4 270.1)"/><ellipse cx="494.8" cy="270.8" rx="2.53" ry="1.51" transform="rotate(146 494.8 270.8)"/><ellipse cx="499.0" cy="270.0" rx="2.48" ry="1.85" transform="rotate(168 499.0 270.0)"/><ellipse cx="430.9" cy="273.3" rx="2.06" ry="1.85" transform="rotate(142 430.9 273.3)"/><ellipse cx="435.4" cy="273.3" rx="2.28" ry="1.62" transform="rotate(147 435.4 273.3)"/><ellipse cx="439.7" cy="273.3" rx="2.12" ry="1.63" transform="rotate(4 439.7 273.3)"/><ellipse cx="444.2" cy="274.2" rx="2.38" ry="1.66" transform="rotate(50 444.2 274.2)"/><ellipse cx="448.8" cy="273.6" rx="2.07" ry="1.89" transform="rotate(169 448.8 273.6)"/><ellipse cx="451.9" cy="274.2" rx="2.07" ry="1.67" transform="rotate(48 451.9 274.2)"/><ellipse cx="457.2" cy="273.4" rx="2.31" ry="1.65" transform="rotate(109 457.2 273.4)"/><ellipse cx="461.3" cy="273.3" rx="2.00" ry="1.87" transform="rotate(128 461.3 273.3)"/><ellipse cx="465.7" cy="273.9" rx="2.40" ry="1.65" transform="rotate(134 465.7 273.9)"/><ellipse cx="469.3" cy="273.8" rx="2.19" ry="1.84" transform="rotate(59 469.3 273.8)"/><ellipse cx="474.8" cy="273.4" rx="2.25" ry="1.66" transform="rotate(56 474.8 273.4)"/><ellipse cx="478.5" cy="273.2" rx="2.56" ry="1.77" transform="rotate(76 478.5 273.2)"/><ellipse cx="483.8" cy="273.7" rx="2.33" ry="1.50" transform="rotate(54 483.8 273.7)"/><ellipse cx="487.3" cy="273.5" rx="2.39" ry="1.69" transform="rotate(104 487.3 273.5)"/><ellipse cx="491.9" cy="273.3" rx="2.54" ry="1.82" transform="rotate(85 491.9 273.3)"/><ellipse cx="495.9" cy="273.1" rx="2.38" ry="1.63" transform="rotate(93 495.9 273.1)"/><ellipse cx="501.3" cy="273.9" rx="2.13" ry="1.58" transform="rotate(121 501.3 273.9)"/><ellipse cx="431.8" cy="276.7" rx="2.51" ry="1.53" transform="rotate(86 431.8 276.7)"/><ellipse cx="436.9" cy="277.2" rx="2.42" ry="1.70" transform="rotate(35 436.9 277.2)"/><ellipse cx="441.0" cy="277.2" rx="2.45" ry="1.81" transform="rotate(1 441.0 277.2)"/><ellipse cx="445.2" cy="276.9" rx="2.57" ry="1.71" transform="rotate(32 445.2 276.9)"/><ellipse cx="449.5" cy="276.7" rx="2.27" ry="1.82" transform="rotate(153 449.5 276.7)"/><ellipse cx="454.9" cy="277.6" rx="2.57" ry="1.86" transform="rotate(107 454.9 277.6)"/><ellipse cx="459.2" cy="277.3" rx="2.50" ry="1.72" transform="rotate(91 459.2 277.3)"/><ellipse cx="464.0" cy="277.3" rx="2.16" ry="1.60" transform="rotate(85 464.0 277.3)"/><ellipse cx="468.0" cy="277.3" rx="2.38" ry="1.61" transform="rotate(94 468.0 277.3)"/><ellipse cx="471.5" cy="276.7" rx="2.19" ry="1.72" transform="rotate(49 471.5 276.7)"/><ellipse cx="476.0" cy="276.7" rx="2.42" ry="1.53" transform="rotate(125 476.0 276.7)"/><ellipse cx="480.9" cy="277.1" rx="2.12" ry="1.67" transform="rotate(75 480.9 277.1)"/><ellipse cx="486.0" cy="277.1" rx="2.51" ry="1.81" transform="rotate(125 486.0 277.1)"/><ellipse cx="489.6" cy="276.4" rx="2.45" ry="1.84" transform="rotate(63 489.6 276.4)"/><ellipse cx="494.9" cy="276.9" rx="2.33" ry="1.74" transform="rotate(135 494.9 276.9)"/><ellipse cx="498.2" cy="276.7" rx="2.02" ry="1.63" transform="rotate(78 498.2 276.7)"/><ellipse cx="430.7" cy="280.3" rx="2.28" ry="1.55" transform="rotate(30 430.7 280.3)"/><ellipse cx="435.0" cy="279.8" rx="2.34" ry="1.51" transform="rotate(71 435.0 279.8)"/><ellipse cx="439.4" cy="280.0" rx="2.03" ry="1.65" transform="rotate(83 439.4 280.0)"/><ellipse cx="443.1" cy="280.2" rx="2.23" ry="1.80" transform="rotate(137 443.1 280.2)"/><ellipse cx="448.5" cy="280.1" rx="2.01" ry="1.72" transform="rotate(15 448.5 280.1)"/><ellipse cx="453.2" cy="280.2" rx="2.47" ry="1.76" transform="rotate(117 453.2 280.2)"/><ellipse cx="457.2" cy="280.9" rx="2.01" ry="1.56" transform="rotate(36 457.2 280.9)"/><ellipse cx="460.6" cy="280.6" rx="2.13" ry="1.78" transform="rotate(102 460.6 280.6)"/><ellipse cx="466.0" cy="280.0" rx="2.45" ry="1.55" transform="rotate(109 466.0 280.0)"/><ellipse cx="470.5" cy="281.0" rx="2.02" ry="1.62" transform="rotate(19 470.5 281.0)"/><ellipse cx="474.7" cy="280.9" rx="2.43" ry="1.53" transform="rotate(71 474.7 280.9)"/><ellipse cx="479.1" cy="280.6" rx="2.46" ry="1.84" transform="rotate(18 479.1 280.6)"/><ellipse cx="483.4" cy="279.9" rx="2.47" ry="1.64" transform="rotate(177 483.4 279.9)"/><ellipse cx="487.5" cy="280.2" rx="2.20" ry="1.84" transform="rotate(91 487.5 280.2)"/><ellipse cx="492.5" cy="279.9" rx="2.38" ry="1.83" transform="rotate(173 492.5 279.9)"/><ellipse cx="496.7" cy="280.3" rx="2.58" ry="1.61" transform="rotate(132 496.7 280.3)"/><ellipse cx="501.3" cy="280.4" rx="2.26" ry="1.79" transform="rotate(87 501.3 280.4)"/><ellipse cx="432.2" cy="284.2" rx="2.05" ry="1.85" transform="rotate(150 432.2 284.2)"/><ellipse cx="436.6" cy="283.8" rx="2.23" ry="1.51" transform="rotate(110 436.6 283.8)"/><ellipse cx="442.0" cy="283.4" rx="2.48" ry="1.64" transform="rotate(38 442.0 283.4)"/><ellipse cx="446.4" cy="284.0" rx="2.01" ry="1.88" transform="rotate(50 446.4 284.0)"/><ellipse cx="449.5" cy="284.1" rx="2.45" ry="1.78" transform="rotate(88 449.5 284.1)"/><ellipse cx="454.8" cy="283.8" rx="2.06" ry="1.59" transform="rotate(143 454.8 283.8)"/><ellipse cx="459.3" cy="283.6" rx="2.28" ry="1.71" transform="rotate(105 459.3 283.6)"/><ellipse cx="463.3" cy="284.1" rx="2.42" ry="1.61" transform="rotate(60 463.3 284.1)"/><ellipse cx="467.4" cy="283.3" rx="2.07" ry="1.71" transform="rotate(35 467.4 283.3)"/><ellipse cx="472.6" cy="283.4" rx="2.29" ry="1.79" transform="rotate(39 472.6 283.4)"/><ellipse cx="477.4" cy="283.8" rx="2.06" ry="1.58" transform="rotate(51 477.4 283.8)"/><ellipse cx="480.6" cy="283.4" rx="2.32" ry="1.61" transform="rotate(3 480.6 283.4)"/><ellipse cx="486.2" cy="283.9" rx="2.08" ry="1.85" transform="rotate(126 486.2 283.9)"/><ellipse cx="489.8" cy="284.2" rx="2.28" ry="1.68" transform="rotate(103 489.8 284.2)"/><ellipse cx="493.7" cy="283.3" rx="2.29" ry="1.83" transform="rotate(169 493.7 283.3)"/><ellipse cx="498.4" cy="283.3" rx="2.03" ry="1.56" transform="rotate(113 498.4 283.3)"/><ellipse cx="430.5" cy="287.0" rx="2.07" ry="1.81" transform="rotate(179 430.5 287.0)"/><ellipse cx="435.0" cy="287.5" rx="2.31" ry="1.68" transform="rotate(41 435.0 287.5)"/><ellipse cx="439.1" cy="287.6" rx="2.18" ry="1.75" transform="rotate(178 439.1 287.6)"/><ellipse cx="443.8" cy="287.5" rx="2.12" ry="1.58" transform="rotate(171 443.8 287.5)"/><ellipse cx="448.3" cy="286.8" rx="2.05" ry="1.50" transform="rotate(31 448.3 286.8)"/><ellipse cx="452.3" cy="287.3" rx="2.14" ry="1.78" transform="rotate(52 452.3 287.3)"/><ellipse cx="457.1" cy="287.1" rx="2.55" ry="1.82" transform="rotate(124 457.1 287.1)"/><ellipse cx="461.4" cy="287.4" rx="2.26" ry="1.72" transform="rotate(168 461.4 287.4)"/><ellipse cx="465.8" cy="287.7" rx="2.04" ry="1.57" transform="rotate(149 465.8 287.7)"/><ellipse cx="469.7" cy="287.5" rx="2.17" ry="1.55" transform="rotate(102 469.7 287.5)"/><ellipse cx="474.7" cy="287.4" rx="2.30" ry="1.70" transform="rotate(170 474.7 287.4)"/><ellipse cx="478.1" cy="286.6" rx="2.19" ry="1.60" transform="rotate(78 478.1 286.6)"/><ellipse cx="482.5" cy="287.8" rx="2.35" ry="1.88" transform="rotate(150 482.5 287.8)"/><ellipse cx="488.4" cy="287.4" rx="2.02" ry="1.80" transform="rotate(49 488.4 287.4)"/><ellipse cx="492.0" cy="287.4" rx="2.11" ry="1.73" transform="rotate(165 492.0 287.4)"/><ellipse cx="496.6" cy="287.2" rx="2.21" ry="1.63" transform="rotate(16 496.6 287.2)"/><ellipse cx="501.1" cy="287.6" rx="2.42" ry="1.62" transform="rotate(59 501.1 287.6)"/><ellipse cx="433.3" cy="291.0" rx="2.27" ry="1.63" transform="rotate(99 433.3 291.0)"/><ellipse cx="436.7" cy="291.2" rx="2.31" ry="1.90" transform="rotate(73 436.7 291.2)"/><ellipse cx="441.7" cy="290.7" rx="2.11" ry="1.64" transform="rotate(74 441.7 290.7)"/><ellipse cx="446.2" cy="290.8" rx="2.12" ry="1.72" transform="rotate(137 446.2 290.8)"/><ellipse cx="450.9" cy="290.5" rx="2.07" ry="1.89" transform="rotate(126 450.9 290.5)"/><ellipse cx="454.8" cy="290.3" rx="2.33" ry="1.72" transform="rotate(29 454.8 290.3)"/><ellipse cx="458.3" cy="291.2" rx="2.28" ry="1.55" transform="rotate(164 458.3 291.2)"/><ellipse cx="463.9" cy="290.6" rx="2.31" ry="1.61" transform="rotate(129 463.9 290.6)"/><ellipse cx="468.3" cy="291.2" rx="2.33" ry="1.65" transform="rotate(44 468.3 291.2)"/><ellipse cx="472.9" cy="290.6" rx="2.52" ry="1.61" transform="rotate(158 472.9 290.6)"/><ellipse cx="477.1" cy="290.5" rx="2.30" ry="1.83" transform="rotate(168 477.1 290.5)"/><ellipse cx="480.7" cy="290.4" rx="2.60" ry="1.70" transform="rotate(106 480.7 290.4)"/><ellipse cx="484.8" cy="290.6" rx="2.33" ry="1.72" transform="rotate(62 484.8 290.6)"/><ellipse cx="489.7" cy="290.4" rx="2.42" ry="1.73" transform="rotate(34 489.7 290.4)"/><ellipse cx="493.8" cy="290.9" rx="2.45" ry="1.78" transform="rotate(8 493.8 290.9)"/><ellipse cx="499.1" cy="290.5" rx="2.49" ry="1.89" transform="rotate(119 499.1 290.5)"/><ellipse cx="430.4" cy="293.4" rx="2.35" ry="1.85" transform="rotate(90 430.4 293.4)"/><ellipse cx="435.4" cy="293.9" rx="2.27" ry="1.79" transform="rotate(95 435.4 293.9)"/><ellipse cx="439.1" cy="294.2" rx="2.28" ry="1.89" transform="rotate(28 439.1 294.2)"/><ellipse cx="443.3" cy="294.2" rx="2.51" ry="1.84" transform="rotate(117 443.3 294.2)"/><ellipse cx="448.6" cy="293.9" rx="2.43" ry="1.80" transform="rotate(57 448.6 293.9)"/><ellipse cx="453.0" cy="293.4" rx="2.38" ry="1.87" transform="rotate(12 453.0 293.4)"/><ellipse cx="457.6" cy="294.3" rx="2.06" ry="1.75" transform="rotate(78 457.6 294.3)"/><ellipse cx="461.8" cy="293.9" rx="2.54" ry="1.52" transform="rotate(125 461.8 293.9)"/><ellipse cx="466.1" cy="293.8" rx="2.09" ry="1.71" transform="rotate(67 466.1 293.8)"/><ellipse cx="470.1" cy="294.4" rx="2.05" ry="1.85" transform="rotate(31 470.1 294.4)"/><ellipse cx="474.6" cy="293.7" rx="2.09" ry="1.68" transform="rotate(164 474.6 293.7)"/><ellipse cx="478.4" cy="293.7" rx="2.48" ry="1.86" transform="rotate(2 478.4 293.7)"/><ellipse cx="483.5" cy="293.6" rx="2.21" ry="1.74" transform="rotate(80 483.5 293.6)"/><ellipse cx="487.8" cy="293.9" rx="2.51" ry="1.58" transform="rotate(45 487.8 293.9)"/><ellipse cx="491.8" cy="294.0" rx="2.34" ry="1.73" transform="rotate(43 491.8 294.0)"/><ellipse cx="497.2" cy="293.8" rx="2.39" ry="1.61" transform="rotate(176 497.2 293.8)"/><ellipse cx="500.9" cy="294.2" rx="2.03" ry="1.74" transform="rotate(134 500.9 294.2)"/><ellipse cx="432.6" cy="297.9" rx="2.48" ry="1.74" transform="rotate(52 432.6 297.9)"/><ellipse cx="436.8" cy="297.6" rx="2.41" ry="1.79" transform="rotate(112 436.8 297.6)"/><ellipse cx="441.7" cy="297.8" rx="2.54" ry="1.76" transform="rotate(113 441.7 297.8)"/><ellipse cx="445.5" cy="297.3" rx="2.44" ry="1.54" transform="rotate(104 445.5 297.3)"/><ellipse cx="449.9" cy="297.7" rx="2.08" ry="1.72" transform="rotate(32 449.9 297.7)"/><ellipse cx="455.4" cy="297.4" rx="2.50" ry="1.60" transform="rotate(164 455.4 297.4)"/><ellipse cx="459.5" cy="297.4" rx="2.45" ry="1.64" transform="rotate(145 459.5 297.4)"/><ellipse cx="462.8" cy="298.0" rx="2.58" ry="1.84" transform="rotate(25 462.8 298.0)"/><ellipse cx="468.2" cy="298.0" rx="2.48" ry="1.65" transform="rotate(174 468.2 298.0)"/><ellipse cx="472.7" cy="296.8" rx="2.27" ry="1.77" transform="rotate(97 472.7 296.8)"/><ellipse cx="476.9" cy="297.5" rx="2.56" ry="1.54" transform="rotate(148 476.9 297.5)"/><ellipse cx="480.6" cy="296.8" rx="2.34" ry="1.87" transform="rotate(159 480.6 296.8)"/><ellipse cx="485.0" cy="296.9" rx="2.55" ry="1.62" transform="rotate(148 485.0 296.9)"/><ellipse cx="489.7" cy="297.0" rx="2.18" ry="1.70" transform="rotate(170 489.7 297.0)"/><ellipse cx="493.6" cy="297.9" rx="2.27" ry="1.77" transform="rotate(24 493.6 297.9)"/><ellipse cx="499.0" cy="297.9" rx="2.45" ry="1.56" transform="rotate(75 499.0 297.9)"/><ellipse cx="430.3" cy="300.3" rx="2.24" ry="1.88" transform="rotate(88 430.3 300.3)"/><ellipse cx="434.1" cy="300.6" rx="2.57" ry="1.84" transform="rotate(80 434.1 300.6)"/><ellipse cx="438.6" cy="301.0" rx="2.59" ry="1.64" transform="rotate(98 438.6 301.0)"/><ellipse cx="443.4" cy="300.4" rx="2.51" ry="1.68" transform="rotate(22 443.4 300.4)"/><ellipse cx="448.3" cy="301.0" rx="2.01" ry="1.81" transform="rotate(107 448.3 301.0)"/><ellipse cx="452.0" cy="300.4" rx="2.04" ry="1.81" transform="rotate(102 452.0 300.4)"/><ellipse cx="456.3" cy="300.5" rx="2.20" ry="1.56" transform="rotate(157 456.3 300.5)"/><ellipse cx="461.8" cy="300.2" rx="2.09" ry="1.55" transform="rotate(155 461.8 300.2)"/><ellipse cx="465.2" cy="300.4" rx="2.02" ry="1.51" transform="rotate(119 465.2 300.4)"/><ellipse cx="470.5" cy="300.5" rx="2.10" ry="1.52" transform="rotate(58 470.5 300.5)"/><ellipse cx="474.8" cy="300.8" rx="2.29" ry="1.81" transform="rotate(134 474.8 300.8)"/><ellipse cx="478.8" cy="300.3" rx="2.57" ry="1.52" transform="rotate(91 478.8 300.3)"/><ellipse cx="483.7" cy="301.2" rx="2.27" ry="1.89" transform="rotate(94 483.7 301.2)"/><ellipse cx="486.9" cy="300.8" rx="2.41" ry="1.70" transform="rotate(72 486.9 300.8)"/><ellipse cx="492.7" cy="300.3" rx="2.36" ry="1.53" transform="rotate(15 492.7 300.3)"/><ellipse cx="496.0" cy="301.0" rx="2.20" ry="1.90" transform="rotate(99 496.0 301.0)"/><ellipse cx="500.8" cy="300.7" rx="2.06" ry="1.78" transform="rotate(109 500.8 300.7)"/><ellipse cx="433.2" cy="304.4" rx="2.43" ry="1.59" transform="rotate(138 433.2 304.4)"/><ellipse cx="436.9" cy="303.9" rx="2.27" ry="1.67" transform="rotate(61 436.9 303.9)"/><ellipse cx="440.8" cy="304.1" rx="2.22" ry="1.56" transform="rotate(120 440.8 304.1)"/><ellipse cx="446.5" cy="303.7" rx="2.06" ry="1.54" transform="rotate(150 446.5 303.7)"/><ellipse cx="450.6" cy="304.6" rx="2.35" ry="1.72" transform="rotate(100 450.6 304.6)"/><ellipse cx="454.3" cy="303.7" rx="2.40" ry="1.80" transform="rotate(64 454.3 303.7)"/><ellipse cx="459.6" cy="304.5" rx="2.36" ry="1.64" transform="rotate(174 459.6 304.5)"/><ellipse cx="463.5" cy="303.9" rx="2.13" ry="1.54" transform="rotate(118 463.5 303.9)"/><ellipse cx="468.4" cy="304.0" rx="2.34" ry="1.82" transform="rotate(137 468.4 304.0)"/><ellipse cx="472.8" cy="304.8" rx="2.37" ry="1.76" transform="rotate(147 472.8 304.8)"/><ellipse cx="475.8" cy="304.7" rx="2.16" ry="1.57" transform="rotate(149 475.8 304.7)"/><ellipse cx="481.3" cy="304.0" rx="2.00" ry="1.85" transform="rotate(61 481.3 304.0)"/><ellipse cx="485.5" cy="304.1" rx="2.38" ry="1.51" transform="rotate(26 485.5 304.1)"/><ellipse cx="490.2" cy="303.9" rx="2.20" ry="1.65" transform="rotate(76 490.2 303.9)"/><ellipse cx="494.6" cy="304.5" rx="2.05" ry="1.52" transform="rotate(102 494.6 304.5)"/><ellipse cx="498.1" cy="304.3" rx="2.16" ry="1.76" transform="rotate(121 498.1 304.3)"/><ellipse cx="430.4" cy="307.5" rx="2.45" ry="1.55" transform="rotate(49 430.4 307.5)"/><ellipse cx="434.7" cy="307.3" rx="2.29" ry="1.77" transform="rotate(122 434.7 307.3)"/><ellipse cx="438.5" cy="307.5" rx="2.00" ry="1.62" transform="rotate(108 438.5 307.5)"/><ellipse cx="443.1" cy="307.2" rx="2.20" ry="1.50" transform="rotate(46 443.1 307.2)"/><ellipse cx="448.4" cy="307.2" rx="2.42" ry="1.70" transform="rotate(68 448.4 307.2)"/><ellipse cx="452.9" cy="308.0" rx="2.52" ry="1.52" transform="rotate(13 452.9 308.0)"/><ellipse cx="456.0" cy="308.1" rx="2.35" ry="1.73" transform="rotate(155 456.0 308.1)"/><ellipse cx="461.5" cy="307.5" rx="2.01" ry="1.63" transform="rotate(21 461.5 307.5)"/><ellipse cx="466.1" cy="307.7" rx="2.55" ry="1.54" transform="rotate(150 466.1 307.7)"/><ellipse cx="470.6" cy="307.3" rx="2.31" ry="1.66" transform="rotate(106 470.6 307.3)"/><ellipse cx="474.1" cy="307.4" rx="2.10" ry="1.70" transform="rotate(60 474.1 307.4)"/><ellipse cx="478.2" cy="307.6" rx="2.21" ry="1.79" transform="rotate(163 478.2 307.6)"/><ellipse cx="483.7" cy="308.0" rx="2.09" ry="1.58" transform="rotate(43 483.7 308.0)"/><ellipse cx="487.8" cy="307.9" rx="2.11" ry="1.81" transform="rotate(118 487.8 307.9)"/><ellipse cx="492.0" cy="307.9" rx="2.27" ry="1.87" transform="rotate(137 492.0 307.9)"/><ellipse cx="496.5" cy="307.8" rx="2.52" ry="1.75" transform="rotate(112 496.5 307.8)"/><ellipse cx="500.2" cy="307.1" rx="2.18" ry="1.61" transform="rotate(80 500.2 307.1)"/><ellipse cx="431.9" cy="311.0" rx="2.27" ry="1.52" transform="rotate(56 431.9 311.0)"/><ellipse cx="437.5" cy="310.5" rx="2.51" ry="1.75" transform="rotate(156 437.5 310.5)"/><ellipse cx="441.4" cy="311.0" rx="2.48" ry="1.86" transform="rotate(100 441.4 311.0)"/><ellipse cx="445.7" cy="311.4" rx="2.19" ry="1.69" transform="rotate(117 445.7 311.4)"/><ellipse cx="449.6" cy="310.5" rx="2.54" ry="1.64" transform="rotate(19 449.6 310.5)"/><ellipse cx="454.9" cy="311.0" rx="2.15" ry="1.68" transform="rotate(31 454.9 311.0)"/><ellipse cx="458.9" cy="311.0" rx="2.22" ry="1.61" transform="rotate(29 458.9 311.0)"/><ellipse cx="463.3" cy="310.8" rx="2.47" ry="1.76" transform="rotate(108 463.3 310.8)"/><ellipse cx="467.1" cy="310.5" rx="2.17" ry="1.79" transform="rotate(122 467.1 310.5)"/><ellipse cx="472.5" cy="311.5" rx="2.20" ry="1.73" transform="rotate(157 472.5 311.5)"/><ellipse cx="476.0" cy="310.8" rx="2.42" ry="1.66" transform="rotate(174 476.0 310.8)"/><ellipse cx="481.2" cy="311.5" rx="2.23" ry="1.82" transform="rotate(56 481.2 311.5)"/><ellipse cx="485.9" cy="311.2" rx="2.44" ry="1.77" transform="rotate(149 485.9 311.2)"/><ellipse cx="489.8" cy="311.2" rx="2.22" ry="1.65" transform="rotate(76 489.8 311.2)"/><ellipse cx="493.7" cy="310.7" rx="2.29" ry="1.59" transform="rotate(171 493.7 310.7)"/><ellipse cx="498.0" cy="310.5" rx="2.06" ry="1.81" transform="rotate(152 498.0 310.5)"/><ellipse cx="430.9" cy="314.9" rx="2.20" ry="1.81" transform="rotate(7 430.9 314.9)"/><ellipse cx="434.2" cy="314.3" rx="2.50" ry="1.81" transform="rotate(29 434.2 314.3)"/><ellipse cx="439.7" cy="314.0" rx="2.25" ry="1.77" transform="rotate(79 439.7 314.0)"/><ellipse cx="443.2" cy="314.3" rx="2.45" ry="1.68" transform="rotate(51 443.2 314.3)"/><ellipse cx="448.1" cy="314.2" rx="2.28" ry="1.83" transform="rotate(146 448.1 314.2)"/><ellipse cx="452.2" cy="314.9" rx="2.28" ry="1.61" transform="rotate(177 452.2 314.9)"/><ellipse cx="456.6" cy="314.4" rx="2.49" ry="1.82" transform="rotate(174 456.6 314.4)"/><ellipse cx="460.6" cy="314.1" rx="2.52" ry="1.72" transform="rotate(115 460.6 314.1)"/><ellipse cx="465.0" cy="314.8" rx="2.17" ry="1.81" transform="rotate(153 465.0 314.8)"/><ellipse cx="469.6" cy="314.9" rx="2.26" ry="1.88" transform="rotate(27 469.6 314.9)"/><ellipse cx="474.0" cy="314.3" rx="2.02" ry="1.52" transform="rotate(63 474.0 314.3)"/><ellipse cx="478.8" cy="314.1" rx="2.22" ry="1.51" transform="rotate(179 478.8 314.1)"/><ellipse cx="483.9" cy="314.8" rx="2.47" ry="1.56" transform="rotate(117 483.9 314.8)"/><ellipse cx="487.3" cy="314.8" rx="2.08" ry="1.78" transform="rotate(125 487.3 314.8)"/><ellipse cx="491.9" cy="313.8" rx="2.15" ry="1.83" transform="rotate(14 491.9 313.8)"/><ellipse cx="496.5" cy="314.7" rx="2.07" ry="1.62" transform="rotate(95 496.5 314.7)"/><ellipse cx="500.5" cy="313.9" rx="2.48" ry="1.68" transform="rotate(76 500.5 313.9)"/><ellipse cx="432.0" cy="318.3" rx="2.01" ry="1.71" transform="rotate(107 432.0 318.3)"/><ellipse cx="436.6" cy="317.4" rx="2.37" ry="1.60" transform="rotate(77 436.6 317.4)"/><ellipse cx="441.3" cy="318.0" rx="2.58" ry="1.53" transform="rotate(15 441.3 318.0)"/><ellipse cx="445.8" cy="317.8" rx="2.33" ry="1.66" transform="rotate(178 445.8 317.8)"/><ellipse cx="450.2" cy="318.0" rx="2.15" ry="1.51" transform="rotate(177 450.2 318.0)"/><ellipse cx="455.1" cy="317.6" rx="2.38" ry="1.81" transform="rotate(132 455.1 317.6)"/><ellipse cx="459.4" cy="317.6" rx="2.33" ry="1.83" transform="rotate(8 459.4 317.6)"/><ellipse cx="462.9" cy="318.1" rx="2.42" ry="1.75" transform="rotate(84 462.9 318.1)"/><ellipse cx="468.3" cy="317.3" rx="2.27" ry="1.62" transform="rotate(140 468.3 317.3)"/><ellipse cx="471.5" cy="317.4" rx="2.56" ry="1.71" transform="rotate(8 471.5 317.4)"/><ellipse cx="477.4" cy="317.9" rx="2.45" ry="1.58" transform="rotate(46 477.4 317.9)"/><ellipse cx="480.8" cy="318.1" rx="2.20" ry="1.55" transform="rotate(156 480.8 318.1)"/><ellipse cx="485.2" cy="318.3" rx="2.54" ry="1.65" transform="rotate(134 485.2 318.3)"/><ellipse cx="490.6" cy="317.8" rx="2.55" ry="1.71" transform="rotate(90 490.6 317.8)"/><ellipse cx="494.7" cy="318.1" rx="2.36" ry="1.83" transform="rotate(14 494.7 318.1)"/><ellipse cx="498.7" cy="317.6" rx="2.40" ry="1.62" transform="rotate(14 498.7 317.6)"/><ellipse cx="430.6" cy="321.1" rx="2.21" ry="1.52" transform="rotate(124 430.6 321.1)"/><ellipse cx="435.4" cy="321.0" rx="2.16" ry="1.89" transform="rotate(180 435.4 321.0)"/><ellipse cx="439.9" cy="320.7" rx="2.22" ry="1.82" transform="rotate(115 439.9 320.7)"/><ellipse cx="443.9" cy="321.7" rx="2.36" ry="1.81" transform="rotate(26 443.9 321.7)"/><ellipse cx="447.3" cy="320.7" rx="2.22" ry="1.65" transform="rotate(140 447.3 320.7)"/><ellipse cx="452.5" cy="321.3" rx="2.57" ry="1.65" transform="rotate(122 452.5 321.3)"/><ellipse cx="457.2" cy="321.3" rx="2.24" ry="1.76" transform="rotate(95 457.2 321.3)"/><ellipse cx="460.8" cy="320.7" rx="2.30" ry="1.65" transform="rotate(132 460.8 320.7)"/><ellipse cx="465.7" cy="320.9" rx="2.27" ry="1.90" transform="rotate(47 465.7 320.9)"/><ellipse cx="469.7" cy="321.7" rx="2.07" ry="1.84" transform="rotate(88 469.7 321.7)"/><ellipse cx="474.3" cy="321.7" rx="2.05" ry="1.77" transform="rotate(80 474.3 321.7)"/><ellipse cx="479.4" cy="321.0" rx="2.04" ry="1.72" transform="rotate(63 479.4 321.0)"/><ellipse cx="483.8" cy="321.6" rx="2.56" ry="1.76" transform="rotate(128 483.8 321.6)"/><ellipse cx="488.1" cy="321.2" rx="2.12" ry="1.56" transform="rotate(22 488.1 321.2)"/><ellipse cx="492.5" cy="320.6" rx="2.22" ry="1.82" transform="rotate(100 492.5 320.6)"/><ellipse cx="496.5" cy="321.3" rx="2.19" ry="1.90" transform="rotate(16 496.5 321.3)"/><ellipse cx="501.2" cy="321.2" rx="2.49" ry="1.53" transform="rotate(138 501.2 321.2)"/><ellipse cx="433.4" cy="324.8" rx="2.41" ry="1.64" transform="rotate(81 433.4 324.8)"/><ellipse cx="437.6" cy="324.9" rx="2.11" ry="1.89" transform="rotate(115 437.6 324.9)"/><ellipse cx="441.3" cy="325.1" rx="2.07" ry="1.56" transform="rotate(10 441.3 325.1)"/><ellipse cx="445.3" cy="324.4" rx="2.21" ry="1.88" transform="rotate(128 445.3 324.4)"/><ellipse cx="450.8" cy="325.0" rx="2.38" ry="1.72" transform="rotate(45 450.8 325.0)"/><ellipse cx="454.0" cy="324.4" rx="2.30" ry="1.57" transform="rotate(96 454.0 324.4)"/><ellipse cx="459.7" cy="324.2" rx="2.43" ry="1.74" transform="rotate(119 459.7 324.2)"/><ellipse cx="463.9" cy="324.7" rx="2.02" ry="1.52" transform="rotate(149 463.9 324.7)"/><ellipse cx="468.0" cy="324.7" rx="2.46" ry="1.67" transform="rotate(117 468.0 324.7)"/><ellipse cx="472.4" cy="324.6" rx="2.17" ry="1.88" transform="rotate(113 472.4 324.6)"/><ellipse cx="476.6" cy="325.0" rx="2.18" ry="1.53" transform="rotate(123 476.6 325.0)"/><ellipse cx="480.3" cy="324.5" rx="2.12" ry="1.74" transform="rotate(87 480.3 324.5)"/><ellipse cx="485.1" cy="324.9" rx="2.52" ry="1.89" transform="rotate(132 485.1 324.9)"/><ellipse cx="489.2" cy="324.4" rx="2.19" ry="1.69" transform="rotate(101 489.2 324.4)"/><ellipse cx="493.8" cy="324.3" rx="2.17" ry="1.65" transform="rotate(17 493.8 324.3)"/><ellipse cx="498.8" cy="324.3" rx="2.10" ry="1.63" transform="rotate(156 498.8 324.3)"/><ellipse cx="430.5" cy="327.8" rx="2.30" ry="1.71" transform="rotate(137 430.5 327.8)"/><ellipse cx="434.8" cy="327.8" rx="2.57" ry="1.70" transform="rotate(4 434.8 327.8)"/><ellipse cx="439.9" cy="327.7" rx="2.03" ry="1.70" transform="rotate(64 439.9 327.7)"/><ellipse cx="444.2" cy="328.2" rx="2.32" ry="1.84" transform="rotate(85 444.2 328.2)"/><ellipse cx="447.9" cy="328.5" rx="2.46" ry="1.65" transform="rotate(131 447.9 328.5)"/><ellipse cx="452.2" cy="328.1" rx="2.33" ry="1.53" transform="rotate(35 452.2 328.1)"/><ellipse cx="456.8" cy="328.3" rx="2.59" ry="1.77" transform="rotate(50 456.8 328.3)"/><ellipse cx="460.6" cy="328.6" rx="2.48" ry="1.64" transform="rotate(71 460.6 328.6)"/><ellipse cx="466.3" cy="328.3" rx="2.31" ry="1.70" transform="rotate(36 466.3 328.3)"/><ellipse cx="469.3" cy="327.6" rx="2.28" ry="1.68" transform="rotate(60 469.3 327.6)"/><ellipse cx="474.6" cy="328.0" rx="2.37" ry="1.57" transform="rotate(59 474.6 328.0)"/><ellipse cx="479.6" cy="328.3" rx="2.20" ry="1.83" transform="rotate(54 479.6 328.3)"/><ellipse cx="483.3" cy="328.3" rx="2.49" ry="1.65" transform="rotate(54 483.3 328.3)"/><ellipse cx="487.9" cy="328.6" rx="2.48" ry="1.79" transform="rotate(105 487.9 328.6)"/><ellipse cx="492.3" cy="327.4" rx="2.58" ry="1.81" transform="rotate(85 492.3 327.4)"/><ellipse cx="496.8" cy="328.1" rx="2.35" ry="1.57" transform="rotate(130 496.8 328.1)"/><ellipse cx="501.0" cy="328.1" rx="2.09" ry="1.77" transform="rotate(151 501.0 328.1)"/><ellipse cx="431.9" cy="331.9" rx="2.01" ry="1.63" transform="rotate(20 431.9 331.9)"/><ellipse cx="436.4" cy="331.6" rx="2.46" ry="1.87" transform="rotate(74 436.4 331.6)"/><ellipse cx="442.0" cy="331.7" rx="2.08" ry="1.58" transform="rotate(11 442.0 331.7)"/><ellipse cx="445.5" cy="331.6" rx="2.19" ry="1.57" transform="rotate(95 445.5 331.6)"/><ellipse cx="450.9" cy="331.2" rx="2.46" ry="1.79" transform="rotate(64 450.9 331.2)"/><ellipse cx="454.8" cy="331.6" rx="2.12" ry="1.60" transform="rotate(110 454.8 331.6)"/><ellipse cx="459.1" cy="331.1" rx="2.18" ry="1.62" transform="rotate(175 459.1 331.1)"/><ellipse cx="462.9" cy="331.6" rx="2.21" ry="1.87" transform="rotate(57 462.9 331.6)"/><ellipse cx="468.3" cy="331.1" rx="2.41" ry="1.65" transform="rotate(22 468.3 331.1)"/><ellipse cx="473.0" cy="331.8" rx="2.48" ry="1.62" transform="rotate(172 473.0 331.8)"/><ellipse cx="476.3" cy="331.7" rx="2.27" ry="1.60" transform="rotate(62 476.3 331.7)"/><ellipse cx="481.0" cy="331.0" rx="2.56" ry="1.78" transform="rotate(97 481.0 331.0)"/><ellipse cx="484.8" cy="331.5" rx="2.15" ry="1.77" transform="rotate(106 484.8 331.5)"/><ellipse cx="489.8" cy="331.6" rx="2.25" ry="1.79" transform="rotate(9 489.8 331.6)"/><ellipse cx="493.6" cy="331.7" rx="2.33" ry="1.87" transform="rotate(1 493.6 331.7)"/><ellipse cx="498.5" cy="331.9" rx="2.29" ry="1.58" transform="rotate(158 498.5 331.9)"/></g>
<path d="M469.5,272 C470.5,269 473,267.5 476.5,266.5 C475.5,268.5 475.8,271.5 474.5,273.5 C472.5,275.2 470,274.5 469.5,272 Z" fill="#d2e6f0"/>
<path d="M451.5,285.5 C453,282.5 457,282.8 458.2,285.4 C457.6,288 453.8,289 451.5,285.5 Z" fill="#d2e6f0"/>
<path d="M457.5,323.5 C459,318.5 462,316.5 465.5,315.5 C467,314 468.5,313 469.5,312.5 C469,316 470,319 473,322 C475,323.5 477,324.5 478,325.5 C472,326.5 463,327 457.5,323.5 Z" fill="#d2e6f0"/>
</g>
<rect x="234.45" y="262.25" width="66.0" height="66.69999999999999" fill="none" stroke="#3a3a48" stroke-width="0.5"/>
<rect x="300.95" y="262.25" width="64.5" height="66.69999999999999" fill="none" stroke="#3a3a48" stroke-width="0.5"/>
<rect x="365.95" y="262.25" width="66.19999999999999" height="66.69999999999999" fill="none" stroke="#3a3a48" stroke-width="0.5"/>
<rect x="432.65" y="262.25" width="65.10000000000002" height="66.69999999999999" fill="none" stroke="#3a3a48" stroke-width="0.5"/>
<text x="6.6" y="379.4" font-size="10.3" fill="#111" font-weight="bold" stroke="#111" stroke-width="0.35">F</text>
<text x="100.4" y="390.5" font-size="8.7" fill="#333" text-anchor="middle" textLength="28.8" lengthAdjust="spacingAndGlyphs" stroke="#333" stroke-width="0.12">Day +11</text>
<line x1="86.00" y1="391.30" x2="114.80" y2="391.30" stroke="#333" stroke-width="0.6"/>
<text x="162.0" y="390.5" font-size="8.7" fill="#333" text-anchor="middle" textLength="30.0" lengthAdjust="spacingAndGlyphs" stroke="#333" stroke-width="0.12">Day +16</text>
<line x1="147.00" y1="391.30" x2="177.00" y2="391.30" stroke="#333" stroke-width="0.6"/>
<text x="228.5" y="390.5" font-size="8.7" fill="#333" text-anchor="middle" textLength="30.2" lengthAdjust="spacingAndGlyphs" stroke="#333" stroke-width="0.12">Day +19</text>
<line x1="213.40" y1="391.30" x2="243.60" y2="391.30" stroke="#333" stroke-width="0.6"/>
<text x="290.4" y="390.5" font-size="8.7" fill="#333" text-anchor="middle" textLength="29.6" lengthAdjust="spacingAndGlyphs" stroke="#333" stroke-width="0.12">Day +35</text>
<line x1="275.60" y1="391.30" x2="305.20" y2="391.30" stroke="#333" stroke-width="0.6"/>
<text x="353.0" y="390.5" font-size="8.7" fill="#333" text-anchor="middle" textLength="30.0" lengthAdjust="spacingAndGlyphs" stroke="#333" stroke-width="0.12">Day +70</text>
<line x1="338.00" y1="391.30" x2="368.00" y2="391.30" stroke="#333" stroke-width="0.6"/>
<text x="16.4" y="418.2" font-size="6.8" fill="#3a3a3a" textLength="46.4" lengthAdjust="spacingAndGlyphs" stroke="#3a3a3a" stroke-width="0.12">BALB→B6 HSCT</text>
<text x="16.4" y="425.9" font-size="6.8" fill="#3a3a3a" textLength="39.4" lengthAdjust="spacingAndGlyphs" stroke="#3a3a3a" stroke-width="0.12">CD47/cKit/Rux</text>
<text x="16.4" y="433.2" font-size="6.8" fill="#3a3a3a" textLength="49.2" lengthAdjust="spacingAndGlyphs" stroke="#3a3a3a" stroke-width="0.12">conditioned (<tspan font-style="italic">n</tspan> = 2)</text>
<text x="22.2" y="475.0" font-size="6.8" fill="#3a3a3a" textLength="43.8" lengthAdjust="spacingAndGlyphs" stroke="#3a3a3a" stroke-width="0.12">Non-transplanted</text>
<text x="22.2" y="481.7" font-size="6.8" fill="#3a3a3a" textLength="40.5" lengthAdjust="spacingAndGlyphs" stroke="#3a3a3a" stroke-width="0.12">B6 mice (<tspan font-style="italic">n</tspan> = 4)</text>
<g clip-path="url(#fc00)">
<g filter="url(#soft)">
<rect x="66.4" y="391.6" width="72.19999999999999" height="65.69999999999999" fill="#3d4048"/>
<ellipse cx="92" cy="399" rx="32" ry="7" fill="#5e6169" filter="url(#b3)"/><rect x="69" y="444" width="67" height="12" fill="#2c2e34" filter="url(#b2)"/><ellipse cx="76" cy="440" rx="8" ry="6" fill="#34363c" filter="url(#b2)"/>
<path d="M72.9,416 C78,410 85,409 98.6,406.2 C110,405 122,406 129.6,408.2 C134,412 134,416 133.4,419.8 C133,428 131,433 129.6,436.5 C126,443 122,447 118,448 C110,447 105,445 101.2,443 C95,441 90,439 85.8,436.5 C80,433 76,430 74.2,427.5 C72,423 72,419 72.9,416 Z" fill="#926a76" filter="url(#b1)"/>
<ellipse cx="92" cy="428" rx="12" ry="8" fill="#7a4e60" filter="url(#b2)" opacity="0.7"/>
<ellipse cx="124" cy="428" rx="7" ry="12" fill="#a48690" filter="url(#b2)" opacity="0.8"/>
<path d="M73,417 C76,412 82,410 88,409.5" fill="none" stroke="#a08068" stroke-width="3" filter="url(#b1)"/>
<path d="M74,420 C75,425 77,429 80,432" fill="none" stroke="#a27a68" stroke-width="2" filter="url(#b05)" opacity="0.8"/>
<path d="M97,407 C106,404 120,404.5 130,407.5 C132.5,410 132,413 129,414.5 C119,412.5 108,411.5 98,411 Z" fill="#ddd4c8" filter="url(#b1)"/>
<path d="M101.5,441 C101,432 104,425 110,420" fill="none" stroke="#ece4e0" stroke-width="1.3"/>
<path d="M105,443 C105,434 108,427 114,422" fill="none" stroke="#ece4e0" stroke-width="1.2"/>
<path d="M109,444 C109,436 112,429 117.5,424.5" fill="none" stroke="#e4dcd8" stroke-width="1.0"/>
<path d="M98,437 C99,430 102,426 106,423" fill="none" stroke="#ddd2d0" stroke-width="0.8"/>
<path d="M114,446 C115,440 117,434 121,430" fill="none" stroke="#d8ccd0" stroke-width="0.8"/>
</g>
<rect x="69.4" y="394.6" width="66.19999999999999" height="59.69999999999999" filter="url(#fur)" opacity="0.12"/>
<g fill="none" stroke="#c8ccd4" opacity="0.20"><path d="M75.5,421.3 Q84.4,422.9 93.4,422.1" stroke-width="0.55"/><path d="M125.4,426.7 Q130.3,421.2 137.4,418.9" stroke-width="0.77"/><path d="M136.6,413.0 Q144.7,408.0 154.0,406.2" stroke-width="0.43"/><path d="M78.8,413.8 Q89.3,411.0 100.2,411.9" stroke-width="0.78"/><path d="M106.7,452.4 Q111.8,453.3 116.9,453.3" stroke-width="0.41"/><path d="M64.8,417.2 Q72.9,416.1 80.7,417.9" stroke-width="0.73"/><path d="M134.0,406.1 Q142.7,406.0 150.4,402.0" stroke-width="0.41"/><path d="M106.6,457.1 Q115.7,457.7 124.6,455.3" stroke-width="0.58"/><path d="M86.5,430.7 Q93.0,431.0 99.1,428.5" stroke-width="0.51"/><path d="M101.2,442.7 Q111.4,444.4 121.6,444.4" stroke-width="0.46"/><path d="M129.0,453.0 Q138.3,453.0 147.7,452.9" stroke-width="0.57"/><path d="M108.8,399.9 Q118.7,397.4 128.8,399.0" stroke-width="0.69"/><path d="M118.2,398.0 Q124.1,392.3 131.7,388.8" stroke-width="0.49"/><path d="M111.7,435.0 Q119.7,434.4 127.7,435.3" stroke-width="0.36"/><path d="M73.1,403.0 Q81.7,399.9 90.9,399.9" stroke-width="0.53"/><path d="M135.8,417.5 Q144.1,418.3 152.4,417.4" stroke-width="0.56"/><path d="M105.9,438.4 Q115.4,435.7 122.7,429.2" stroke-width="0.37"/><path d="M79.5,406.9 Q83.9,404.6 87.9,401.6" stroke-width="0.41"/><path d="M69.5,455.5 Q76.9,453.2 84.4,451.1" stroke-width="0.50"/><path d="M99.0,403.1 Q104.6,401.2 110.4,401.7" stroke-width="0.44"/><path d="M95.8,454.4 Q106.6,452.6 117.4,452.0" stroke-width="0.47"/><path d="M118.6,402.9 Q125.3,403.6 131.6,406.2" stroke-width="0.47"/><path d="M87.6,454.9 Q95.6,455.6 103.0,458.7" stroke-width="0.35"/><path d="M70.5,410.4 Q79.0,411.5 87.2,409.2" stroke-width="0.72"/><path d="M91.3,436.6 Q99.7,432.6 108.9,432.1" stroke-width="0.79"/><path d="M66.1,432.6 Q74.5,427.6 84.3,426.4" stroke-width="0.75"/><path d="M64.6,440.8 Q72.2,439.2 79.7,440.6" stroke-width="0.52"/><path d="M98.4,404.4 Q107.2,399.9 115.8,394.8" stroke-width="0.47"/><path d="M112.1,433.7 Q119.3,430.0 126.0,425.6" stroke-width="0.40"/><path d="M87.3,449.8 Q92.8,448.7 98.4,448.3" stroke-width="0.56"/><path d="M118.4,449.6 Q121.9,447.1 125.6,444.9" stroke-width="0.36"/><path d="M76.2,397.0 Q82.1,390.8 90.3,388.0" stroke-width="0.60"/><path d="M138.0,399.4 Q146.2,398.1 154.2,399.9" stroke-width="0.78"/><path d="M120.5,416.0 Q125.1,417.7 129.9,417.5" stroke-width="0.73"/><path d="M73.2,453.4 Q83.7,452.6 94.0,454.6" stroke-width="0.68"/><path d="M123.8,413.9 Q127.2,411.5 130.5,409.1" stroke-width="0.60"/><path d="M73.9,433.6 Q80.0,429.4 86.0,425.2" stroke-width="0.44"/><path d="M68.0,452.5 Q76.3,451.2 84.1,454.4" stroke-width="0.59"/><path d="M137.8,443.1 Q142.1,443.1 146.3,442.8" stroke-width="0.45"/><path d="M139.6,390.4 Q147.7,383.9 157.9,381.5" stroke-width="0.49"/></g>
<rect x="69.4" y="394.6" width="66.19999999999999" height="59.69999999999999" filter="url(#mottle)" opacity="0.35"/>
</g>
<g clip-path="url(#fc10)">
<g filter="url(#soft)">
<rect x="132.6" y="391.6" width="72.0" height="65.69999999999999" fill="#5c5d62"/>
<rect x="187" y="394" width="16" height="61" fill="#2a2a2c" filter="url(#b2)"/><ellipse cx="142" cy="420" rx="11" ry="30" fill="#7a7c82" filter="url(#b3)"/><ellipse cx="165" cy="452" rx="25" ry="6" fill="#4e4f52" filter="url(#b3)"/>
<path d="M146,420 C148,410 156,407 164,408 C172,409 177,414 178,422 C179,432 176,441 168,446 C160,449 152,446 148,438 C145,432 145,426 146,420 Z" fill="#9c6a72" filter="url(#b1)"/>
<ellipse cx="158" cy="430" rx="8" ry="10" fill="#a87880" filter="url(#b2)" opacity="0.7"/>
<ellipse cx="173" cy="404" rx="14" ry="8.5" fill="#e8e4d8" filter="url(#b2)"/>
<ellipse cx="181" cy="421" rx="4.5" ry="11" fill="#cfcdc6" filter="url(#b2)" opacity="0.85"/>
<ellipse cx="159" cy="405.5" rx="6" ry="3" fill="#d6b67a" filter="url(#b1)"/>
<path d="M172,406 L196,400 M174,407 L197,413 M176,408 L193,426 M171,408 L186,434 M175,403 L191,396 M169,404 L180,395" fill="none" stroke="#e2ded6" stroke-width="0.7" opacity="0.55"/>
<path d="M155,420 C160,425 164,432 166,440 M160,416 C165,421 169,428 171,436" fill="none" stroke="#c89aa0" stroke-width="0.7" opacity="0.6"/>
</g>
<rect x="135.6" y="394.6" width="66.0" height="59.69999999999999" filter="url(#furb)" opacity="0.12"/>
<g fill="none" stroke="#d6d6d6" opacity="0.20"><path d="M149.3,430.1 Q154.6,436.9 159.7,443.9" stroke-width="0.49"/><path d="M141.1,459.2 Q145.1,463.3 149.7,466.9" stroke-width="0.67"/><path d="M199.5,409.1 Q204.4,411.1 209.6,412.6" stroke-width="0.76"/><path d="M186.4,399.3 Q191.0,400.2 194.8,402.7" stroke-width="0.57"/><path d="M142.3,408.5 Q148.6,411.7 155.7,412.2" stroke-width="0.46"/><path d="M177.2,417.5 Q182.7,420.3 188.8,421.2" stroke-width="0.73"/><path d="M186.3,451.6 Q191.5,454.8 195.5,459.5" stroke-width="0.61"/><path d="M176.9,444.3 Q181.0,453.4 189.3,458.9" stroke-width="0.65"/><path d="M182.5,445.3 Q189.9,451.8 199.3,454.5" stroke-width="0.58"/><path d="M156.7,416.2 Q163.2,420.6 169.8,425.2" stroke-width="0.53"/><path d="M186.7,437.3 Q195.9,443.7 200.2,454.0" stroke-width="0.53"/><path d="M187.1,427.0 Q192.1,429.9 196.6,433.6" stroke-width="0.74"/><path d="M181.5,450.8 Q186.5,460.3 194.9,466.9" stroke-width="0.76"/><path d="M198.8,454.4 Q205.2,457.0 211.3,460.0" stroke-width="0.70"/><path d="M204.9,436.4 Q209.5,437.4 213.2,440.3" stroke-width="0.38"/><path d="M142.0,389.6 Q146.9,393.6 153.2,394.5" stroke-width="0.42"/><path d="M137.6,452.2 Q142.3,458.2 147.3,463.9" stroke-width="0.50"/><path d="M160.8,409.3 Q171.2,413.2 182.2,412.3" stroke-width="0.74"/><path d="M141.9,434.0 Q151.1,432.6 159.8,435.9" stroke-width="0.62"/><path d="M142.7,457.8 Q145.8,464.3 151.7,468.5" stroke-width="0.70"/><path d="M144.1,449.5 Q147.5,454.2 151.8,458.1" stroke-width="0.49"/><path d="M132.6,421.6 Q142.0,424.4 151.8,424.9" stroke-width="0.46"/><path d="M161.3,394.2 Q168.3,398.7 176.6,400.1" stroke-width="0.79"/><path d="M177.9,420.6 Q182.1,427.6 188.7,432.6" stroke-width="0.51"/><path d="M198.2,403.2 Q203.5,405.0 208.5,407.6" stroke-width="0.63"/><path d="M201.7,392.3 Q205.7,396.2 210.9,398.3" stroke-width="0.68"/><path d="M204.2,456.9 Q208.5,460.9 213.6,463.7" stroke-width="0.56"/><path d="M150.8,397.1 Q156.6,401.5 160.1,407.8" stroke-width="0.45"/><path d="M140.9,393.5 Q146.9,397.7 151.8,403.1" stroke-width="0.50"/><path d="M151.4,425.2 Q155.4,427.4 159.0,430.0" stroke-width="0.75"/><path d="M184.8,425.4 Q191.1,426.6 196.3,430.3" stroke-width="0.49"/><path d="M139.6,392.0 Q149.9,396.7 161.1,395.5" stroke-width="0.37"/><path d="M157.4,397.6 Q165.6,399.3 172.9,403.5" stroke-width="0.55"/><path d="M144.0,425.4 Q150.2,426.3 156.3,427.7" stroke-width="0.47"/><path d="M167.8,443.9 Q177.7,446.4 185.8,452.4" stroke-width="0.67"/><path d="M193.6,455.9 Q198.0,460.3 203.3,463.6" stroke-width="0.63"/><path d="M160.9,431.4 Q165.0,431.0 169.0,432.2" stroke-width="0.76"/><path d="M132.1,407.5 Q140.0,414.0 147.2,421.2" stroke-width="0.58"/><path d="M199.6,409.6 Q205.3,411.3 211.3,411.4" stroke-width="0.50"/><path d="M174.3,394.7 Q180.0,404.2 189.4,410.1" stroke-width="0.42"/><path d="M203.7,451.5 Q210.8,451.8 217.2,454.9" stroke-width="0.52"/><path d="M188.8,396.1 Q198.0,399.8 204.1,407.5" stroke-width="0.42"/><path d="M190.0,446.6 Q199.5,450.5 209.5,452.8" stroke-width="0.36"/><path d="M186.2,402.1 Q196.3,402.8 204.5,408.8" stroke-width="0.72"/><path d="M157.7,431.8 Q165.7,433.0 172.9,436.8" stroke-width="0.61"/></g>
<rect x="135.6" y="394.6" width="66.0" height="59.69999999999999" filter="url(#mottle)" opacity="0.35"/>
</g>
<g clip-path="url(#fc20)">
<g filter="url(#soft)">
<rect x="198.6" y="391.6" width="65.1" height="65.69999999999999" fill="#33353a"/>
<ellipse cx="226" cy="401" rx="28" ry="7" fill="#4c5056" filter="url(#b3)"/><ellipse cx="255" cy="430" rx="5" ry="20" fill="#3e4146" filter="url(#b3)"/>
<ellipse cx="231.4" cy="425.6" rx="19" ry="19" fill="#25272a" filter="url(#b2)"/>
<ellipse cx="231.4" cy="425.6" rx="15.0" ry="15.5" fill="#a6766e" filter="url(#b1)"/>
<ellipse cx="229" cy="422" rx="8" ry="8" fill="#bc8c80" filter="url(#b2)" opacity="0.7"/>
<path d="M226,430 C230,424 234,421 239,418 M228,434 C232,428 236,425 241,423" fill="none" stroke="#dfa8a0" stroke-width="0.7" opacity="0.7"/>
</g>
<rect x="201.6" y="394.6" width="59.099999999999994" height="59.69999999999999" filter="url(#fur)" opacity="0.12"/>
<g fill="none" stroke="#c8ccd0" opacity="0.24"><path d="M213.2,396.4 Q218.3,393.8 223.0,390.5" stroke-width="0.42"/><path d="M264.4,436.6 Q267.9,433.8 270.0,429.7" stroke-width="0.75"/><path d="M219.9,397.0 Q229.8,394.0 239.7,391.5" stroke-width="0.40"/><path d="M248.5,457.3 Q253.9,453.1 256.9,447.1" stroke-width="0.69"/><path d="M260.0,432.9 Q267.8,425.5 272.5,415.7" stroke-width="0.74"/><path d="M219.7,410.7 Q229.1,405.5 239.9,405.1" stroke-width="0.39"/><path d="M205.8,435.7 Q209.0,431.6 212.0,427.4" stroke-width="0.78"/><path d="M229.7,395.3 Q232.4,389.8 236.1,384.9" stroke-width="0.44"/><path d="M202.3,413.3 Q204.3,408.1 208.6,404.4" stroke-width="0.60"/><path d="M248.9,414.1 Q250.8,407.2 255.8,402.0" stroke-width="0.41"/><path d="M214.7,452.6 Q216.1,445.0 221.4,439.4" stroke-width="0.51"/><path d="M264.3,448.3 Q268.2,443.8 273.1,440.5" stroke-width="0.59"/><path d="M226.9,408.0 Q233.6,400.7 235.2,391.0" stroke-width="0.78"/><path d="M231.7,417.6 Q236.8,407.9 242.6,398.7" stroke-width="0.38"/><path d="M263.6,435.0 Q269.9,430.2 277.4,427.8" stroke-width="0.71"/><path d="M248.1,425.2 Q253.5,425.0 258.1,422.0" stroke-width="0.61"/><path d="M204.3,447.9 Q213.2,444.0 222.4,440.8" stroke-width="0.62"/><path d="M238.4,439.6 Q241.6,435.8 245.3,432.8" stroke-width="0.51"/><path d="M199.6,401.8 Q205.4,396.7 212.6,393.9" stroke-width="0.73"/><path d="M199.9,389.7 Q209.8,386.1 217.3,378.8" stroke-width="0.64"/><path d="M227.8,407.5 Q235.6,403.4 244.2,402.3" stroke-width="0.75"/><path d="M248.2,457.2 Q253.3,452.3 257.9,446.9" stroke-width="0.48"/><path d="M217.2,454.4 Q227.1,451.7 235.9,446.3" stroke-width="0.64"/><path d="M199.4,446.7 Q204.8,440.2 208.9,432.8" stroke-width="0.44"/><path d="M246.0,395.2 Q249.7,386.6 255.2,378.9" stroke-width="0.58"/><path d="M240.5,427.1 Q249.0,422.2 258.5,419.9" stroke-width="0.39"/><path d="M229.7,454.5 Q235.1,446.7 241.0,439.2" stroke-width="0.78"/><path d="M200.4,403.6 Q211.4,401.4 219.8,394.1" stroke-width="0.74"/><path d="M216.4,427.0 Q219.4,420.4 222.4,413.8" stroke-width="0.39"/><path d="M209.4,450.5 Q217.3,446.6 223.0,439.7" stroke-width="0.77"/><path d="M262.3,406.2 Q265.7,403.0 269.9,401.0" stroke-width="0.52"/><path d="M199.6,398.3 Q207.4,392.4 215.9,387.7" stroke-width="0.42"/><path d="M241.5,400.0 Q245.2,397.9 249.3,397.1" stroke-width="0.76"/><path d="M245.7,411.5 Q249.5,403.9 253.6,396.4" stroke-width="0.37"/><path d="M260.4,396.7 Q267.3,394.1 273.6,390.1" stroke-width="0.39"/><path d="M256.2,458.1 Q259.4,452.4 261.6,446.3" stroke-width="0.60"/><path d="M257.0,426.7 Q263.3,417.7 271.6,410.4" stroke-width="0.63"/><path d="M219.0,390.9 Q223.4,385.1 230.2,382.6" stroke-width="0.72"/><path d="M242.9,443.1 Q248.4,436.8 255.6,432.3" stroke-width="0.57"/><path d="M238.7,424.4 Q243.1,419.0 249.1,415.6" stroke-width="0.44"/><path d="M215.5,457.6 Q217.6,451.4 222.4,446.9" stroke-width="0.50"/><path d="M244.5,408.1 Q250.5,404.8 257.4,404.4" stroke-width="0.74"/><path d="M218.3,421.7 Q224.5,420.3 229.8,416.8" stroke-width="0.38"/><path d="M228.4,405.5 Q234.9,404.5 240.6,401.4" stroke-width="0.67"/><path d="M206.4,452.2 Q211.2,447.6 217.7,446.0" stroke-width="0.77"/><path d="M233.0,392.3 Q236.1,387.7 240.5,384.2" stroke-width="0.65"/><path d="M237.8,429.8 Q242.9,428.6 247.4,426.1" stroke-width="0.57"/><path d="M226.6,448.8 Q231.6,443.9 238.4,442.0" stroke-width="0.71"/><path d="M248.3,447.7 Q258.0,444.1 267.9,441.1" stroke-width="0.61"/><path d="M241.3,432.7 Q245.5,430.7 249.7,428.5" stroke-width="0.54"/><path d="M223.5,412.0 Q229.9,403.7 235.5,394.8" stroke-width="0.80"/><path d="M225.4,437.5 Q232.3,433.0 239.0,428.3" stroke-width="0.35"/><path d="M218.1,446.8 Q221.9,443.9 226.7,442.9" stroke-width="0.58"/><path d="M256.3,402.4 Q262.8,395.3 267.8,387.0" stroke-width="0.37"/><path d="M213.3,395.9 Q217.4,393.6 221.3,391.1" stroke-width="0.41"/></g>
<rect x="201.6" y="394.6" width="59.099999999999994" height="59.69999999999999" filter="url(#mottle)" opacity="0.35"/>
</g>
<g clip-path="url(#fc30)">
<g filter="url(#soft)">
<rect x="257.7" y="391.6" width="68.10000000000002" height="65.69999999999999" fill="#4c4f54"/>
<ellipse cx="305" cy="400" rx="25" ry="9" fill="#62666c" filter="url(#b3)"/><ellipse cx="265" cy="425" rx="6" ry="30" fill="#3a3c40" filter="url(#b3)"/><ellipse cx="314" cy="432" rx="8" ry="15" fill="#60646a" filter="url(#b3)"/>
<ellipse cx="291.5" cy="421" rx="17" ry="14.5" fill="#6c5a60" filter="url(#b2)"/>
<ellipse cx="297" cy="418" rx="9" ry="10" fill="#88686e" filter="url(#b2)"/>
<ellipse cx="284" cy="426" rx="7" ry="7" fill="#7a5e64" filter="url(#b2)" opacity="0.8"/>
</g>
<rect x="260.7" y="394.6" width="62.10000000000002" height="59.69999999999999" filter="url(#furb)" opacity="0.12"/>
<g fill="none" stroke="#d0d2d6" opacity="0.24"><path d="M262.0,430.3 Q270.5,424.2 278.0,417.0" stroke-width="0.59"/><path d="M323.3,409.5 Q330.2,408.3 336.7,405.6" stroke-width="0.79"/><path d="M313.9,431.7 Q317.8,430.2 321.8,429.1" stroke-width="0.74"/><path d="M310.0,421.0 Q314.1,416.1 318.5,411.4" stroke-width="0.40"/><path d="M323.3,434.8 Q327.4,431.4 332.1,429.0" stroke-width="0.54"/><path d="M266.2,412.9 Q274.5,408.6 279.9,400.8" stroke-width="0.35"/><path d="M265.6,449.2 Q268.7,444.3 271.4,439.2" stroke-width="0.59"/><path d="M271.4,442.1 Q275.3,441.0 278.8,438.9" stroke-width="0.52"/><path d="M291.2,429.8 Q299.0,423.9 308.4,421.2" stroke-width="0.44"/><path d="M270.5,402.3 Q279.7,398.2 289.4,395.6" stroke-width="0.66"/><path d="M312.8,449.7 Q320.9,448.2 327.9,444.0" stroke-width="0.50"/><path d="M298.6,408.5 Q303.7,404.3 308.9,400.1" stroke-width="0.35"/><path d="M287.2,424.3 Q295.5,420.4 304.7,420.1" stroke-width="0.53"/><path d="M310.2,395.4 Q314.5,394.7 318.5,393.1" stroke-width="0.60"/><path d="M324.8,415.4 Q328.1,411.2 332.3,408.0" stroke-width="0.49"/><path d="M297.4,409.0 Q301.8,399.6 310.1,393.4" stroke-width="0.78"/><path d="M274.3,442.9 Q284.9,440.5 294.1,434.8" stroke-width="0.35"/><path d="M310.5,457.2 Q317.0,452.7 324.9,452.1" stroke-width="0.36"/><path d="M273.4,439.9 Q279.3,434.4 283.2,427.4" stroke-width="0.61"/><path d="M308.3,445.4 Q312.2,444.2 315.7,442.3" stroke-width="0.61"/><path d="M314.9,407.6 Q317.4,404.0 320.2,400.6" stroke-width="0.42"/><path d="M311.3,430.3 Q315.1,424.9 321.0,421.9" stroke-width="0.41"/><path d="M319.9,401.4 Q327.3,398.2 333.4,392.8" stroke-width="0.42"/><path d="M284.1,399.0 Q288.1,393.7 291.9,388.2" stroke-width="0.50"/><path d="M283.8,428.5 Q286.5,418.5 294.2,411.5" stroke-width="0.53"/><path d="M307.2,390.1 Q309.0,386.3 312.3,383.5" stroke-width="0.61"/><path d="M309.4,456.9 Q317.6,451.0 326.4,445.9" stroke-width="0.59"/><path d="M324.7,391.4 Q330.6,389.8 336.6,388.7" stroke-width="0.77"/><path d="M287.2,453.8 Q292.4,452.9 296.3,449.4" stroke-width="0.36"/><path d="M305.4,411.9 Q310.8,409.8 316.6,409.8" stroke-width="0.46"/><path d="M307.0,417.4 Q316.8,413.5 325.3,407.4" stroke-width="0.72"/><path d="M275.4,395.5 Q280.2,393.3 284.2,389.7" stroke-width="0.60"/><path d="M298.7,404.4 Q306.8,398.8 313.8,391.9" stroke-width="0.50"/><path d="M295.4,425.8 Q303.0,421.4 311.7,421.0" stroke-width="0.39"/><path d="M271.6,447.0 Q274.8,444.6 277.7,441.7" stroke-width="0.55"/><path d="M272.3,394.6 Q280.1,393.3 286.4,388.4" stroke-width="0.44"/><path d="M281.9,447.5 Q286.7,444.6 292.2,443.2" stroke-width="0.67"/><path d="M285.8,389.6 Q294.2,383.4 302.7,377.2" stroke-width="0.53"/><path d="M282.8,395.2 Q287.5,393.7 292.4,392.6" stroke-width="0.56"/><path d="M275.3,392.9 Q283.0,385.7 286.2,375.7" stroke-width="0.59"/><path d="M326.6,450.2 Q331.1,447.1 336.3,445.6" stroke-width="0.36"/><path d="M308.6,390.9 Q317.4,390.8 325.5,387.1" stroke-width="0.56"/><path d="M317.3,420.9 Q322.6,411.7 332.0,406.7" stroke-width="0.70"/><path d="M295.4,451.0 Q299.7,449.5 304.2,448.6" stroke-width="0.57"/><path d="M299.0,395.9 Q303.0,393.5 307.6,393.5" stroke-width="0.76"/><path d="M293.7,452.2 Q303.6,447.0 309.7,437.5" stroke-width="0.41"/><path d="M279.5,394.8 Q283.8,392.9 287.4,389.9" stroke-width="0.46"/><path d="M320.5,418.8 Q325.2,415.6 328.1,410.8" stroke-width="0.55"/><path d="M309.2,418.4 Q314.2,417.3 318.7,414.8" stroke-width="0.41"/><path d="M327.2,396.6 Q330.6,393.6 335.1,392.7" stroke-width="0.73"/><path d="M325.4,391.8 Q329.0,386.0 335.0,382.9" stroke-width="0.53"/><path d="M282.4,417.7 Q287.9,413.1 295.1,412.0" stroke-width="0.64"/><path d="M271.2,422.3 Q275.5,421.6 278.9,418.8" stroke-width="0.78"/><path d="M290.8,398.4 Q299.1,393.6 305.9,387.1" stroke-width="0.75"/><path d="M311.2,444.4 Q316.5,441.1 322.6,439.6" stroke-width="0.72"/></g>
<rect x="260.7" y="394.6" width="62.10000000000002" height="59.69999999999999" filter="url(#mottle)" opacity="0.35"/>
</g>
<g clip-path="url(#fc40)">
<g filter="url(#soft)">
<rect x="319.8" y="391.6" width="66.80000000000001" height="65.69999999999999" fill="#8c8c8f"/>
<ellipse cx="372" cy="410" rx="16" ry="22" fill="#b0b0b2" filter="url(#b3)"/><ellipse cx="338" cy="448" rx="22" ry="9" fill="#5e5f62" filter="url(#b3)"/><ellipse cx="332" cy="402" rx="10" ry="8" fill="#a2a2a4" filter="url(#b3)"/>
<ellipse cx="351" cy="420" rx="13.5" ry="11" fill="#9c7472" filter="url(#b2)"/>
<ellipse cx="355" cy="418" rx="6" ry="6" fill="#ae8684" filter="url(#b2)"/>
</g>
<rect x="322.8" y="394.6" width="60.80000000000001" height="59.69999999999999" filter="url(#fur)" opacity="0.12"/>
<g fill="none" stroke="#e4e4e6" opacity="0.28"><path d="M384.4,406.1 Q388.1,402.5 393.1,401.4" stroke-width="0.42"/><path d="M363.0,407.1 Q371.5,404.3 379.9,401.0" stroke-width="0.38"/><path d="M325.7,409.9 Q335.0,405.0 342.7,397.9" stroke-width="0.55"/><path d="M329.5,417.4 Q339.2,415.2 349.1,415.0" stroke-width="0.49"/><path d="M342.4,436.9 Q347.8,436.1 353.0,434.8" stroke-width="0.35"/><path d="M357.6,394.2 Q363.4,392.6 368.3,389.3" stroke-width="0.52"/><path d="M370.0,429.2 Q377.3,423.0 385.4,417.6" stroke-width="0.41"/><path d="M318.3,420.9 Q323.8,417.7 327.8,412.8" stroke-width="0.70"/><path d="M384.1,418.4 Q391.0,417.6 397.7,415.4" stroke-width="0.57"/><path d="M372.6,453.3 Q380.5,449.2 385.5,442.0" stroke-width="0.60"/><path d="M331.1,444.7 Q338.2,439.7 346.8,438.0" stroke-width="0.40"/><path d="M322.7,428.0 Q331.7,425.5 341.1,425.3" stroke-width="0.51"/><path d="M322.5,391.7 Q330.3,389.1 338.6,389.2" stroke-width="0.43"/><path d="M363.9,451.7 Q371.2,449.4 378.3,446.2" stroke-width="0.76"/><path d="M368.4,407.6 Q372.9,397.6 381.6,390.8" stroke-width="0.60"/><path d="M360.3,450.4 Q367.1,450.2 373.4,447.2" stroke-width="0.39"/><path d="M367.7,459.0 Q376.6,457.4 385.5,456.1" stroke-width="0.67"/><path d="M367.4,445.5 Q375.8,442.4 384.7,442.7" stroke-width="0.59"/><path d="M359.5,394.0 Q366.0,394.4 372.3,392.8" stroke-width="0.46"/><path d="M367.9,400.4 Q371.5,396.1 375.7,392.5" stroke-width="0.45"/><path d="M327.5,456.3 Q332.5,451.9 338.8,449.8" stroke-width="0.42"/><path d="M333.6,441.7 Q343.0,438.6 352.3,435.0" stroke-width="0.58"/><path d="M337.2,437.4 Q344.1,431.6 351.8,426.6" stroke-width="0.65"/><path d="M336.9,451.4 Q344.2,445.5 353.6,444.4" stroke-width="0.43"/><path d="M368.6,431.5 Q373.4,427.6 375.8,421.7" stroke-width="0.68"/><path d="M374.5,427.2 Q381.8,426.1 389.2,426.5" stroke-width="0.47"/><path d="M342.4,422.6 Q347.5,419.6 352.8,417.1" stroke-width="0.50"/><path d="M349.4,433.4 Q354.6,430.7 358.5,426.4" stroke-width="0.68"/><path d="M328.6,415.4 Q332.2,411.7 337.0,409.5" stroke-width="0.57"/><path d="M385.8,438.0 Q395.0,437.6 403.1,433.1" stroke-width="0.72"/><path d="M348.9,446.2 Q357.1,443.7 364.7,439.6" stroke-width="0.50"/><path d="M386.9,456.5 Q390.4,451.3 394.9,447.1" stroke-width="0.56"/><path d="M366.3,454.6 Q373.3,454.3 380.4,453.7" stroke-width="0.56"/><path d="M372.2,457.8 Q377.3,454.4 380.8,449.4" stroke-width="0.79"/><path d="M374.0,452.2 Q382.4,449.6 390.6,446.7" stroke-width="0.77"/><path d="M359.5,440.3 Q364.2,437.3 369.2,434.8" stroke-width="0.55"/><path d="M329.9,438.0 Q335.8,432.5 341.4,426.6" stroke-width="0.76"/><path d="M330.7,404.6 Q339.2,399.6 349.0,398.5" stroke-width="0.45"/><path d="M322.6,417.4 Q330.8,411.9 337.5,404.5" stroke-width="0.60"/><path d="M334.9,406.0 Q344.6,404.4 354.3,402.9" stroke-width="0.47"/><path d="M381.9,441.7 Q388.5,439.4 395.3,438.1" stroke-width="0.71"/><path d="M358.2,454.6 Q362.2,453.0 365.2,449.9" stroke-width="0.71"/><path d="M342.0,418.3 Q350.9,415.4 360.1,417.1" stroke-width="0.43"/><path d="M349.9,445.2 Q357.6,438.6 364.9,431.6" stroke-width="0.50"/><path d="M356.2,442.9 Q365.5,440.2 374.2,435.9" stroke-width="0.70"/><path d="M353.8,409.3 Q357.4,405.7 362.2,404.2" stroke-width="0.63"/><path d="M385.7,390.7 Q395.4,391.7 404.6,388.9" stroke-width="0.65"/><path d="M321.2,390.1 Q327.6,385.8 333.9,381.1" stroke-width="0.79"/><path d="M367.2,415.0 Q371.7,409.0 378.7,406.5" stroke-width="0.63"/><path d="M339.1,418.4 Q344.3,415.9 350.2,415.5" stroke-width="0.60"/><path d="M362.8,393.0 Q366.9,391.4 371.2,392.0" stroke-width="0.51"/><path d="M367.3,422.0 Q374.4,422.3 380.9,419.5" stroke-width="0.51"/><path d="M326.9,452.2 Q333.1,449.4 339.1,446.3" stroke-width="0.77"/><path d="M319.3,421.9 Q325.1,415.8 333.2,413.5" stroke-width="0.62"/><path d="M335.5,438.1 Q339.7,437.7 343.7,436.4" stroke-width="0.53"/><path d="M320.9,429.2 Q328.7,428.1 335.9,425.2" stroke-width="0.44"/><path d="M333.1,442.4 Q336.9,441.1 340.8,440.0" stroke-width="0.67"/><path d="M353.0,414.0 Q360.7,407.3 370.1,403.1" stroke-width="0.47"/><path d="M325.5,422.9 Q330.9,419.8 334.6,414.9" stroke-width="0.41"/><path d="M383.7,451.7 Q394.3,452.2 404.9,450.6" stroke-width="0.53"/></g>
<rect x="322.8" y="394.6" width="60.80000000000001" height="59.69999999999999" filter="url(#mottle)" opacity="0.35"/>
</g>
<g clip-path="url(#fc01)">
<g filter="url(#soft)">
<rect x="66.4" y="451.3" width="72.19999999999999" height="65.09999999999997" fill="#474b55"/>
<rect x="69" y="454" width="67" height="7" fill="#2e3036" filter="url(#b2)"/><ellipse cx="100" cy="508" rx="35" ry="8" fill="#3a3d45" filter="url(#b3)"/>
<path d="M70,468 C78,462 95,461 110,463 C122,464 131,470 130,480 C129,490 119,497 100,498 C85,498 72,491 70,481 Z" fill="#c2aaa2" filter="url(#b1)"/>
<ellipse cx="104" cy="480" rx="16" ry="9" fill="#d8cac0" filter="url(#b2)"/>
<ellipse cx="85" cy="476" rx="10" ry="6" fill="#b89090" filter="url(#b2)" opacity="0.7"/>
<path d="M72,472 C82,470 95,472 108,471 M74,488 C86,486 98,489 112,487" fill="none" stroke="#a87070" stroke-width="2" filter="url(#b1)" opacity="0.5"/>
<path d="M69,466 C73,472 75,482 72,492 L69,492 Z" fill="#c8a060" filter="url(#b1)"/>
<path d="M76,466 C82,464 88,464 92,465" fill="none" stroke="#c89860" stroke-width="1.2" filter="url(#b05)"/>
<path d="M82,494 C92,499 108,499 121,493" fill="none" stroke="#8a4a50" stroke-width="1.6" filter="url(#b05)"/>
<path d="M86,461 C96,457 108,458 118,462" fill="none" stroke="#8e9caa" stroke-width="2" filter="url(#b05)"/>
<path d="M108,490 C110,484 114,479 120,476 M112,491 C115,485 119,481 125,479 M100,487 C103,482 106,479 110,477" fill="none" stroke="#eee6de" stroke-width="1.1"/>
</g>
<rect x="69.4" y="454.3" width="66.19999999999999" height="59.099999999999966" filter="url(#furb)" opacity="0.12"/>
<g fill="none" stroke="#c0c6d0" opacity="0.20"><path d="M88.4,502.5 Q93.6,499.4 99.1,497.0" stroke-width="0.75"/><path d="M90.9,490.3 Q95.9,488.6 100.3,485.7" stroke-width="0.60"/><path d="M119.3,479.8 Q124.6,478.3 130.0,478.6" stroke-width="0.37"/><path d="M77.2,480.4 Q86.4,481.1 95.5,480.1" stroke-width="0.72"/><path d="M120.6,449.9 Q127.9,451.5 135.1,453.6" stroke-width="0.39"/><path d="M76.1,453.9 Q84.2,448.9 93.1,445.3" stroke-width="0.70"/><path d="M139.4,492.3 Q144.7,491.8 149.0,488.7" stroke-width="0.57"/><path d="M90.0,515.3 Q98.2,508.6 108.7,507.5" stroke-width="0.55"/><path d="M90.0,516.6 Q98.1,516.9 105.8,514.3" stroke-width="0.63"/><path d="M127.7,505.8 Q132.0,503.2 136.5,501.1" stroke-width="0.53"/><path d="M126.7,459.1 Q135.6,463.2 145.0,465.5" stroke-width="0.47"/><path d="M124.0,498.1 Q129.7,500.5 135.9,500.9" stroke-width="0.44"/><path d="M98.9,458.8 Q110.0,458.5 119.2,452.2" stroke-width="0.42"/><path d="M113.8,449.6 Q120.4,446.9 127.6,446.5" stroke-width="0.37"/><path d="M115.5,511.5 Q122.0,510.0 127.8,506.7" stroke-width="0.67"/><path d="M117.9,471.2 Q126.5,475.8 136.2,476.9" stroke-width="0.63"/><path d="M77.5,514.7 Q85.0,515.4 92.5,514.4" stroke-width="0.70"/><path d="M76.5,461.8 Q81.5,461.2 86.2,459.5" stroke-width="0.42"/><path d="M111.6,492.0 Q121.1,493.4 130.6,494.4" stroke-width="0.43"/><path d="M132.9,492.6 Q143.1,493.5 153.0,490.6" stroke-width="0.62"/><path d="M94.2,463.6 Q97.4,460.5 101.8,459.5" stroke-width="0.66"/><path d="M74.4,497.3 Q80.0,497.2 84.7,494.2" stroke-width="0.52"/><path d="M72.1,494.1 Q82.7,496.4 93.4,495.0" stroke-width="0.52"/><path d="M109.0,461.3 Q115.8,458.5 123.1,457.8" stroke-width="0.73"/><path d="M124.3,475.8 Q131.3,475.8 137.9,478.3" stroke-width="0.46"/><path d="M73.5,498.3 Q77.4,496.0 82.0,495.9" stroke-width="0.56"/><path d="M130.9,465.7 Q140.8,465.0 149.8,469.2" stroke-width="0.48"/><path d="M133.7,501.5 Q137.9,501.0 142.0,501.7" stroke-width="0.67"/><path d="M75.2,463.6 Q81.3,458.9 88.7,456.6" stroke-width="0.72"/><path d="M70.7,497.6 Q76.3,498.8 81.7,500.9" stroke-width="0.70"/><path d="M80.1,484.6 Q86.2,482.0 92.4,479.3" stroke-width="0.37"/><path d="M132.2,479.2 Q136.0,476.4 140.5,474.9" stroke-width="0.38"/><path d="M118.2,463.7 Q125.6,461.9 133.1,462.3" stroke-width="0.64"/><path d="M92.0,497.2 Q100.7,499.1 109.1,496.3" stroke-width="0.69"/><path d="M126.3,505.1 Q133.3,505.5 140.2,507.2" stroke-width="0.80"/><path d="M88.4,480.0 Q92.7,478.9 97.0,477.5" stroke-width="0.48"/><path d="M77.5,511.6 Q85.2,511.5 91.7,507.3" stroke-width="0.78"/><path d="M133.8,497.6 Q140.5,497.2 146.6,494.5" stroke-width="0.54"/><path d="M126.8,467.5 Q137.3,467.8 147.8,468.5" stroke-width="0.36"/><path d="M87.9,463.5 Q94.5,463.6 100.9,464.4" stroke-width="0.51"/></g>
<rect x="69.4" y="454.3" width="66.19999999999999" height="59.099999999999966" filter="url(#mottle)" opacity="0.35"/>
</g>
<g clip-path="url(#fc11)">
<g filter="url(#soft)">
<rect x="132.6" y="451.3" width="72.0" height="65.09999999999997" fill="#5f6064"/>
<ellipse cx="145" cy="468" rx="14" ry="16" fill="#7c7d80" filter="url(#b3)"/><ellipse cx="185" cy="505" rx="25" ry="12" fill="#4a4b4e" filter="url(#b3)"/>
<ellipse cx="164" cy="483" rx="13" ry="9" fill="#85706a" filter="url(#b2)" opacity="0.85"/>
<path d="M155,481 C157,477 163,475.5 169,476.5 C173,477.5 175,481 174,485 C172,489 166,490.5 160,489.5 C156,488 154,484.5 155,481 Z" fill="#5e2a20" filter="url(#b05)"/>
<ellipse cx="163" cy="482" rx="5" ry="3" fill="#6e3226" filter="url(#b1)"/>
<path d="M157,486 L160,484 M166,479 L170,481 M161,478 L163,480 M165,488 L168,487" stroke="#c8a090" stroke-width="0.7" fill="none" opacity="0.7"/>
</g>
<rect x="135.6" y="454.3" width="66.0" height="59.099999999999966" filter="url(#fur)" opacity="0.12"/>
<g fill="none" stroke="#d4d4d6" opacity="0.26"><path d="M145.3,480.4 Q150.9,479.8 155.7,477.0" stroke-width="0.46"/><path d="M141.7,479.9 Q150.4,476.4 156.2,469.1" stroke-width="0.78"/><path d="M183.7,483.0 Q191.2,480.3 199.2,481.0" stroke-width="0.45"/><path d="M197.5,450.7 Q203.3,447.3 209.8,445.9" stroke-width="0.42"/><path d="M150.2,478.4 Q157.1,469.9 165.0,462.3" stroke-width="0.59"/><path d="M184.9,485.9 Q194.4,483.0 202.9,477.9" stroke-width="0.75"/><path d="M190.4,494.0 Q194.2,492.4 197.6,490.1" stroke-width="0.58"/><path d="M148.8,457.2 Q155.4,451.9 163.8,451.1" stroke-width="0.58"/><path d="M146.1,470.7 Q150.4,470.6 154.4,469.2" stroke-width="0.51"/><path d="M142.8,454.9 Q149.3,454.5 155.6,453.1" stroke-width="0.68"/><path d="M188.1,454.0 Q194.0,448.2 200.7,443.2" stroke-width="0.45"/><path d="M190.7,485.9 Q198.1,485.7 204.9,482.6" stroke-width="0.47"/><path d="M160.0,480.2 Q168.7,477.9 177.7,476.6" stroke-width="0.49"/><path d="M187.2,503.9 Q195.6,498.5 205.4,496.1" stroke-width="0.55"/><path d="M164.5,468.2 Q169.3,466.0 174.6,466.0" stroke-width="0.48"/><path d="M171.3,480.4 Q178.1,476.1 184.7,471.6" stroke-width="0.53"/><path d="M182.4,484.8 Q186.7,478.2 191.6,472.1" stroke-width="0.77"/><path d="M174.0,457.3 Q180.9,454.0 186.1,448.3" stroke-width="0.46"/><path d="M160.3,505.0 Q166.1,499.0 174.1,496.2" stroke-width="0.64"/><path d="M142.5,498.1 Q151.8,494.0 161.9,494.9" stroke-width="0.47"/><path d="M181.3,502.4 Q185.7,501.7 190.3,501.7" stroke-width="0.49"/><path d="M168.0,509.1 Q173.4,503.2 179.7,498.3" stroke-width="0.44"/><path d="M174.3,496.4 Q178.2,493.4 180.4,489.0" stroke-width="0.73"/><path d="M165.3,472.7 Q170.3,471.2 175.1,469.0" stroke-width="0.74"/><path d="M165.5,516.1 Q172.3,511.3 175.9,503.8" stroke-width="0.79"/><path d="M156.3,508.2 Q161.2,507.4 166.2,506.9" stroke-width="0.59"/><path d="M191.0,458.7 Q195.7,455.8 201.1,454.7" stroke-width="0.48"/><path d="M202.6,489.7 Q208.3,485.1 212.0,478.8" stroke-width="0.79"/><path d="M136.1,455.2 Q141.8,450.3 145.8,444.0" stroke-width="0.57"/><path d="M174.6,510.4 Q179.6,509.4 184.6,508.7" stroke-width="0.62"/><path d="M173.8,457.3 Q182.5,457.6 190.6,454.4" stroke-width="0.64"/><path d="M197.1,471.5 Q202.4,466.6 205.9,460.2" stroke-width="0.39"/><path d="M165.8,497.3 Q171.4,490.5 179.1,486.1" stroke-width="0.44"/><path d="M197.1,458.2 Q200.5,455.3 203.0,451.6" stroke-width="0.57"/><path d="M174.9,503.4 Q181.0,500.4 187.4,498.2" stroke-width="0.70"/><path d="M138.4,484.3 Q144.9,481.9 151.8,480.9" stroke-width="0.53"/><path d="M153.0,474.4 Q162.4,469.7 172.4,466.4" stroke-width="0.66"/><path d="M158.8,510.8 Q166.6,506.9 172.6,500.6" stroke-width="0.48"/><path d="M193.4,491.1 Q199.5,486.7 207.1,486.2" stroke-width="0.77"/><path d="M153.9,495.1 Q160.5,495.2 166.3,492.0" stroke-width="0.76"/><path d="M178.7,496.5 Q186.3,490.5 191.0,482.0" stroke-width="0.77"/><path d="M136.2,471.8 Q141.8,464.8 146.7,457.3" stroke-width="0.58"/><path d="M136.0,512.5 Q140.5,512.8 144.5,510.7" stroke-width="0.36"/><path d="M133.0,455.2 Q137.4,453.2 142.2,453.1" stroke-width="0.70"/><path d="M181.8,479.5 Q188.8,475.4 196.9,475.6" stroke-width="0.46"/><path d="M176.7,483.6 Q182.8,479.1 188.9,474.5" stroke-width="0.58"/><path d="M190.2,460.6 Q197.0,457.8 204.2,456.8" stroke-width="0.71"/><path d="M137.3,485.2 Q144.3,481.6 148.3,474.8" stroke-width="0.64"/><path d="M165.1,461.7 Q174.0,454.9 185.0,452.5" stroke-width="0.70"/><path d="M134.5,457.8 Q142.3,450.7 150.9,444.5" stroke-width="0.55"/><path d="M133.1,495.6 Q137.9,493.3 142.6,490.9" stroke-width="0.42"/><path d="M180.3,512.9 Q190.6,509.5 201.5,510.1" stroke-width="0.76"/><path d="M182.9,512.2 Q190.8,510.3 198.8,510.1" stroke-width="0.56"/><path d="M172.2,479.1 Q182.4,479.0 191.1,473.7" stroke-width="0.36"/><path d="M185.9,458.5 Q192.2,458.7 198.4,457.6" stroke-width="0.53"/><path d="M187.2,461.1 Q195.2,453.4 206.0,450.7" stroke-width="0.55"/><path d="M195.6,517.5 Q201.1,515.6 206.9,515.8" stroke-width="0.36"/><path d="M165.1,452.9 Q169.5,451.7 174.1,452.3" stroke-width="0.44"/><path d="M161.6,476.4 Q168.7,476.5 175.2,473.7" stroke-width="0.64"/><path d="M136.1,501.3 Q141.8,496.3 146.7,490.5" stroke-width="0.37"/></g>
<rect x="135.6" y="454.3" width="66.0" height="59.099999999999966" filter="url(#mottle)" opacity="0.35"/>
</g>
<g clip-path="url(#fc21)">
<g filter="url(#soft)">
<rect x="198.6" y="451.3" width="65.1" height="65.09999999999997" fill="#47484c"/>
<ellipse cx="222" cy="466" rx="16" ry="10" fill="#6a6c70" filter="url(#b3)"/><ellipse cx="245" cy="500" rx="15" ry="12" fill="#3c3d40" filter="url(#b3)"/>
<ellipse cx="231" cy="483" rx="8" ry="5.5" fill="#625250" filter="url(#b2)"/>
<ellipse cx="230.5" cy="483" rx="2.8" ry="2.2" fill="#5a2820" filter="url(#b05)"/>
</g>
<rect x="201.6" y="454.3" width="59.099999999999994" height="59.099999999999966" filter="url(#furb)" opacity="0.12"/>
<g fill="none" stroke="#c8c8cc" opacity="0.24"><path d="M256.7,505.0 Q259.6,502.0 263.7,500.9" stroke-width="0.49"/><path d="M251.5,496.7 Q260.3,491.5 269.4,486.5" stroke-width="0.58"/><path d="M204.4,506.7 Q205.9,500.7 207.7,494.7" stroke-width="0.62"/><path d="M215.8,476.9 Q218.2,471.1 220.5,465.3" stroke-width="0.37"/><path d="M258.4,508.7 Q265.0,503.9 272.8,501.7" stroke-width="0.55"/><path d="M238.6,481.0 Q243.2,476.8 246.6,471.6" stroke-width="0.50"/><path d="M243.4,459.2 Q245.2,453.9 248.6,449.4" stroke-width="0.61"/><path d="M257.8,490.0 Q263.3,482.4 269.7,475.6" stroke-width="0.45"/><path d="M212.2,516.2 Q219.0,511.6 226.3,507.9" stroke-width="0.71"/><path d="M241.3,498.3 Q250.0,494.3 255.7,486.5" stroke-width="0.56"/><path d="M240.6,494.3 Q246.5,485.1 254.9,478.2" stroke-width="0.62"/><path d="M199.5,518.0 Q204.9,516.6 209.1,513.0" stroke-width="0.38"/><path d="M212.6,515.4 Q222.2,509.9 227.4,500.3" stroke-width="0.70"/><path d="M258.0,466.6 Q261.9,464.2 266.1,462.3" stroke-width="0.54"/><path d="M207.8,497.6 Q210.4,488.0 212.5,478.3" stroke-width="0.64"/><path d="M254.4,507.9 Q261.1,504.0 267.9,500.1" stroke-width="0.74"/><path d="M203.5,514.6 Q208.3,511.2 211.7,506.4" stroke-width="0.55"/><path d="M239.2,463.5 Q241.3,457.4 246.1,453.1" stroke-width="0.73"/><path d="M235.2,464.5 Q240.0,461.3 245.3,459.0" stroke-width="0.46"/><path d="M204.4,475.5 Q207.8,467.1 211.4,458.8" stroke-width="0.51"/><path d="M216.8,501.8 Q218.8,498.1 222.1,495.7" stroke-width="0.46"/><path d="M241.1,476.9 Q246.9,470.5 254.5,466.2" stroke-width="0.70"/><path d="M199.8,516.8 Q202.6,513.1 204.2,508.8" stroke-width="0.37"/><path d="M224.7,488.2 Q225.2,477.9 230.9,469.2" stroke-width="0.42"/><path d="M258.4,454.5 Q264.7,445.8 267.7,435.5" stroke-width="0.75"/><path d="M229.5,457.1 Q231.2,449.1 235.9,442.3" stroke-width="0.68"/><path d="M203.5,500.5 Q206.7,496.6 210.2,493.0" stroke-width="0.36"/><path d="M222.2,514.9 Q227.5,508.9 231.7,502.0" stroke-width="0.70"/><path d="M263.0,514.0 Q266.3,511.0 268.3,507.1" stroke-width="0.37"/><path d="M255.3,460.6 Q256.4,455.2 260.2,451.2" stroke-width="0.40"/><path d="M251.1,468.8 Q257.2,462.4 264.1,456.9" stroke-width="0.46"/><path d="M213.2,503.3 Q216.5,500.5 218.3,496.6" stroke-width="0.47"/><path d="M265.6,453.0 Q268.9,444.4 271.1,435.3" stroke-width="0.49"/><path d="M197.8,518.3 Q201.5,514.2 203.9,509.1" stroke-width="0.39"/><path d="M262.7,470.7 Q267.1,467.6 271.3,464.3" stroke-width="0.52"/><path d="M228.9,453.4 Q232.7,444.4 239.7,437.5" stroke-width="0.47"/><path d="M264.5,451.2 Q269.3,444.7 269.9,436.6" stroke-width="0.58"/><path d="M225.2,509.8 Q226.7,504.1 229.8,499.1" stroke-width="0.63"/><path d="M252.2,477.5 Q257.6,468.5 263.9,460.0" stroke-width="0.57"/><path d="M240.4,507.8 Q241.6,498.6 244.7,489.8" stroke-width="0.61"/><path d="M240.0,515.8 Q248.8,512.3 255.9,506.2" stroke-width="0.47"/><path d="M222.5,491.5 Q230.5,485.4 237.8,478.3" stroke-width="0.47"/><path d="M215.3,509.6 Q219.1,504.8 222.8,499.9" stroke-width="0.60"/><path d="M215.1,477.0 Q216.2,466.3 220.8,456.6" stroke-width="0.56"/><path d="M248.0,473.8 Q248.3,468.5 251.4,464.3" stroke-width="0.39"/><path d="M254.9,489.9 Q261.7,483.3 268.5,476.8" stroke-width="0.47"/><path d="M223.1,513.5 Q228.2,506.8 235.1,502.1" stroke-width="0.78"/><path d="M222.5,484.2 Q224.2,477.9 228.2,472.8" stroke-width="0.54"/><path d="M200.8,518.4 Q206.5,510.4 214.4,504.6" stroke-width="0.53"/><path d="M230.3,514.9 Q233.4,509.4 234.4,503.1" stroke-width="0.39"/><path d="M212.4,501.6 Q215.3,493.5 219.0,485.8" stroke-width="0.46"/><path d="M214.6,508.8 Q218.4,498.9 220.3,488.4" stroke-width="0.79"/><path d="M224.6,465.7 Q231.6,458.7 238.1,451.4" stroke-width="0.74"/><path d="M201.5,501.1 Q205.1,492.5 211.1,485.3" stroke-width="0.63"/><path d="M240.5,452.3 Q243.0,441.7 247.9,432.0" stroke-width="0.47"/></g>
<rect x="201.6" y="454.3" width="59.099999999999994" height="59.099999999999966" filter="url(#mottle)" opacity="0.35"/>
</g>
<rect x="69.65" y="394.85" width="65.69999999999999" height="59.19999999999999" fill="none" stroke="#222" stroke-width="0.6"/>
<rect x="135.85" y="394.85" width="65.5" height="59.19999999999999" fill="none" stroke="#222" stroke-width="0.6"/>
<rect x="201.85" y="394.85" width="58.599999999999994" height="59.19999999999999" fill="none" stroke="#222" stroke-width="0.6"/>
<rect x="260.95" y="394.85" width="61.60000000000002" height="59.19999999999999" fill="none" stroke="#222" stroke-width="0.6"/>
<rect x="323.05" y="394.85" width="60.30000000000001" height="59.19999999999999" fill="none" stroke="#222" stroke-width="0.6"/>
<rect x="69.65" y="454.55" width="65.69999999999999" height="58.599999999999966" fill="none" stroke="#222" stroke-width="0.6"/>
<rect x="135.85" y="454.55" width="65.5" height="58.599999999999966" fill="none" stroke="#222" stroke-width="0.6"/>
<rect x="201.85" y="454.55" width="58.599999999999994" height="58.599999999999966" fill="none" stroke="#222" stroke-width="0.6"/>
<rect x="0.5" y="0.5" width="519" height="520" fill="none" stroke="#4a4a4a" stroke-width="1"/>
</svg>
</body></html>
